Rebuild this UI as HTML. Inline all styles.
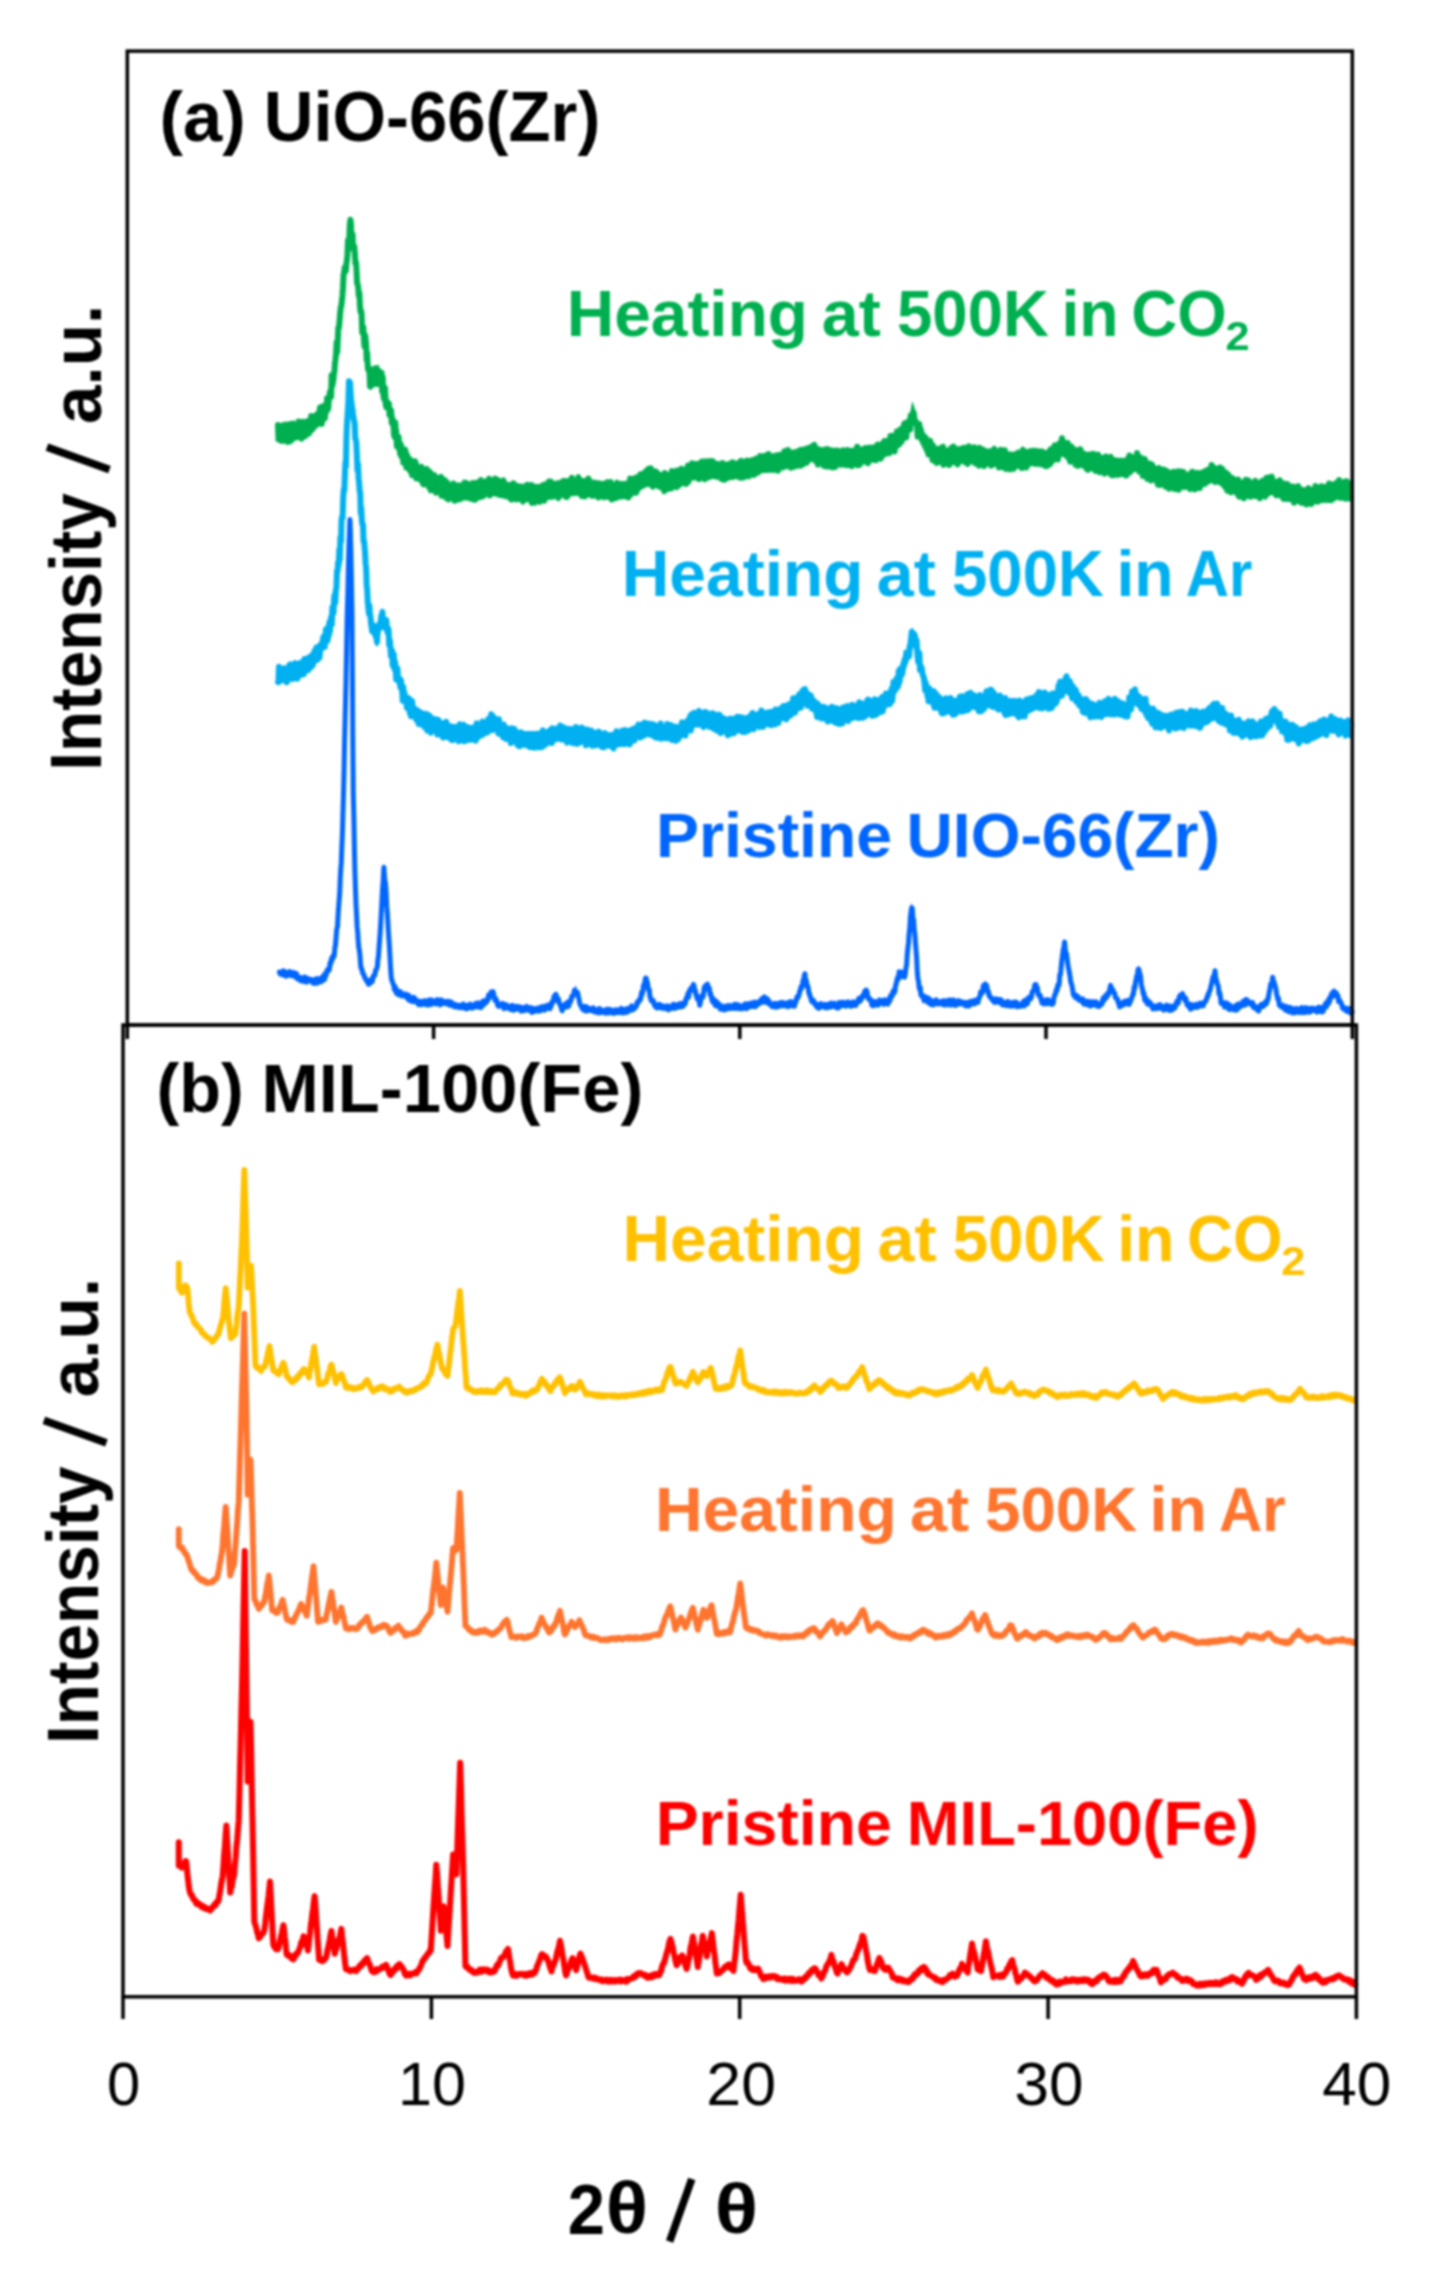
<!DOCTYPE html>
<html><head><meta charset="utf-8"><title>XRD patterns</title>
<style>html,body{margin:0;padding:0;background:#fff;}body{width:1433px;height:2289px;overflow:hidden;font-family:"Liberation Sans",sans-serif;}svg{display:block;}#w{filter:blur(0.8px);width:1433px;height:2289px;}</style>
</head><body><div id="w">
<svg width="1433" height="2289" viewBox="0 0 1433 2289">
<g font-family="Liberation Sans, sans-serif" font-size="100">
<text transform="translate(159.57 141.00) scale(0.70536 0.71014)" font-weight="bold" fill="#000">(a)</text>
<text transform="translate(263.67 141.00) scale(0.68870 0.71014)" font-weight="bold" fill="#000">UiO-66(Zr)</text>
<text transform="translate(156.48 1111.50) scale(0.68305 0.69420)" font-weight="bold" fill="#000">(b)</text>
<text transform="translate(261.38 1111.50) scale(0.68787 0.69420)" font-weight="bold" fill="#000">MIL-100(Fe)</text>
<text transform="translate(566.69 335.80) scale(0.65836 0.64928)" font-weight="bold" fill="#00B050">Heating</text>
<text transform="translate(821.81 335.80) scale(0.66471 0.64928)" font-weight="bold" fill="#00B050">at</text>
<text transform="translate(896.89 335.80) scale(0.63617 0.64928)" font-weight="bold" fill="#00B050">500K</text>
<text transform="translate(1061.39 335.80) scale(0.64474 0.64928)" font-weight="bold" fill="#00B050">in</text>
<text transform="translate(1131.15 335.80) scale(0.63732 0.64928)" font-weight="bold" fill="#00B050">CO</text>
<text transform="translate(1225.40 350.00) scale(0.43469 0.40000)" font-weight="bold" fill="#00B050">2</text>
<text transform="translate(622.49 1261.15) scale(0.65836 0.64928)" font-weight="bold" fill="#FFC000">Heating</text>
<text transform="translate(877.61 1261.15) scale(0.66471 0.64928)" font-weight="bold" fill="#FFC000">at</text>
<text transform="translate(952.69 1261.15) scale(0.63617 0.64928)" font-weight="bold" fill="#FFC000">500K</text>
<text transform="translate(1117.19 1261.15) scale(0.64474 0.64928)" font-weight="bold" fill="#FFC000">in</text>
<text transform="translate(1186.95 1261.15) scale(0.63732 0.64928)" font-weight="bold" fill="#FFC000">CO</text>
<text transform="translate(1281.20 1275.35) scale(0.43469 0.40000)" font-weight="bold" fill="#FFC000">2</text>
<text transform="translate(621.68 595.50) scale(0.65977 0.64493)" font-weight="bold" fill="#00B0F0">Heating</text>
<text transform="translate(876.81 595.50) scale(0.66471 0.64493)" font-weight="bold" fill="#00B0F0">at</text>
<text transform="translate(951.89 595.50) scale(0.63617 0.64493)" font-weight="bold" fill="#00B0F0">500K</text>
<text transform="translate(1116.39 595.50) scale(0.64474 0.64493)" font-weight="bold" fill="#00B0F0">in</text>
<text transform="translate(1185.70 595.50) scale(0.59907 0.64493)" font-weight="bold" fill="#00B0F0">Ar</text>
<text transform="translate(654.88 1531.40) scale(0.65977 0.63478)" font-weight="bold" fill="#FF742E">Heating</text>
<text transform="translate(910.01 1531.40) scale(0.66471 0.63478)" font-weight="bold" fill="#FF742E">at</text>
<text transform="translate(985.09 1531.40) scale(0.63617 0.63478)" font-weight="bold" fill="#FF742E">500K</text>
<text transform="translate(1149.59 1531.40) scale(0.64474 0.63478)" font-weight="bold" fill="#FF742E">in</text>
<text transform="translate(1218.90 1531.40) scale(0.59907 0.63478)" font-weight="bold" fill="#FF742E">Ar</text>
<text transform="translate(655.99 857.20) scale(0.64382 0.63478)" font-weight="bold" fill="#0066FF">Pristine</text>
<text transform="translate(906.56 857.20) scale(0.64079 0.63478)" font-weight="bold" fill="#0066FF">UIO-66(Zr)</text>
<text transform="translate(655.70 1844.80) scale(0.64354 0.63188)" font-weight="bold" fill="#FF0000">Pristine</text>
<text transform="translate(906.87 1844.80) scale(0.63309 0.63188)" font-weight="bold" fill="#FF0000">MIL-100(Fe)</text>
<text transform="translate(106.91 2104.89) scale(0.59792 0.60563)" font-weight="normal" fill="#000">0</text>
<text transform="translate(398.00 2104.89) scale(0.61212 0.60563)" font-weight="normal" fill="#000">10</text>
<text transform="translate(706.36 2104.89) scale(0.62745 0.60563)" font-weight="normal" fill="#000">20</text>
<text transform="translate(1014.62 2104.89) scale(0.62039 0.60563)" font-weight="normal" fill="#000">30</text>
<text transform="translate(1322.26 2104.89) scale(0.62190 0.60563)" font-weight="normal" fill="#000">40</text>
<text transform="translate(567.79 2233.50) scale(0.66939 0.70714)" font-weight="bold" fill="#000">2</text>
<text transform="translate(605.67 2233.47) scale(0.78261 0.72568)" font-weight="bold" fill="#000">θ</text>
<line x1="691.8" y1="2179" x2="669.6" y2="2241.5" stroke="#000" stroke-width="7.6"/>
<text transform="translate(714.69 2232.59) scale(0.80217 0.71081)" font-weight="bold" fill="#000">θ</text>
<text transform="translate(100.90 770.72) rotate(-90) scale(0.67469 0.71884)" font-weight="bold" fill="#000">Intensity</text>
<line x1="47.0" y1="447.2" x2="109.5" y2="469.6" stroke="#000" stroke-width="7.6"/>
<text transform="translate(100.80 423.98) rotate(-90) scale(0.69198 0.69636)" font-weight="bold" fill="#000">a.u.</text>
<text transform="translate(97.80 1743.92) rotate(-90) scale(0.67469 0.71884)" font-weight="bold" fill="#000">Intensity</text>
<line x1="43.9" y1="1420.4" x2="106.4" y2="1442.8" stroke="#000" stroke-width="7.6"/>
<text transform="translate(97.70 1397.18) rotate(-90) scale(0.69198 0.69636)" font-weight="bold" fill="#000">a.u.</text>
</g>
<g>
<polygon points="278.0,423.0 279.0,424.5 280.0,426.0 281.0,425.8 282.0,425.6 283.0,425.4 284.0,425.2 285.0,425.0 286.0,424.8 287.0,424.6 288.0,424.4 289.0,424.2 290.0,424.0 291.0,423.8 292.0,423.6 293.0,423.4 294.0,423.2 295.0,423.0 296.0,422.6 297.0,422.2 298.0,421.8 299.0,421.4 300.0,421.0 301.0,420.6 302.0,420.2 303.0,419.8 304.0,419.4 305.0,419.0 306.0,418.6 307.0,418.2 308.0,417.8 309.0,417.4 310.0,417.0 311.0,416.0 312.0,415.1 313.0,414.1 314.0,413.2 315.0,412.2 316.0,411.3 317.0,410.3 318.0,409.4 319.0,408.4 320.0,407.5 321.0,406.5 322.0,405.6 323.0,404.6 324.0,402.1 325.0,399.6 326.0,397.1 327.0,394.5 328.0,392.0 329.0,389.5 330.0,387.0 330.9,380.5 331.9,374.1 332.8,367.6 333.8,361.1 334.7,354.6 335.7,348.2 336.6,341.7 337.5,332.7 338.4,323.8 339.3,314.8 340.3,305.9 341.2,296.9 342.1,288.0 343.0,279.0 344.0,270.4 345.0,261.8 346.0,253.2 347.0,244.6 348.0,236.0 348.8,230.7 349.6,225.3 350.4,220.0 351.2,224.5 352.0,229.0 352.9,235.2 353.7,241.4 354.5,247.6 355.4,253.8 356.2,262.2 357.1,270.5 357.9,278.9 358.8,287.3 359.6,295.6 360.5,304.0 361.4,310.1 362.3,316.2 363.2,322.3 364.0,328.5 364.9,334.6 365.8,340.7 366.7,346.8 367.6,353.1 368.6,359.4 369.6,365.7 370.5,372.0 371.4,371.2 372.2,370.5 373.1,369.8 374.0,369.0 375.0,367.8 376.0,366.5 377.0,365.2 378.0,364.0 379.0,366.3 380.0,368.7 381.0,371.0 381.9,374.2 382.8,377.4 383.8,380.6 384.7,383.8 385.6,387.0 386.6,391.0 387.6,395.0 388.6,399.0 389.6,403.0 390.6,407.0 391.5,410.1 392.5,413.2 393.4,416.4 394.3,419.5 395.2,422.6 396.1,425.8 397.1,428.9 398.0,432.0 399.0,434.2 399.9,436.4 400.9,438.7 401.9,440.9 402.8,443.1 403.8,445.4 404.7,447.6 405.7,449.8 406.7,451.0 407.7,452.2 408.7,453.5 409.7,454.7 410.7,455.9 411.7,457.1 412.7,458.3 413.7,459.6 414.7,460.8 415.7,462.0 416.6,462.6 417.6,463.2 418.5,463.9 419.5,464.5 420.4,465.1 421.4,465.8 422.3,466.4 423.2,467.0 424.2,467.6 425.1,468.2 426.1,468.9 427.0,469.5 428.0,470.1 428.9,470.8 429.9,471.4 430.8,472.0 431.8,472.5 432.7,473.0 433.7,473.5 434.6,474.0 435.6,474.5 436.6,475.0 437.5,475.5 438.5,476.0 439.5,476.5 440.4,477.0 441.4,477.5 442.3,478.0 443.3,478.5 444.3,479.0 445.2,479.5 446.2,480.0 447.2,480.5 448.1,481.0 449.1,481.5 450.0,482.0 451.0,482.5 452.0,482.5 453.0,482.5 454.0,482.5 455.0,482.5 456.0,482.5 457.0,482.5 458.0,482.5 459.0,482.5 460.0,482.5 461.0,482.5 462.0,482.5 463.0,482.5 464.0,482.5 465.0,482.5 466.0,482.5 467.0,482.5 468.0,482.5 469.0,482.5 470.0,482.5 471.0,482.5 472.0,482.2 473.0,482.0 474.0,481.7 475.0,481.5 476.0,481.2 477.0,481.0 478.0,480.7 479.0,480.5 480.0,480.2 481.0,479.9 482.0,479.7 483.0,479.4 484.0,479.2 485.0,478.9 486.0,478.7 487.0,478.4 488.0,478.2 489.0,477.9 490.0,477.7 491.0,477.4 492.0,477.7 493.0,477.9 494.0,478.2 495.0,478.4 496.0,478.7 497.0,478.9 498.0,479.2 499.0,479.4 500.0,479.7 501.0,479.9 502.0,480.2 503.0,480.5 504.0,480.7 505.0,481.0 506.0,481.2 507.0,481.5 508.0,481.7 509.0,482.0 510.0,482.2 511.0,482.5 512.0,482.6 513.0,482.7 514.0,482.8 515.0,482.9 516.0,483.0 516.9,483.2 517.9,483.3 518.9,483.4 519.9,483.5 520.9,483.6 521.9,483.7 522.9,483.8 523.9,483.9 524.9,484.0 525.9,484.1 526.9,484.2 527.9,484.3 528.8,484.5 529.8,484.6 530.8,484.7 531.8,484.8 532.8,484.9 533.8,485.0 534.8,484.8 535.7,484.6 536.7,484.4 537.7,484.2 538.6,484.0 539.6,483.8 540.6,483.7 541.6,483.5 542.5,483.3 543.5,483.1 544.5,482.9 545.4,482.7 546.4,482.5 547.4,482.3 548.3,482.1 549.3,481.9 550.3,481.7 551.2,481.5 552.2,481.3 553.2,481.2 554.2,481.0 555.1,480.8 556.1,480.6 557.1,480.4 558.0,480.2 559.0,480.0 560.0,479.9 561.0,479.7 562.0,479.6 563.0,479.5 564.0,479.4 565.0,479.2 566.0,479.1 567.0,479.0 568.0,478.8 569.0,478.7 570.0,478.6 571.0,478.4 572.0,478.3 573.0,478.2 574.0,478.0 575.0,477.9 576.0,477.8 577.0,477.7 578.0,477.5 579.0,477.4 580.0,477.5 581.0,477.7 581.9,477.8 582.9,478.0 583.9,478.1 584.9,478.3 585.8,478.4 586.8,478.6 587.8,478.7 588.8,478.8 589.8,479.0 590.7,479.1 591.7,479.3 592.7,479.4 593.7,479.6 594.6,479.7 595.6,479.9 596.6,480.0 597.6,480.2 598.5,480.3 599.5,480.5 600.4,480.7 601.4,480.8 602.3,481.0 603.3,481.1 604.3,481.3 605.2,481.5 606.2,481.6 607.1,481.8 608.1,482.0 609.0,482.1 610.0,482.3 611.0,482.2 612.0,482.1 613.0,482.1 614.0,482.0 615.0,481.9 616.0,481.8 617.0,481.7 618.0,481.6 619.0,481.6 620.0,481.5 621.0,481.4 622.0,481.3 623.0,481.2 624.0,481.2 625.0,481.1 626.0,481.0 627.0,480.4 628.0,479.8 629.0,479.2 630.0,478.5 631.0,477.9 632.0,477.3 633.0,476.7 634.0,476.1 635.0,475.5 636.0,474.8 637.0,474.2 638.0,473.6 639.0,473.0 640.0,472.5 641.0,472.0 641.9,471.6 642.9,471.1 643.9,470.6 644.9,470.1 645.9,469.6 646.9,469.1 647.8,468.7 648.8,468.2 649.8,467.7 650.7,468.1 651.7,468.5 652.6,468.8 653.6,469.2 654.5,469.6 655.5,470.0 656.4,470.4 657.3,470.7 658.3,471.1 659.2,471.5 660.2,471.9 661.1,472.2 662.1,472.6 663.0,473.0 664.0,472.8 665.0,472.6 666.0,472.4 667.0,472.2 668.0,472.1 669.0,471.9 670.0,471.7 671.0,471.5 672.0,471.3 673.0,471.1 674.0,470.9 675.0,470.8 676.0,470.6 677.0,470.4 678.0,470.2 679.0,470.0 680.0,469.4 681.0,468.9 682.0,468.3 683.0,467.8 684.0,467.2 685.0,466.6 686.0,466.1 687.0,465.5 687.9,464.9 688.9,464.4 689.9,463.8 690.9,463.2 691.9,462.7 692.9,462.1 693.9,461.6 694.9,461.0 695.9,461.0 696.8,461.0 697.8,461.0 698.7,461.0 699.7,461.0 700.7,461.0 701.6,461.0 702.6,461.0 703.5,461.0 704.5,461.0 705.5,461.0 706.4,461.0 707.4,461.0 708.3,461.0 709.3,461.0 710.2,461.0 711.2,461.0 712.2,461.0 713.1,461.0 714.1,461.0 715.0,461.0 716.0,461.0 717.0,461.1 718.0,461.1 719.0,461.2 720.0,461.2 721.0,461.3 722.0,461.4 723.0,461.4 724.0,461.5 725.0,461.6 726.0,461.6 727.0,461.7 728.0,461.8 729.0,461.8 730.0,461.9 731.0,461.9 732.0,462.0 733.0,461.8 734.0,461.5 735.0,461.3 736.0,461.0 737.0,460.8 738.0,460.6 739.0,460.3 740.0,460.1 741.0,459.9 742.0,459.6 743.0,459.4 744.0,459.1 745.0,458.9 746.0,458.7 747.0,458.4 748.0,458.2 749.0,458.0 750.0,457.7 751.0,457.5 752.0,457.2 753.0,457.0 754.0,456.8 755.0,456.6 756.0,456.4 757.0,456.2 758.0,456.0 759.0,455.9 760.0,455.7 761.0,455.5 762.0,455.3 763.0,455.1 764.0,454.9 765.0,454.7 766.0,454.5 767.0,454.3 768.0,454.1 769.0,454.0 770.0,453.8 771.0,453.6 772.0,453.4 773.0,453.2 774.0,453.0 775.0,452.8 776.0,452.6 776.9,452.5 777.9,452.3 778.9,452.1 779.9,451.9 780.9,451.7 781.9,451.5 782.8,451.4 783.8,451.2 784.8,451.0 785.8,450.8 786.8,450.6 787.7,450.5 788.7,450.3 789.7,450.1 790.7,449.9 791.7,449.7 792.7,449.5 793.6,449.4 794.6,449.2 795.6,449.0 796.6,448.7 797.6,448.4 798.6,448.1 799.6,447.8 800.6,447.4 801.6,447.1 802.6,446.8 803.5,446.5 804.5,446.2 805.5,445.9 806.5,445.6 807.5,445.2 808.5,444.9 809.5,444.6 810.5,444.3 811.5,444.0 812.5,444.3 813.5,444.6 814.5,444.9 815.5,445.2 816.5,445.6 817.5,445.9 818.5,446.2 819.5,446.5 820.4,446.8 821.4,447.1 822.4,447.4 823.4,447.8 824.4,448.1 825.4,448.4 826.4,448.7 827.4,449.0 828.4,449.0 829.4,449.0 830.3,449.0 831.3,449.0 832.3,449.0 833.2,449.0 834.2,449.0 835.2,449.0 836.2,449.0 837.1,449.0 838.1,449.0 839.1,449.0 840.1,449.0 841.0,449.0 842.0,449.0 843.0,449.0 844.0,448.9 845.0,448.7 846.0,448.6 847.0,448.5 848.0,448.3 849.0,448.2 850.0,448.1 851.0,447.9 852.0,447.8 853.0,447.7 854.0,447.6 855.0,447.4 856.0,447.3 857.0,447.2 858.0,447.0 859.0,446.9 860.0,446.8 861.0,446.6 862.0,446.5 863.0,446.3 864.0,446.2 865.0,446.0 866.0,445.8 866.9,445.7 867.9,445.5 868.9,445.3 869.9,445.1 870.9,445.0 871.9,444.8 872.9,444.6 873.8,444.5 874.8,444.3 875.8,444.1 876.8,444.0 877.8,443.8 878.7,443.2 879.7,442.7 880.6,442.1 881.6,441.6 882.5,441.0 883.5,440.5 884.4,439.9 885.3,439.3 886.3,438.8 887.2,438.2 888.2,437.7 889.1,437.1 890.1,436.6 891.0,436.0 892.0,435.3 892.9,434.5 893.9,433.8 894.9,433.1 895.9,432.4 896.8,431.6 897.8,430.9 898.8,430.2 899.8,429.5 900.7,428.7 901.7,428.0 902.7,426.3 903.7,424.6 904.7,423.0 905.7,421.3 906.7,419.6 907.7,418.0 908.7,416.3 909.7,414.6 910.6,410.1 911.4,405.5 912.3,401.0 913.2,403.7 914.1,406.3 915.0,409.0 915.9,412.7 916.7,416.3 917.6,420.0 918.6,422.0 919.6,424.0 920.6,426.0 921.6,427.9 922.6,429.9 923.6,431.9 924.6,433.9 925.6,435.9 926.5,436.9 927.5,437.8 928.4,438.8 929.4,439.8 930.3,440.7 931.3,441.7 932.2,442.6 933.2,443.6 934.1,444.6 935.1,445.5 936.0,446.5 937.0,446.6 937.9,446.7 938.9,446.8 939.8,446.9 940.8,447.0 941.7,447.1 942.7,447.1 943.7,447.2 944.6,447.3 945.6,447.4 946.5,447.5 947.5,447.6 948.4,447.7 949.4,447.8 950.4,447.6 951.4,447.4 952.4,447.3 953.4,447.1 954.4,446.9 955.4,446.8 956.4,446.6 957.3,446.4 958.3,446.2 959.3,446.1 960.3,445.9 961.3,445.7 962.3,445.5 963.3,445.4 964.3,445.2 965.3,445.0 966.3,445.2 967.3,445.4 968.2,445.6 969.2,445.8 970.2,446.0 971.2,446.2 972.2,446.4 973.1,446.5 974.1,446.7 975.1,446.9 976.1,447.1 977.1,447.3 978.0,447.5 979.0,447.7 980.0,447.9 981.0,448.0 982.0,448.0 983.0,448.1 984.0,448.2 985.0,448.2 986.0,448.3 987.0,448.4 988.0,448.4 989.0,448.5 990.0,448.6 991.0,448.7 992.0,448.7 993.0,448.8 994.0,448.9 995.0,448.9 996.0,449.0 997.0,449.2 998.0,449.4 999.0,449.5 1000.0,449.7 1000.9,449.9 1001.9,450.1 1002.9,450.3 1003.9,450.4 1004.9,450.6 1005.9,450.8 1006.9,451.0 1007.8,451.2 1008.8,451.4 1009.8,451.5 1010.8,451.7 1011.8,451.9 1012.8,451.7 1013.7,451.5 1014.7,451.4 1015.7,451.2 1016.6,451.0 1017.6,450.8 1018.5,450.7 1019.5,450.5 1020.5,450.3 1021.4,450.1 1022.4,449.9 1023.4,449.8 1024.3,449.6 1025.3,449.4 1026.3,449.2 1027.2,449.1 1028.2,448.9 1029.1,448.7 1030.1,448.5 1031.1,448.4 1032.0,448.2 1033.0,448.0 1034.0,448.2 1035.0,448.3 1036.0,448.5 1037.0,448.6 1038.0,448.8 1039.0,449.0 1040.0,449.1 1041.0,449.3 1042.0,449.5 1043.0,449.6 1044.0,449.8 1045.0,450.0 1046.0,450.1 1047.0,450.3 1048.0,450.4 1049.0,450.6 1050.0,449.6 1051.0,448.5 1052.0,447.5 1053.0,446.4 1054.0,445.4 1055.0,444.3 1056.0,443.3 1057.0,442.2 1058.0,441.2 1059.0,440.1 1060.0,439.1 1061.0,438.0 1062.0,437.0 1063.0,438.0 1064.0,439.0 1065.0,440.0 1066.0,441.0 1067.0,441.7 1067.9,442.4 1068.8,443.1 1069.8,443.8 1070.8,444.5 1071.7,445.2 1072.7,445.9 1073.6,446.6 1074.5,447.3 1075.5,448.0 1076.5,448.3 1077.4,448.6 1078.4,448.9 1079.4,449.2 1080.3,449.6 1081.3,449.9 1082.3,450.2 1083.2,450.5 1084.2,450.8 1085.2,451.1 1086.2,451.4 1087.1,451.8 1088.1,452.1 1089.1,452.4 1090.0,452.7 1091.0,453.0 1092.0,453.2 1093.0,453.4 1094.0,453.5 1095.0,453.7 1096.0,453.9 1097.0,454.1 1098.0,454.3 1099.0,454.4 1100.0,454.6 1101.0,454.8 1102.0,455.0 1103.0,455.2 1104.0,455.4 1105.0,455.5 1106.0,455.7 1107.0,455.9 1108.0,456.1 1109.0,456.2 1110.0,456.4 1111.0,456.5 1112.0,456.7 1113.0,456.9 1114.0,457.0 1115.0,457.2 1116.0,457.4 1117.0,457.5 1118.0,457.7 1119.0,457.9 1120.0,458.0 1121.0,458.2 1122.0,458.3 1123.0,458.5 1124.0,458.1 1124.9,457.7 1125.9,457.3 1126.9,456.9 1127.8,456.5 1128.8,456.1 1129.8,455.8 1130.7,455.4 1131.7,455.0 1132.6,454.6 1133.6,454.2 1134.6,453.8 1135.5,453.4 1136.5,453.0 1137.4,453.7 1138.4,454.4 1139.3,455.0 1140.3,455.7 1141.2,456.4 1142.2,457.1 1143.1,457.8 1144.0,458.4 1145.0,459.1 1145.9,459.8 1146.9,460.5 1147.8,461.1 1148.8,461.8 1149.7,462.5 1150.7,463.0 1151.7,463.5 1152.7,464.0 1153.7,464.5 1154.7,465.0 1155.7,465.5 1156.7,466.0 1157.7,466.4 1158.6,466.9 1159.6,467.4 1160.6,467.9 1161.6,468.4 1162.6,468.9 1163.6,469.4 1164.6,469.9 1165.6,470.4 1166.6,470.5 1167.6,470.6 1168.6,470.7 1169.6,470.8 1170.6,470.8 1171.6,470.9 1172.6,471.0 1173.5,471.1 1174.5,471.2 1175.5,471.3 1176.5,471.4 1177.5,471.4 1178.5,471.5 1179.5,471.6 1180.5,471.7 1181.5,471.8 1182.5,471.8 1183.5,471.8 1184.5,471.8 1185.5,471.8 1186.5,471.8 1187.5,471.8 1188.5,471.8 1189.5,471.8 1190.4,471.8 1191.4,471.8 1192.4,471.8 1193.4,471.8 1194.4,471.8 1195.4,471.8 1196.4,471.8 1197.4,471.8 1198.4,471.3 1199.4,470.8 1200.4,470.3 1201.4,469.8 1202.4,469.3 1203.4,468.8 1204.4,468.3 1205.4,467.8 1206.4,467.3 1207.4,466.8 1208.4,466.3 1209.4,465.8 1210.4,465.3 1211.4,464.8 1212.4,464.3 1213.4,463.8 1214.3,464.4 1215.3,464.9 1216.2,465.5 1217.2,466.1 1218.1,466.7 1219.1,467.2 1220.0,467.8 1220.9,468.4 1221.9,468.9 1222.8,469.5 1223.8,470.1 1224.7,470.7 1225.7,471.2 1226.6,471.8 1227.5,472.4 1228.5,472.9 1229.5,473.5 1230.4,474.1 1231.3,474.6 1232.3,475.2 1233.2,475.8 1234.2,476.3 1235.2,476.9 1236.1,477.4 1237.0,478.0 1238.0,478.6 1239.0,479.1 1239.9,479.7 1240.9,479.8 1241.9,479.9 1242.9,479.9 1243.9,480.0 1244.9,480.1 1245.9,480.2 1246.9,480.3 1247.8,480.4 1248.8,480.4 1249.8,480.5 1250.8,480.6 1251.8,480.7 1252.8,480.8 1253.8,480.8 1254.8,480.9 1255.8,481.0 1256.8,480.8 1257.8,480.5 1258.8,480.2 1259.8,480.0 1260.8,479.8 1261.8,479.5 1262.8,479.2 1263.8,479.0 1264.7,478.8 1265.7,478.5 1266.7,478.2 1267.7,478.0 1268.7,477.8 1269.7,477.5 1270.7,477.2 1271.7,477.0 1272.7,477.4 1273.7,477.8 1274.7,478.3 1275.7,478.7 1276.7,479.1 1277.7,479.5 1278.7,479.9 1279.7,480.4 1280.6,480.8 1281.6,481.2 1282.6,481.6 1283.6,482.0 1284.6,482.4 1285.6,482.9 1286.6,483.3 1287.6,483.7 1288.6,483.9 1289.5,484.1 1290.5,484.3 1291.5,484.5 1292.4,484.8 1293.4,485.0 1294.4,485.2 1295.3,485.4 1296.3,485.6 1297.3,485.8 1298.3,486.0 1299.2,486.2 1300.2,486.4 1301.2,486.6 1302.1,486.9 1303.1,487.1 1304.1,487.3 1305.0,487.5 1306.0,487.7 1307.0,487.5 1308.0,487.4 1309.0,487.2 1310.0,487.0 1311.0,486.9 1312.0,486.7 1313.0,486.5 1314.0,486.4 1315.0,486.2 1316.0,486.0 1317.0,485.8 1318.0,485.7 1319.0,485.5 1320.0,485.3 1321.0,485.2 1322.0,485.0 1323.0,484.7 1324.0,484.3 1325.0,484.0 1326.0,483.7 1327.0,483.3 1328.0,483.0 1329.0,482.7 1330.0,482.4 1331.0,482.0 1332.0,481.7 1333.0,481.4 1334.0,481.0 1335.0,480.7 1336.0,480.4 1337.0,480.0 1338.0,479.7 1339.0,479.9 1340.0,480.1 1341.0,480.3 1342.0,480.5 1343.0,480.7 1344.0,480.9 1345.0,481.2 1346.0,481.4 1347.0,481.6 1348.0,481.8 1349.0,482.0 1350.0,482.2 1351.0,482.4 1351.0,500.4 1350.0,500.2 1349.0,500.0 1348.0,499.8 1347.0,499.6 1346.0,499.4 1345.0,499.2 1344.0,498.9 1343.0,498.7 1342.0,498.5 1341.0,498.3 1340.0,498.1 1339.0,497.9 1338.0,497.7 1337.0,498.0 1336.0,498.4 1335.0,498.7 1334.0,499.0 1333.0,499.4 1332.0,499.7 1331.0,500.0 1330.0,500.4 1329.0,500.7 1328.0,501.0 1327.0,501.3 1326.0,501.7 1325.0,502.0 1324.0,502.3 1323.0,502.7 1322.0,503.0 1321.0,503.2 1320.0,503.3 1319.0,503.5 1318.0,503.7 1317.0,503.8 1316.0,504.0 1315.0,504.2 1314.0,504.4 1313.0,504.5 1312.0,504.7 1311.0,504.9 1310.0,505.0 1309.0,505.2 1308.0,505.4 1307.0,505.5 1306.0,505.7 1305.0,505.5 1304.1,505.3 1303.1,505.1 1302.1,504.9 1301.2,504.6 1300.2,504.4 1299.2,504.2 1298.3,504.0 1297.3,503.8 1296.3,503.6 1295.3,503.4 1294.4,503.2 1293.4,503.0 1292.4,502.8 1291.5,502.5 1290.5,502.3 1289.5,502.1 1288.6,501.9 1287.6,501.7 1286.6,501.3 1285.6,500.9 1284.6,500.4 1283.6,500.0 1282.6,499.6 1281.6,499.2 1280.6,498.8 1279.7,498.4 1278.7,497.9 1277.7,497.5 1276.7,497.1 1275.7,496.7 1274.7,496.3 1273.7,495.8 1272.7,495.4 1271.7,495.0 1270.7,495.2 1269.7,495.5 1268.7,495.8 1267.7,496.0 1266.7,496.2 1265.7,496.5 1264.7,496.8 1263.8,497.0 1262.8,497.2 1261.8,497.5 1260.8,497.8 1259.8,498.0 1258.8,498.2 1257.8,498.5 1256.8,498.8 1255.8,499.0 1254.8,498.9 1253.8,498.8 1252.8,498.8 1251.8,498.7 1250.8,498.6 1249.8,498.5 1248.8,498.4 1247.8,498.4 1246.9,498.3 1245.9,498.2 1244.9,498.1 1243.9,498.0 1242.9,497.9 1241.9,497.9 1240.9,497.8 1239.9,497.7 1239.0,497.1 1238.0,496.6 1237.0,496.0 1236.1,495.4 1235.2,494.9 1234.2,494.3 1233.2,493.8 1232.3,493.2 1231.3,492.6 1230.4,492.1 1229.5,491.5 1228.5,490.9 1227.5,490.4 1226.6,489.8 1225.7,489.2 1224.7,488.7 1223.8,488.1 1222.8,487.5 1221.9,486.9 1220.9,486.4 1220.0,485.8 1219.1,485.2 1218.1,484.7 1217.2,484.1 1216.2,483.5 1215.3,482.9 1214.3,482.4 1213.4,481.8 1212.4,482.3 1211.4,482.8 1210.4,483.3 1209.4,483.8 1208.4,484.3 1207.4,484.8 1206.4,485.3 1205.4,485.8 1204.4,486.3 1203.4,486.8 1202.4,487.3 1201.4,487.8 1200.4,488.3 1199.4,488.8 1198.4,489.3 1197.4,489.8 1196.4,489.8 1195.4,489.8 1194.4,489.8 1193.4,489.8 1192.4,489.8 1191.4,489.8 1190.4,489.8 1189.5,489.8 1188.5,489.8 1187.5,489.8 1186.5,489.8 1185.5,489.8 1184.5,489.8 1183.5,489.8 1182.5,489.8 1181.5,489.8 1180.5,489.7 1179.5,489.6 1178.5,489.5 1177.5,489.4 1176.5,489.4 1175.5,489.3 1174.5,489.2 1173.5,489.1 1172.6,489.0 1171.6,488.9 1170.6,488.8 1169.6,488.8 1168.6,488.7 1167.6,488.6 1166.6,488.5 1165.6,488.4 1164.6,487.9 1163.6,487.4 1162.6,486.9 1161.6,486.4 1160.6,485.9 1159.6,485.4 1158.6,484.9 1157.7,484.4 1156.7,484.0 1155.7,483.5 1154.7,483.0 1153.7,482.5 1152.7,482.0 1151.7,481.5 1150.7,481.0 1149.7,480.5 1148.8,479.8 1147.8,479.1 1146.9,478.5 1145.9,477.8 1145.0,477.1 1144.0,476.4 1143.1,475.8 1142.2,475.1 1141.2,474.4 1140.3,473.7 1139.3,473.0 1138.4,472.4 1137.4,471.7 1136.5,471.0 1135.5,471.4 1134.6,471.8 1133.6,472.2 1132.6,472.6 1131.7,473.0 1130.7,473.4 1129.8,473.8 1128.8,474.1 1127.8,474.5 1126.9,474.9 1125.9,475.3 1124.9,475.7 1124.0,476.1 1123.0,476.5 1122.0,476.3 1121.0,476.2 1120.0,476.0 1119.0,475.9 1118.0,475.7 1117.0,475.5 1116.0,475.4 1115.0,475.2 1114.0,475.0 1113.0,474.9 1112.0,474.7 1111.0,474.5 1110.0,474.4 1109.0,474.2 1108.0,474.1 1107.0,473.9 1106.0,473.7 1105.0,473.5 1104.0,473.4 1103.0,473.2 1102.0,473.0 1101.0,472.8 1100.0,472.6 1099.0,472.4 1098.0,472.3 1097.0,472.1 1096.0,471.9 1095.0,471.7 1094.0,471.5 1093.0,471.4 1092.0,471.2 1091.0,471.0 1090.0,470.7 1089.1,470.4 1088.1,470.1 1087.1,469.8 1086.2,469.4 1085.2,469.1 1084.2,468.8 1083.2,468.5 1082.3,468.2 1081.3,467.9 1080.3,467.6 1079.4,467.2 1078.4,466.9 1077.4,466.6 1076.5,466.3 1075.5,466.0 1074.5,465.3 1073.6,464.6 1072.7,463.9 1071.7,463.2 1070.8,462.5 1069.8,461.8 1068.8,461.1 1067.9,460.4 1067.0,459.7 1066.0,459.0 1065.0,458.0 1064.0,457.0 1063.0,456.0 1062.0,455.0 1061.0,456.0 1060.0,457.1 1059.0,458.1 1058.0,459.2 1057.0,460.2 1056.0,461.3 1055.0,462.3 1054.0,463.4 1053.0,464.4 1052.0,465.5 1051.0,466.5 1050.0,467.6 1049.0,468.6 1048.0,468.4 1047.0,468.3 1046.0,468.1 1045.0,468.0 1044.0,467.8 1043.0,467.6 1042.0,467.5 1041.0,467.3 1040.0,467.1 1039.0,467.0 1038.0,466.8 1037.0,466.6 1036.0,466.5 1035.0,466.3 1034.0,466.2 1033.0,466.0 1032.0,466.2 1031.1,466.4 1030.1,466.5 1029.1,466.7 1028.2,466.9 1027.2,467.1 1026.3,467.2 1025.3,467.4 1024.3,467.6 1023.4,467.8 1022.4,467.9 1021.4,468.1 1020.5,468.3 1019.5,468.5 1018.5,468.7 1017.6,468.8 1016.6,469.0 1015.7,469.2 1014.7,469.4 1013.7,469.5 1012.8,469.7 1011.8,469.9 1010.8,469.7 1009.8,469.5 1008.8,469.4 1007.8,469.2 1006.9,469.0 1005.9,468.8 1004.9,468.6 1003.9,468.4 1002.9,468.3 1001.9,468.1 1000.9,467.9 1000.0,467.7 999.0,467.5 998.0,467.4 997.0,467.2 996.0,467.0 995.0,466.9 994.0,466.9 993.0,466.8 992.0,466.7 991.0,466.7 990.0,466.6 989.0,466.5 988.0,466.4 987.0,466.4 986.0,466.3 985.0,466.2 984.0,466.2 983.0,466.1 982.0,466.0 981.0,466.0 980.0,465.9 979.0,465.7 978.0,465.5 977.1,465.3 976.1,465.1 975.1,464.9 974.1,464.7 973.1,464.5 972.2,464.4 971.2,464.2 970.2,464.0 969.2,463.8 968.2,463.6 967.3,463.4 966.3,463.2 965.3,463.0 964.3,463.2 963.3,463.4 962.3,463.5 961.3,463.7 960.3,463.9 959.3,464.1 958.3,464.2 957.3,464.4 956.4,464.6 955.4,464.8 954.4,464.9 953.4,465.1 952.4,465.3 951.4,465.4 950.4,465.6 949.4,465.8 948.4,465.7 947.5,465.6 946.5,465.5 945.6,465.4 944.6,465.3 943.7,465.2 942.7,465.1 941.7,465.1 940.8,465.0 939.8,464.9 938.9,464.8 937.9,464.7 937.0,464.6 936.0,464.5 935.1,463.5 934.1,462.6 933.2,461.6 932.2,460.6 931.3,459.7 930.3,458.7 929.4,457.8 928.4,456.8 927.5,455.8 926.5,454.9 925.6,453.9 924.6,451.9 923.6,449.9 922.6,447.9 921.6,445.9 920.6,444.0 919.6,442.0 918.6,440.0 917.6,438.0 916.7,434.3 915.9,430.7 915.0,427.0 914.1,424.3 913.2,421.7 912.3,419.0 911.4,423.5 910.6,428.1 909.7,432.6 908.7,434.3 907.7,436.0 906.7,437.6 905.7,439.3 904.7,441.0 903.7,442.6 902.7,444.3 901.7,446.0 900.7,446.7 899.8,447.5 898.8,448.2 897.8,448.9 896.8,449.6 895.9,450.4 894.9,451.1 893.9,451.8 892.9,452.5 892.0,453.3 891.0,454.0 890.1,454.6 889.1,455.1 888.2,455.7 887.2,456.2 886.3,456.8 885.3,457.3 884.4,457.9 883.5,458.5 882.5,459.0 881.6,459.6 880.6,460.1 879.7,460.7 878.7,461.2 877.8,461.8 876.8,462.0 875.8,462.1 874.8,462.3 873.8,462.5 872.9,462.6 871.9,462.8 870.9,463.0 869.9,463.1 868.9,463.3 867.9,463.5 866.9,463.7 866.0,463.8 865.0,464.0 864.0,464.2 863.0,464.3 862.0,464.5 861.0,464.6 860.0,464.8 859.0,464.9 858.0,465.0 857.0,465.2 856.0,465.3 855.0,465.4 854.0,465.6 853.0,465.7 852.0,465.8 851.0,465.9 850.0,466.1 849.0,466.2 848.0,466.3 847.0,466.5 846.0,466.6 845.0,466.7 844.0,466.9 843.0,467.0 842.0,467.0 841.0,467.0 840.1,467.0 839.1,467.0 838.1,467.0 837.1,467.0 836.2,467.0 835.2,467.0 834.2,467.0 833.2,467.0 832.3,467.0 831.3,467.0 830.3,467.0 829.4,467.0 828.4,467.0 827.4,467.0 826.4,466.7 825.4,466.4 824.4,466.1 823.4,465.8 822.4,465.4 821.4,465.1 820.4,464.8 819.5,464.5 818.5,464.2 817.5,463.9 816.5,463.6 815.5,463.2 814.5,462.9 813.5,462.6 812.5,462.3 811.5,462.0 810.5,462.3 809.5,462.6 808.5,462.9 807.5,463.2 806.5,463.6 805.5,463.9 804.5,464.2 803.5,464.5 802.6,464.8 801.6,465.1 800.6,465.4 799.6,465.8 798.6,466.1 797.6,466.4 796.6,466.7 795.6,467.0 794.6,467.2 793.6,467.4 792.7,467.5 791.7,467.7 790.7,467.9 789.7,468.1 788.7,468.3 787.7,468.5 786.8,468.6 785.8,468.8 784.8,469.0 783.8,469.2 782.8,469.4 781.9,469.5 780.9,469.7 779.9,469.9 778.9,470.1 777.9,470.3 776.9,470.5 776.0,470.6 775.0,470.8 774.0,471.0 773.0,471.2 772.0,471.4 771.0,471.6 770.0,471.8 769.0,472.0 768.0,472.1 767.0,472.3 766.0,472.5 765.0,472.7 764.0,472.9 763.0,473.1 762.0,473.3 761.0,473.5 760.0,473.7 759.0,473.9 758.0,474.0 757.0,474.2 756.0,474.4 755.0,474.6 754.0,474.8 753.0,475.0 752.0,475.2 751.0,475.5 750.0,475.7 749.0,476.0 748.0,476.2 747.0,476.4 746.0,476.7 745.0,476.9 744.0,477.1 743.0,477.4 742.0,477.6 741.0,477.9 740.0,478.1 739.0,478.3 738.0,478.6 737.0,478.8 736.0,479.0 735.0,479.3 734.0,479.5 733.0,479.8 732.0,480.0 731.0,479.9 730.0,479.9 729.0,479.8 728.0,479.8 727.0,479.7 726.0,479.6 725.0,479.6 724.0,479.5 723.0,479.4 722.0,479.4 721.0,479.3 720.0,479.2 719.0,479.2 718.0,479.1 717.0,479.1 716.0,479.0 715.0,479.0 714.1,479.0 713.1,479.0 712.2,479.0 711.2,479.0 710.2,479.0 709.3,479.0 708.3,479.0 707.4,479.0 706.4,479.0 705.5,479.0 704.5,479.0 703.5,479.0 702.6,479.0 701.6,479.0 700.7,479.0 699.7,479.0 698.7,479.0 697.8,479.0 696.8,479.0 695.9,479.0 694.9,479.0 693.9,479.6 692.9,480.1 691.9,480.7 690.9,481.2 689.9,481.8 688.9,482.4 687.9,482.9 687.0,483.5 686.0,484.1 685.0,484.6 684.0,485.2 683.0,485.8 682.0,486.3 681.0,486.9 680.0,487.4 679.0,488.0 678.0,488.2 677.0,488.4 676.0,488.6 675.0,488.8 674.0,488.9 673.0,489.1 672.0,489.3 671.0,489.5 670.0,489.7 669.0,489.9 668.0,490.1 667.0,490.2 666.0,490.4 665.0,490.6 664.0,490.8 663.0,491.0 662.1,490.6 661.1,490.2 660.2,489.9 659.2,489.5 658.3,489.1 657.3,488.7 656.4,488.4 655.5,488.0 654.5,487.6 653.6,487.2 652.6,486.8 651.7,486.5 650.7,486.1 649.8,485.7 648.8,486.2 647.8,486.7 646.9,487.1 645.9,487.6 644.9,488.1 643.9,488.6 642.9,489.1 641.9,489.6 641.0,490.0 640.0,490.5 639.0,491.0 638.0,491.6 637.0,492.2 636.0,492.8 635.0,493.5 634.0,494.1 633.0,494.7 632.0,495.3 631.0,495.9 630.0,496.5 629.0,497.2 628.0,497.8 627.0,498.4 626.0,499.0 625.0,499.1 624.0,499.2 623.0,499.2 622.0,499.3 621.0,499.4 620.0,499.5 619.0,499.6 618.0,499.6 617.0,499.7 616.0,499.8 615.0,499.9 614.0,500.0 613.0,500.1 612.0,500.1 611.0,500.2 610.0,500.3 609.0,500.1 608.1,500.0 607.1,499.8 606.2,499.6 605.2,499.5 604.3,499.3 603.3,499.1 602.3,499.0 601.4,498.8 600.4,498.7 599.5,498.5 598.5,498.3 597.6,498.2 596.6,498.0 595.6,497.9 594.6,497.7 593.7,497.6 592.7,497.4 591.7,497.3 590.7,497.1 589.8,497.0 588.8,496.8 587.8,496.7 586.8,496.6 585.8,496.4 584.9,496.3 583.9,496.1 582.9,496.0 581.9,495.8 581.0,495.7 580.0,495.5 579.0,495.4 578.0,495.5 577.0,495.7 576.0,495.8 575.0,495.9 574.0,496.0 573.0,496.2 572.0,496.3 571.0,496.4 570.0,496.6 569.0,496.7 568.0,496.8 567.0,497.0 566.0,497.1 565.0,497.2 564.0,497.4 563.0,497.5 562.0,497.6 561.0,497.7 560.0,497.9 559.0,498.0 558.0,498.2 557.1,498.4 556.1,498.6 555.1,498.8 554.2,499.0 553.2,499.2 552.2,499.3 551.2,499.5 550.3,499.7 549.3,499.9 548.3,500.1 547.4,500.3 546.4,500.5 545.4,500.7 544.5,500.9 543.5,501.1 542.5,501.3 541.6,501.5 540.6,501.7 539.6,501.8 538.6,502.0 537.7,502.2 536.7,502.4 535.7,502.6 534.8,502.8 533.8,503.0 532.8,502.9 531.8,502.8 530.8,502.7 529.8,502.6 528.8,502.5 527.9,502.3 526.9,502.2 525.9,502.1 524.9,502.0 523.9,501.9 522.9,501.8 521.9,501.7 520.9,501.6 519.9,501.5 518.9,501.4 517.9,501.3 516.9,501.2 516.0,501.0 515.0,500.9 514.0,500.8 513.0,500.7 512.0,500.6 511.0,500.5 510.0,500.2 509.0,500.0 508.0,499.7 507.0,499.5 506.0,499.2 505.0,499.0 504.0,498.7 503.0,498.5 502.0,498.2 501.0,497.9 500.0,497.7 499.0,497.4 498.0,497.2 497.0,496.9 496.0,496.7 495.0,496.4 494.0,496.2 493.0,495.9 492.0,495.7 491.0,495.4 490.0,495.7 489.0,495.9 488.0,496.2 487.0,496.4 486.0,496.7 485.0,496.9 484.0,497.2 483.0,497.4 482.0,497.7 481.0,497.9 480.0,498.2 479.0,498.5 478.0,498.7 477.0,499.0 476.0,499.2 475.0,499.5 474.0,499.7 473.0,500.0 472.0,500.2 471.0,500.5 470.0,500.5 469.0,500.5 468.0,500.5 467.0,500.5 466.0,500.5 465.0,500.5 464.0,500.5 463.0,500.5 462.0,500.5 461.0,500.5 460.0,500.5 459.0,500.5 458.0,500.5 457.0,500.5 456.0,500.5 455.0,500.5 454.0,500.5 453.0,500.5 452.0,500.5 451.0,500.5 450.0,500.0 449.1,499.5 448.1,499.0 447.2,498.5 446.2,498.0 445.2,497.5 444.3,497.0 443.3,496.5 442.3,496.0 441.4,495.5 440.4,495.0 439.5,494.5 438.5,494.0 437.5,493.5 436.6,493.0 435.6,492.5 434.6,492.0 433.7,491.5 432.7,491.0 431.8,490.5 430.8,490.0 429.9,489.4 428.9,488.8 428.0,488.1 427.0,487.5 426.1,486.9 425.1,486.2 424.2,485.6 423.2,485.0 422.3,484.4 421.4,483.8 420.4,483.1 419.5,482.5 418.5,481.9 417.6,481.2 416.6,480.6 415.7,480.0 414.7,478.8 413.7,477.6 412.7,476.3 411.7,475.1 410.7,473.9 409.7,472.7 408.7,471.5 407.7,470.2 406.7,469.0 405.7,467.8 404.7,465.6 403.8,463.4 402.8,461.1 401.9,458.9 400.9,456.7 399.9,454.4 399.0,452.2 398.0,450.0 397.1,446.9 396.1,443.8 395.2,440.6 394.3,437.5 393.4,434.4 392.5,431.2 391.5,428.1 390.6,425.0 389.6,421.0 388.6,417.0 387.6,413.0 386.6,409.0 385.6,405.0 384.7,401.8 383.8,398.6 382.8,395.4 381.9,392.2 381.0,389.0 380.0,386.7 379.0,384.3 378.0,382.0 377.0,383.2 376.0,384.5 375.0,385.8 374.0,387.0 373.1,387.8 372.2,388.5 371.4,389.2 370.5,390.0 369.6,383.7 368.6,377.4 367.6,371.1 366.7,364.8 365.8,358.7 364.9,352.6 364.0,346.5 363.2,340.3 362.3,334.2 361.4,328.1 360.5,322.0 359.6,313.6 358.8,305.3 357.9,296.9 357.1,288.5 356.2,280.2 355.4,271.8 354.5,265.6 353.7,259.4 352.9,253.2 352.0,247.0 351.2,242.5 350.4,238.0 349.6,243.3 348.8,248.7 348.0,254.0 347.0,262.6 346.0,271.2 345.0,279.8 344.0,288.4 343.0,297.0 342.1,306.0 341.2,314.9 340.3,323.9 339.3,332.8 338.4,341.8 337.5,350.7 336.6,359.7 335.7,366.2 334.7,372.6 333.8,379.1 332.8,385.6 331.9,392.1 330.9,398.5 330.0,405.0 329.0,407.5 328.0,410.0 327.0,412.5 326.0,415.1 325.0,417.6 324.0,420.1 323.0,422.6 322.0,423.6 321.0,424.5 320.0,425.5 319.0,426.4 318.0,427.4 317.0,428.3 316.0,429.3 315.0,430.2 314.0,431.2 313.0,432.1 312.0,433.1 311.0,434.0 310.0,435.0 309.0,435.4 308.0,435.8 307.0,436.2 306.0,436.6 305.0,437.0 304.0,437.4 303.0,437.8 302.0,438.2 301.0,438.6 300.0,439.0 299.0,439.4 298.0,439.8 297.0,440.2 296.0,440.6 295.0,441.0 294.0,441.2 293.0,441.4 292.0,441.6 291.0,441.8 290.0,442.0 289.0,442.2 288.0,442.4 287.0,442.6 286.0,442.8 285.0,443.0 284.0,443.2 283.0,443.4 282.0,443.6 281.0,443.8 280.0,444.0 279.0,442.5 278.0,441.0" fill="#00B050" stroke="none"/>
<polyline points="278.0,425.1 278.5,439.4 279.0,438.5 279.5,429.6 280.0,434.9 280.6,433.9 281.2,437.6 281.8,440.1 282.4,426.8 283.0,425.4 283.6,440.7 284.2,432.9 284.8,439.0 285.4,424.5 286.0,432.8 286.6,437.9 287.2,428.4 287.8,441.9 288.4,440.9 289.0,424.3 289.6,424.1 290.2,433.7 290.8,441.2 291.4,430.5 292.0,427.2 292.6,431.0 293.2,423.4 293.8,427.0 294.4,430.9 295.0,431.9 295.6,426.7 296.2,426.4 296.8,425.9 297.4,430.3 298.0,426.8 298.6,421.5 299.2,436.7 299.8,431.2 300.4,432.5 301.0,423.6 301.6,438.7 302.2,436.0 302.8,421.7 303.4,425.5 304.0,432.6 304.6,432.2 305.2,436.2 305.8,426.2 306.4,433.7 307.0,430.4 307.6,423.2 308.2,428.4 308.8,433.7 309.4,432.8 310.0,426.1 310.6,427.1 311.2,416.0 311.8,419.4 312.4,429.4 313.0,421.6 313.5,416.4 314.1,423.0 314.7,425.3 315.3,424.2 315.9,418.0 316.5,418.6 317.1,419.4 317.7,424.0 318.3,418.5 318.9,415.5 319.5,416.8 320.0,407.5 320.6,407.2 321.2,419.2 321.8,423.9 322.4,415.9 323.0,411.6 323.6,405.9 324.2,410.7 324.8,418.4 325.3,412.9 325.9,407.0 326.5,411.6 327.1,398.2 327.7,402.1 328.2,409.0 328.8,400.4 329.4,396.7 330.0,391.6 330.6,393.1 331.1,397.1 331.6,375.3 332.2,386.3 332.8,383.2 333.3,380.7 333.9,374.1 334.4,371.7 335.0,362.4 335.5,359.4 336.1,353.1 336.6,342.3 337.2,352.0 337.8,340.6 338.3,327.9 338.9,328.0 339.5,321.9 340.1,313.8 340.7,307.9 341.3,305.8 341.8,301.7 342.4,295.8 343.0,287.2 343.6,274.3 344.1,273.3 344.7,267.5 345.2,270.5 345.8,271.0 346.3,265.0 346.9,260.2 347.4,255.8 348.0,240.4 348.6,247.5 349.2,240.3 349.8,225.1 350.4,219.8 350.9,222.8 351.5,239.9 352.0,233.2 352.6,234.7 353.1,248.6 353.7,247.4 354.3,246.4 354.8,252.2 355.4,263.3 356.0,262.1 356.5,269.6 357.1,283.6 357.7,284.3 358.2,287.3 358.8,295.8 359.4,292.8 359.9,305.3 360.5,311.5 361.1,311.0 361.6,313.3 362.2,332.3 362.8,328.8 363.3,326.9 363.9,338.4 364.4,346.3 365.0,335.0 365.6,338.9 366.1,345.2 366.7,360.0 367.2,352.9 367.8,366.9 368.3,370.0 368.9,371.0 369.4,368.5 370.0,386.4 370.5,386.7 371.1,380.8 371.7,374.7 372.2,382.3 372.8,377.0 373.4,379.9 374.0,374.6 374.6,379.8 375.1,368.2 375.7,372.0 376.3,384.0 376.9,381.6 377.4,370.0 378.0,379.8 378.6,370.8 379.2,384.1 379.8,381.8 380.4,377.0 381.0,375.3 381.6,372.7 382.1,391.2 382.7,377.2 383.3,394.1 383.9,398.8 384.5,393.3 385.0,387.8 385.6,403.0 386.2,407.2 386.7,404.3 387.3,402.8 387.8,402.6 388.4,404.2 388.9,403.7 389.5,414.9 390.0,412.5 390.6,410.2 391.2,410.4 391.7,423.0 392.3,417.9 392.9,423.7 393.4,422.3 394.0,434.6 394.6,437.1 395.2,422.2 395.7,427.6 396.3,432.0 396.9,446.4 397.4,444.4 398.0,437.9 398.6,436.9 399.2,447.1 399.8,451.5 400.4,454.7 401.0,444.9 401.6,456.5 402.1,454.1 402.7,451.7 403.3,462.5 403.9,449.7 404.5,460.3 405.1,449.5 405.7,452.5 406.3,467.3 406.9,454.8 407.5,465.9 408.1,463.6 408.6,468.9 409.2,460.6 409.8,460.8 410.4,460.6 411.0,472.2 411.6,468.0 412.2,475.3 412.8,474.8 413.3,461.2 413.9,469.8 414.5,462.0 415.1,461.5 415.7,462.9 416.3,478.3 416.9,477.2 417.4,478.4 418.0,469.5 418.6,475.1 419.2,478.7 419.8,471.4 420.3,475.4 420.9,469.2 421.5,466.9 422.1,470.8 422.7,483.0 423.2,477.2 423.8,484.5 424.4,476.0 425.0,472.9 425.6,483.0 426.2,484.2 426.7,469.0 427.3,481.9 427.9,471.3 428.5,472.1 429.1,487.2 429.6,471.5 430.2,475.7 430.8,490.3 431.4,479.8 432.0,474.3 432.6,475.6 433.2,477.3 433.8,487.2 434.4,475.3 435.0,491.0 435.6,481.2 436.1,492.7 436.7,491.9 437.3,480.5 437.9,480.0 438.5,484.6 439.1,477.7 439.7,488.5 440.3,477.2 440.9,476.9 441.5,495.7 442.1,483.0 442.7,489.0 443.3,486.5 443.9,484.2 444.5,479.8 445.1,496.3 445.7,497.6 446.2,498.0 446.8,482.0 447.4,484.2 448.0,492.2 448.6,499.4 449.2,491.4 449.8,494.5 450.4,494.3 451.0,486.9 451.6,492.3 452.2,487.8 452.8,486.7 453.4,483.5 453.9,487.3 454.5,500.7 455.1,490.5 455.7,494.4 456.3,494.2 456.9,499.9 457.5,489.4 458.1,487.8 458.6,488.2 459.2,488.0 459.8,498.1 460.4,499.0 461.0,487.8 461.6,488.4 462.2,492.3 462.8,493.0 463.4,493.3 463.9,486.7 464.5,482.4 465.1,486.6 465.7,483.4 466.3,492.5 466.9,483.3 467.5,483.4 468.1,494.1 468.6,487.5 469.2,497.1 469.8,491.4 470.4,498.4 471.0,484.9 471.6,491.4 472.2,496.8 472.8,483.0 473.4,499.4 473.9,484.5 474.5,495.8 475.1,499.7 475.7,496.4 476.3,486.7 476.9,482.5 477.5,490.1 478.1,497.7 478.6,485.6 479.2,496.9 479.8,482.4 480.4,496.9 481.0,480.1 481.6,485.3 482.2,496.3 482.8,494.3 483.4,496.1 483.9,494.7 484.5,492.7 485.1,491.5 485.7,481.6 486.3,486.3 486.9,481.0 487.5,491.4 488.1,490.3 488.6,482.3 489.2,478.6 489.8,495.5 490.4,492.4 491.0,487.3 491.6,487.3 492.2,493.4 492.8,486.0 493.4,485.0 493.9,484.1 494.5,482.7 495.1,478.4 495.7,490.4 496.3,486.2 496.9,489.2 497.5,479.7 498.1,485.4 498.6,481.5 499.2,481.4 499.8,484.1 500.4,495.0 501.0,487.0 501.6,487.2 502.2,491.4 502.8,484.3 503.4,480.2 503.9,490.2 504.5,489.9 505.1,492.8 505.7,489.0 506.3,493.8 506.9,494.8 507.5,485.6 508.1,490.7 508.6,490.5 509.2,485.8 509.8,489.5 510.4,492.5 511.0,499.2 511.6,499.5 512.2,487.4 512.8,494.5 513.4,483.2 514.0,483.7 514.6,492.1 515.2,499.1 515.8,485.6 516.4,497.1 517.0,499.4 517.6,488.6 518.2,495.9 518.8,499.0 519.4,490.0 520.0,496.3 520.6,497.0 521.2,494.4 521.8,499.5 522.4,500.3 523.0,501.6 523.6,494.2 524.2,486.8 524.8,488.3 525.4,487.7 526.0,494.5 526.6,498.1 527.2,484.8 527.8,496.8 528.4,497.5 529.0,490.6 529.6,493.8 530.2,487.2 530.8,498.0 531.4,485.0 532.0,502.9 532.6,499.7 533.2,496.4 533.8,489.6 534.4,501.7 535.0,502.5 535.6,486.8 536.1,498.8 536.7,499.9 537.3,496.3 537.9,497.0 538.5,492.0 539.1,501.0 539.7,501.8 540.2,490.5 540.8,498.4 541.4,491.2 542.0,486.0 542.6,488.9 543.2,485.0 543.8,499.8 544.3,500.6 544.9,484.6 545.5,493.6 546.1,489.8 546.7,484.2 547.3,487.4 547.9,486.4 548.5,495.8 549.0,481.6 549.6,485.0 550.2,489.6 550.8,481.5 551.4,492.9 552.0,492.4 552.6,496.7 553.1,484.6 553.7,486.0 554.3,490.7 554.9,485.5 555.5,491.3 556.1,484.8 556.7,493.0 557.2,494.9 557.8,495.1 558.4,498.1 559.0,489.9 559.6,488.7 560.2,495.6 560.8,493.9 561.4,490.0 561.9,486.4 562.5,484.4 563.1,481.0 563.7,494.2 564.3,481.1 564.9,492.9 565.5,489.0 566.1,496.9 566.6,493.0 567.2,496.9 567.8,480.9 568.4,487.8 569.0,489.1 569.6,484.0 570.2,487.6 570.8,484.8 571.4,487.9 571.9,477.8 572.5,486.1 573.1,486.2 573.7,483.4 574.3,485.1 574.9,492.3 575.5,490.3 576.1,486.6 576.6,489.5 577.2,484.3 577.8,480.9 578.4,477.1 579.0,482.2 579.6,488.4 580.2,493.8 580.8,492.9 581.3,487.0 581.9,496.1 582.5,486.2 583.1,493.4 583.7,485.4 584.3,491.8 584.9,496.5 585.5,483.7 586.0,481.2 586.6,489.8 587.2,488.2 587.8,485.0 588.4,478.4 589.0,485.8 589.6,486.6 590.1,486.2 590.7,495.0 591.3,489.8 591.9,492.7 592.5,496.0 593.1,493.2 593.7,488.4 594.3,493.3 594.8,491.4 595.4,491.7 596.0,491.4 596.6,487.2 597.2,491.6 597.8,491.7 598.3,497.6 598.9,494.8 599.5,496.1 600.1,494.7 600.7,495.7 601.3,491.8 601.8,487.0 602.4,485.5 603.0,494.1 603.6,497.3 604.2,491.1 604.8,483.8 605.3,496.8 605.9,490.3 606.5,490.1 607.1,482.2 607.7,491.1 608.3,495.7 608.8,489.6 609.4,488.4 610.0,494.3 610.6,482.1 611.2,491.3 611.8,499.6 612.4,494.7 613.0,489.2 613.6,494.6 614.1,493.0 614.7,485.4 615.3,485.3 615.9,498.2 616.5,486.4 617.1,482.6 617.7,497.0 618.3,491.1 618.9,488.1 619.5,490.7 620.1,495.0 620.7,484.1 621.3,493.3 621.9,494.4 622.4,496.3 623.0,485.9 623.6,492.3 624.2,485.1 624.8,491.3 625.4,483.8 626.0,495.5 626.6,496.6 627.2,486.0 627.8,483.6 628.4,497.4 629.0,492.1 629.5,494.4 630.1,478.5 630.7,494.7 631.3,489.1 631.9,482.9 632.5,484.7 633.1,490.6 633.7,490.7 634.3,479.0 634.9,486.9 635.5,477.8 636.0,492.8 636.6,482.4 637.2,490.9 637.8,487.1 638.4,484.4 639.0,477.5 639.6,482.2 640.2,474.5 640.8,474.2 641.4,484.9 642.0,477.9 642.6,485.0 643.2,475.0 643.8,483.8 644.4,483.5 645.0,475.4 645.6,471.3 646.2,476.5 646.8,478.0 647.4,470.3 648.0,471.6 648.6,468.8 649.2,478.8 649.8,484.1 650.4,471.5 650.9,468.3 651.5,481.3 652.1,483.6 652.7,486.7 653.2,480.2 653.8,475.3 654.4,485.0 655.0,471.5 655.5,482.7 656.1,471.5 656.7,477.6 657.3,479.6 657.8,477.6 658.4,473.9 659.0,475.3 659.6,486.7 660.1,480.1 660.7,482.6 661.3,475.8 661.9,485.6 662.4,478.5 663.0,483.8 663.6,489.7 664.2,491.2 664.8,473.0 665.4,487.2 666.0,488.2 666.6,477.9 667.1,479.0 667.7,482.6 668.3,489.0 668.9,479.0 669.5,488.0 670.1,485.6 670.7,473.9 671.3,488.3 671.9,471.1 672.5,473.5 673.1,483.2 673.7,471.6 674.3,477.6 674.9,472.7 675.4,479.0 676.0,486.0 676.6,487.2 677.2,470.5 677.8,470.9 678.4,485.6 679.0,470.3 679.6,474.4 680.2,471.1 680.8,470.2 681.4,468.7 681.9,479.9 682.5,481.6 683.1,480.2 683.7,482.9 684.3,479.1 684.9,473.6 685.5,477.8 686.1,483.9 686.7,477.4 687.2,469.5 687.8,465.6 688.4,481.9 689.0,475.1 689.6,470.1 690.2,474.7 690.8,473.5 691.4,472.4 692.0,463.3 692.5,468.5 693.1,469.3 693.7,465.0 694.3,477.6 694.9,468.6 695.5,473.1 696.1,474.1 696.7,474.6 697.2,474.2 697.8,474.8 698.4,465.3 699.0,479.1 699.6,463.4 700.2,478.0 700.8,476.7 701.3,476.7 701.9,461.5 702.5,462.2 703.1,475.9 703.7,469.4 704.3,467.5 704.9,479.2 705.5,461.3 706.0,470.6 706.6,468.9 707.2,462.9 707.8,468.0 708.4,473.9 709.0,477.3 709.6,461.0 710.1,470.5 710.7,462.2 711.3,475.7 711.9,462.1 712.5,461.1 713.1,467.8 713.7,474.4 714.2,466.5 714.8,463.0 715.4,475.6 716.0,475.8 716.6,476.8 717.2,466.3 717.8,468.7 718.4,465.3 719.0,471.3 719.6,467.0 720.1,467.2 720.7,475.7 721.3,479.0 721.9,472.0 722.5,462.9 723.1,473.3 723.7,469.5 724.3,479.8 724.9,474.7 725.5,477.0 726.1,474.5 726.7,471.3 727.3,478.2 727.9,477.0 728.4,466.8 729.0,464.3 729.6,468.4 730.2,471.3 730.8,463.3 731.4,468.0 732.0,472.4 732.6,462.2 733.2,476.7 733.8,473.4 734.4,466.9 735.0,466.5 735.6,467.3 736.2,466.7 736.8,474.6 737.4,469.7 738.0,470.1 738.6,462.8 739.2,477.2 739.8,465.8 740.4,465.7 741.0,460.7 741.6,477.8 742.2,468.2 742.8,476.3 743.4,476.4 744.0,477.1 744.6,474.0 745.2,475.9 745.8,475.7 746.4,473.3 747.0,460.5 747.6,467.7 748.2,468.6 748.8,476.4 749.4,472.3 750.0,470.6 750.6,471.3 751.2,463.8 751.8,474.7 752.4,468.9 753.0,464.1 753.6,465.2 754.2,474.9 754.8,466.3 755.4,459.2 756.0,458.7 756.6,468.9 757.2,466.4 757.8,472.8 758.4,459.0 759.0,463.2 759.6,469.1 760.2,456.1 760.8,456.9 761.4,465.3 762.0,459.8 762.6,456.7 763.2,459.5 763.8,466.5 764.4,464.3 765.0,455.7 765.6,455.5 766.2,470.1 766.8,466.1 767.4,457.1 768.0,470.0 768.6,453.9 769.2,460.4 769.8,469.4 770.4,466.7 771.0,458.5 771.6,469.9 772.2,464.2 772.8,469.2 773.4,469.6 774.0,460.6 774.6,465.2 775.2,462.6 775.8,470.1 776.3,467.2 776.9,465.8 777.5,467.3 778.1,470.7 778.7,456.5 779.3,455.4 779.8,465.6 780.4,465.9 781.0,461.0 781.6,460.3 782.2,458.7 782.8,467.6 783.3,465.9 783.9,461.8 784.5,451.3 785.1,466.6 785.7,459.0 786.3,453.8 786.8,455.8 787.4,463.1 788.0,450.0 788.6,452.1 789.2,455.4 789.8,466.4 790.3,463.7 790.9,467.8 791.5,459.6 792.1,460.0 792.7,459.5 793.3,458.9 793.8,459.1 794.4,464.3 795.0,466.7 795.6,456.3 796.2,460.3 796.8,454.0 797.4,453.7 798.0,457.4 798.5,458.7 799.1,457.8 799.7,465.8 800.3,450.1 800.9,458.9 801.5,465.5 802.1,460.4 802.7,457.0 803.3,453.1 803.8,453.5 804.4,463.5 805.0,462.5 805.6,458.1 806.2,462.2 806.8,462.6 807.4,460.9 808.0,451.9 808.6,453.2 809.1,459.4 809.7,451.1 810.3,458.1 810.9,452.8 811.5,449.9 812.1,452.4 812.7,446.1 813.3,450.8 813.9,452.1 814.4,444.8 815.0,447.9 815.6,449.7 816.2,461.3 816.8,456.4 817.4,450.8 818.0,464.5 818.6,450.6 819.2,455.7 819.7,460.1 820.3,459.4 820.9,454.7 821.5,461.4 822.1,456.1 822.7,460.6 823.3,456.5 823.9,465.8 824.5,461.2 825.0,449.5 825.6,450.4 826.2,466.5 826.8,452.7 827.4,449.0 828.0,453.3 828.6,457.6 829.1,466.6 829.7,456.1 830.3,462.2 830.9,464.4 831.4,450.2 832.0,460.1 832.6,467.4 833.2,458.9 833.8,458.7 834.3,455.1 834.9,466.5 835.5,466.9 836.1,450.5 836.6,459.0 837.2,456.5 837.8,461.3 838.4,450.8 839.0,453.5 839.5,453.8 840.1,457.6 840.7,463.6 841.3,464.8 841.8,463.4 842.4,461.4 843.0,450.2 843.6,455.8 844.2,461.0 844.8,453.9 845.4,457.8 846.0,465.3 846.6,450.2 847.2,464.2 847.8,449.9 848.3,455.1 848.9,464.9 849.5,451.5 850.1,457.5 850.7,455.4 851.3,464.3 851.9,466.2 852.5,452.7 853.1,456.5 853.7,464.1 854.3,457.4 854.9,451.0 855.5,461.3 856.1,453.2 856.7,455.9 857.2,446.8 857.8,465.3 858.4,459.0 859.0,464.0 859.6,464.7 860.2,451.3 860.8,456.4 861.4,454.4 862.0,460.4 862.6,461.9 863.2,450.1 863.8,450.9 864.3,459.0 864.9,453.3 865.5,447.9 866.1,449.0 866.7,455.9 867.3,456.5 867.9,463.2 868.4,455.0 869.0,456.4 869.6,447.5 870.2,452.5 870.8,449.8 871.4,457.6 871.9,449.4 872.5,448.3 873.1,451.1 873.7,452.9 874.3,450.3 874.9,455.3 875.5,447.1 876.0,460.3 876.6,456.7 877.2,453.6 877.8,444.4 878.4,449.2 878.9,455.7 879.5,454.5 880.1,457.4 880.7,458.5 881.2,447.3 881.8,450.3 882.4,446.9 883.0,442.7 883.5,442.6 884.1,444.4 884.7,440.9 885.3,449.1 885.8,451.9 886.4,448.9 887.0,450.9 887.6,441.8 888.1,441.0 888.7,447.6 889.3,453.3 889.9,444.2 890.4,435.9 891.0,435.9 891.6,440.9 892.2,446.3 892.8,435.8 893.4,438.0 894.0,446.2 894.6,451.5 895.2,438.9 895.8,443.4 896.4,441.4 896.9,431.5 897.5,436.9 898.1,432.8 898.7,434.5 899.3,443.9 899.9,441.8 900.5,429.2 901.1,429.4 901.7,441.3 902.3,428.5 902.8,431.6 903.4,429.7 904.0,424.6 904.6,423.3 905.1,424.4 905.7,428.4 906.3,437.6 906.8,431.0 907.4,422.5 908.0,429.9 908.6,421.2 909.1,424.8 909.7,420.2 910.2,429.4 910.7,415.4 911.3,421.2 911.8,415.4 912.3,416.5 912.8,413.6 913.4,420.2 913.9,413.0 914.5,419.8 915.0,420.3 915.5,420.7 916.0,423.6 916.6,425.3 917.1,424.8 917.6,436.6 918.2,432.7 918.7,432.2 919.3,423.9 919.9,433.7 920.5,428.5 921.0,430.4 921.6,435.7 922.2,439.0 922.7,434.5 923.3,436.0 923.9,442.1 924.5,442.1 925.0,441.9 925.6,437.4 926.2,443.1 926.8,449.0 927.3,447.5 927.9,448.1 928.5,454.4 929.1,452.7 929.6,452.5 930.2,440.7 930.8,446.6 931.4,454.3 932.0,444.8 932.5,459.8 933.1,445.8 933.7,460.3 934.3,448.3 934.8,460.8 935.4,461.5 936.0,452.4 936.6,462.9 937.2,449.1 937.7,462.3 938.3,453.5 938.9,454.6 939.5,448.6 940.1,457.8 940.7,451.6 941.2,459.2 941.8,461.8 942.4,458.1 943.0,446.8 943.6,464.8 944.2,464.3 944.7,459.1 945.3,454.1 945.9,457.6 946.5,463.8 947.1,455.8 947.7,461.9 948.2,458.6 948.8,455.3 949.4,465.0 950.0,455.0 950.6,458.6 951.2,448.0 951.8,455.8 952.3,447.5 952.9,460.1 953.5,446.6 954.1,447.3 954.7,448.5 955.3,448.9 955.9,455.8 956.5,452.8 957.1,451.1 957.6,464.5 958.2,463.0 958.8,458.1 959.4,460.8 960.0,461.0 960.6,450.0 961.2,460.6 961.8,449.7 962.4,455.7 962.9,451.7 963.5,447.8 964.1,459.5 964.7,462.0 965.3,450.5 965.9,461.3 966.5,451.3 967.1,457.3 967.7,463.9 968.2,459.7 968.8,446.3 969.4,453.6 970.0,452.6 970.6,451.1 971.2,461.2 971.8,454.2 972.4,459.2 972.9,458.1 973.5,456.0 974.1,447.3 974.7,459.1 975.3,463.4 975.9,449.9 976.5,458.9 977.1,456.1 977.6,453.4 978.2,460.6 978.8,465.7 979.4,447.7 980.0,464.4 980.6,454.7 981.2,463.3 981.8,450.8 982.4,461.2 983.0,449.5 983.6,454.0 984.1,466.1 984.7,460.2 985.3,462.7 985.9,456.6 986.5,456.8 987.1,457.2 987.7,462.6 988.3,461.7 988.9,451.7 989.5,456.4 990.1,458.4 990.7,459.0 991.3,465.8 991.9,464.2 992.4,451.1 993.0,455.4 993.6,450.4 994.2,448.9 994.8,449.8 995.4,451.9 996.0,463.1 996.6,461.3 997.2,463.9 997.8,454.3 998.3,451.9 998.9,467.5 999.5,464.8 1000.1,467.2 1000.7,449.7 1001.3,457.0 1001.9,461.6 1002.4,463.7 1003.0,467.1 1003.6,460.1 1004.2,457.4 1004.8,450.2 1005.4,465.5 1005.9,469.0 1006.5,467.7 1007.1,463.1 1007.7,457.2 1008.3,455.3 1008.9,465.6 1009.5,468.7 1010.0,469.3 1010.6,454.5 1011.2,462.4 1011.8,461.1 1012.4,459.4 1013.0,466.3 1013.6,468.9 1014.2,464.7 1014.7,464.2 1015.3,463.9 1015.9,463.1 1016.5,460.7 1017.1,455.1 1017.7,465.1 1018.3,452.5 1018.9,462.3 1019.5,457.3 1020.0,460.5 1020.6,462.0 1021.2,458.8 1021.8,468.1 1022.4,454.0 1023.0,449.6 1023.6,467.4 1024.2,455.1 1024.8,454.3 1025.3,456.8 1025.9,460.1 1026.5,467.4 1027.1,462.0 1027.7,454.5 1028.3,458.5 1028.9,456.8 1029.5,457.7 1030.1,456.0 1030.6,451.1 1031.2,455.3 1031.8,455.1 1032.4,451.4 1033.0,463.0 1033.6,454.4 1034.2,450.6 1034.8,458.6 1035.4,463.9 1036.0,462.8 1036.6,459.9 1037.1,462.1 1037.7,454.7 1038.3,451.1 1038.9,453.3 1039.5,455.2 1040.1,454.0 1040.7,457.6 1041.3,451.7 1041.9,451.4 1042.5,453.8 1043.1,452.9 1043.7,464.5 1044.3,459.5 1044.9,453.2 1045.4,457.7 1046.0,466.2 1046.6,460.7 1047.2,460.3 1047.8,457.3 1048.4,453.7 1049.0,462.0 1049.6,450.9 1050.2,463.8 1050.8,449.3 1051.4,461.8 1052.0,454.3 1052.5,459.4 1053.1,457.0 1053.7,447.6 1054.3,454.8 1054.9,445.3 1055.5,447.9 1056.1,449.9 1056.7,447.5 1057.3,454.0 1057.9,459.6 1058.5,447.0 1059.0,455.5 1059.6,443.2 1060.2,451.8 1060.8,444.3 1061.4,447.3 1062.0,438.2 1062.6,452.8 1063.1,441.6 1063.7,447.0 1064.3,444.3 1064.9,454.8 1065.4,451.2 1066.0,452.2 1066.6,455.3 1067.2,446.2 1067.8,442.9 1068.4,458.0 1069.0,448.7 1069.6,458.6 1070.2,461.7 1070.8,456.0 1071.3,446.4 1071.9,461.1 1072.5,457.3 1073.1,450.4 1073.7,450.1 1074.3,456.3 1074.9,449.4 1075.5,464.7 1076.1,461.1 1076.7,463.5 1077.3,455.4 1077.9,465.8 1078.5,451.0 1079.1,462.3 1079.7,453.7 1080.3,449.1 1080.9,451.5 1081.5,453.3 1082.1,464.1 1082.7,457.0 1083.2,459.2 1083.8,461.9 1084.4,455.5 1085.0,462.7 1085.6,463.5 1086.2,468.5 1086.8,460.7 1087.4,467.6 1088.0,469.9 1088.6,466.3 1089.2,459.9 1089.8,457.3 1090.4,454.2 1091.0,468.3 1091.6,455.1 1092.2,463.3 1092.8,461.4 1093.4,453.8 1094.0,457.1 1094.6,468.8 1095.1,463.5 1095.7,470.9 1096.3,470.7 1096.9,455.4 1097.5,466.6 1098.1,454.6 1098.7,461.9 1099.3,462.4 1099.9,472.3 1100.5,465.5 1101.1,457.9 1101.7,464.1 1102.3,464.5 1102.9,458.4 1103.4,461.6 1104.0,471.5 1104.6,473.6 1105.2,469.8 1105.8,456.4 1106.4,472.5 1107.0,464.1 1107.6,471.3 1108.2,459.0 1108.8,458.5 1109.4,473.0 1110.0,461.3 1110.6,456.8 1111.1,465.6 1111.7,475.0 1112.3,472.1 1112.9,463.9 1113.5,475.3 1114.1,471.7 1114.7,472.7 1115.3,469.0 1115.9,464.3 1116.5,474.1 1117.1,466.0 1117.7,474.9 1118.3,467.7 1118.9,474.6 1119.4,466.5 1120.0,465.6 1120.6,468.8 1121.2,463.7 1121.8,460.6 1122.4,469.1 1123.0,474.2 1123.6,463.0 1124.2,474.0 1124.8,472.2 1125.3,471.8 1125.9,464.7 1126.5,475.5 1127.1,471.4 1127.7,467.0 1128.3,458.0 1128.9,466.5 1129.5,455.6 1130.0,472.3 1130.6,461.3 1131.2,461.7 1131.8,464.9 1132.4,466.3 1133.0,465.0 1133.6,462.9 1134.2,465.5 1134.7,469.3 1135.3,461.5 1135.9,462.2 1136.5,467.9 1137.1,453.0 1137.6,456.4 1138.2,459.9 1138.8,458.2 1139.4,471.6 1139.9,457.8 1140.5,457.4 1141.1,461.8 1141.7,465.9 1142.2,472.2 1142.8,476.0 1143.4,473.6 1144.0,469.4 1144.5,459.0 1145.1,459.9 1145.7,471.1 1146.3,475.1 1146.8,465.0 1147.4,478.8 1148.0,471.2 1148.6,472.1 1149.1,473.3 1149.7,463.4 1150.3,465.5 1150.9,480.4 1151.5,468.0 1152.1,464.8 1152.6,468.8 1153.2,477.6 1153.8,469.0 1154.4,468.3 1155.0,469.9 1155.6,474.1 1156.2,479.2 1156.8,471.2 1157.4,482.4 1157.9,484.6 1158.5,482.0 1159.1,468.1 1159.7,473.0 1160.3,484.9 1160.9,483.9 1161.5,470.4 1162.1,476.5 1162.7,475.4 1163.2,482.9 1163.8,469.6 1164.4,475.3 1165.0,483.9 1165.6,486.8 1166.2,470.7 1166.8,481.2 1167.4,482.7 1168.0,486.7 1168.5,478.2 1169.1,488.7 1169.7,474.0 1170.3,472.5 1170.9,472.8 1171.5,481.6 1172.1,472.8 1172.7,475.6 1173.3,474.3 1173.8,471.7 1174.4,489.0 1175.0,477.1 1175.6,489.1 1176.2,484.6 1176.8,475.1 1177.4,488.7 1178.0,471.2 1178.6,489.7 1179.1,471.7 1179.7,476.0 1180.3,481.7 1180.9,471.4 1181.5,485.8 1182.1,472.9 1182.7,486.8 1183.3,472.0 1183.9,481.3 1184.4,475.3 1185.0,476.8 1185.6,480.6 1186.2,478.4 1186.8,478.7 1187.4,483.7 1188.0,475.0 1188.6,474.7 1189.2,484.3 1189.7,476.9 1190.3,489.0 1190.9,479.4 1191.5,480.3 1192.1,471.7 1192.7,471.7 1193.3,473.3 1193.9,483.2 1194.5,483.9 1195.0,489.4 1195.6,479.5 1196.2,484.7 1196.8,477.8 1197.4,472.7 1198.0,479.0 1198.6,484.0 1199.2,485.7 1199.8,488.2 1200.4,485.6 1201.0,480.2 1201.5,479.7 1202.1,478.5 1202.7,477.7 1203.3,481.3 1203.9,479.0 1204.5,484.0 1205.1,476.0 1205.7,476.1 1206.3,482.7 1206.9,479.4 1207.5,476.2 1208.1,476.7 1208.7,481.0 1209.3,476.9 1209.8,470.0 1210.4,470.7 1211.0,476.0 1211.6,465.1 1212.2,472.6 1212.8,480.5 1213.4,467.7 1214.0,472.1 1214.6,477.3 1215.2,482.0 1215.8,478.0 1216.4,477.0 1217.0,472.8 1217.6,474.2 1218.2,478.4 1218.8,473.3 1219.4,481.8 1220.0,467.5 1220.6,481.9 1221.2,482.1 1221.8,474.2 1222.4,469.0 1223.0,475.5 1223.6,480.7 1224.2,484.8 1224.8,486.7 1225.4,474.5 1226.0,472.5 1226.6,473.6 1227.2,490.4 1227.8,484.3 1228.3,474.8 1228.9,485.8 1229.5,491.2 1230.1,484.9 1230.6,478.1 1231.2,492.3 1231.8,487.7 1232.4,478.2 1233.0,489.6 1233.5,485.0 1234.1,486.7 1234.7,483.1 1235.3,482.0 1235.9,484.8 1236.4,487.1 1237.0,486.3 1237.6,494.3 1238.2,479.6 1238.7,482.3 1239.3,496.7 1239.9,490.7 1240.5,491.0 1241.1,491.3 1241.7,484.0 1242.3,486.9 1242.8,483.4 1243.4,482.4 1244.0,498.3 1244.6,493.7 1245.2,496.3 1245.8,479.7 1246.4,493.1 1247.0,485.6 1247.6,489.3 1248.1,492.7 1248.7,480.5 1249.3,487.0 1249.9,490.5 1250.5,496.7 1251.1,489.9 1251.7,486.2 1252.3,491.7 1252.9,491.3 1253.4,485.9 1254.0,490.8 1254.6,485.7 1255.2,480.7 1255.8,486.4 1256.4,482.0 1257.0,489.5 1257.6,489.6 1258.2,496.4 1258.7,494.0 1259.3,493.8 1259.9,498.3 1260.5,484.3 1261.1,486.2 1261.7,483.4 1262.3,480.8 1262.9,488.5 1263.5,488.3 1264.0,480.9 1264.6,495.8 1265.2,496.7 1265.8,479.3 1266.4,477.9 1267.0,478.9 1267.6,491.4 1268.2,493.6 1268.8,478.5 1269.3,477.3 1269.9,487.2 1270.5,483.1 1271.1,477.0 1271.7,476.7 1272.3,480.8 1272.9,480.8 1273.5,482.9 1274.1,488.0 1274.6,482.5 1275.2,482.4 1275.8,482.2 1276.4,495.3 1277.0,483.3 1277.6,489.5 1278.2,487.8 1278.8,485.8 1279.4,487.5 1279.9,480.3 1280.5,483.7 1281.1,492.6 1281.7,495.2 1282.3,485.1 1282.9,484.6 1283.5,498.7 1284.1,483.6 1284.7,497.1 1285.2,498.9 1285.8,485.2 1286.4,498.5 1287.0,485.8 1287.6,484.0 1288.2,488.8 1288.8,490.0 1289.4,494.8 1290.0,492.1 1290.6,498.9 1291.2,496.6 1291.8,486.4 1292.3,488.1 1292.9,498.5 1293.5,486.7 1294.1,502.7 1294.7,500.2 1295.3,489.1 1295.9,490.4 1296.5,489.9 1297.1,493.3 1297.7,490.1 1298.3,486.1 1298.9,490.4 1299.5,489.5 1300.1,492.6 1300.7,494.7 1301.3,502.8 1301.8,498.8 1302.4,498.1 1303.0,503.0 1303.6,494.0 1304.2,494.9 1304.8,491.6 1305.4,502.8 1306.0,503.9 1306.6,504.4 1307.2,498.5 1307.8,489.1 1308.4,488.2 1309.0,501.9 1309.6,503.4 1310.1,496.6 1310.7,503.9 1311.3,504.0 1311.9,500.5 1312.5,493.1 1313.1,494.7 1313.7,492.6 1314.3,493.3 1314.9,494.7 1315.5,485.9 1316.1,487.9 1316.7,488.6 1317.3,496.1 1317.9,501.8 1318.4,498.6 1319.0,487.8 1319.6,493.6 1320.2,496.7 1320.8,487.3 1321.4,486.1 1322.0,496.1 1322.6,488.8 1323.2,496.4 1323.8,487.2 1324.4,500.0 1325.0,489.4 1325.6,491.5 1326.1,493.6 1326.7,499.8 1327.3,500.1 1327.9,498.6 1328.5,495.3 1329.1,483.5 1329.7,485.5 1330.3,491.9 1330.9,500.3 1331.5,495.2 1332.1,484.8 1332.7,487.7 1333.3,499.1 1333.9,490.2 1334.4,496.9 1335.0,496.5 1335.6,494.8 1336.2,491.7 1336.8,492.2 1337.4,485.9 1338.0,481.5 1338.6,497.3 1339.2,480.1 1339.8,484.7 1340.4,491.4 1341.0,498.1 1341.5,483.9 1342.1,484.8 1342.7,496.3 1343.3,486.5 1343.9,488.1 1344.5,487.4 1345.1,481.6 1345.7,498.7 1346.3,494.2 1346.9,481.2 1347.5,483.0 1348.0,483.9 1348.6,488.4 1349.2,498.4 1349.8,484.3 1350.4,486.1 1351.0,487.8" fill="none" stroke="#00B050" stroke-width="6" stroke-linejoin="round" stroke-linecap="round"/>
<polygon points="278.0,665.8 279.0,666.4 280.0,667.1 281.0,666.8 282.0,666.6 283.0,666.3 284.0,666.1 285.0,665.8 286.0,665.6 287.0,665.3 288.0,665.1 289.0,664.8 290.0,664.6 291.0,664.3 292.0,664.1 293.0,663.8 294.0,663.6 295.0,663.3 296.0,662.6 297.0,662.0 298.0,661.3 299.0,660.6 300.0,660.0 301.0,659.3 302.0,658.6 303.0,658.0 304.0,657.3 305.0,656.6 306.0,656.0 307.0,655.3 308.0,654.6 309.0,654.0 310.0,653.3 311.0,652.0 312.0,650.8 313.0,649.5 314.0,648.3 315.0,647.0 316.0,645.8 317.0,644.5 318.0,643.3 319.0,642.0 320.0,640.8 321.0,638.8 322.0,636.8 323.0,634.7 324.0,632.7 325.0,630.7 326.0,628.7 327.0,626.7 328.0,624.6 329.0,622.6 330.0,620.6 330.9,615.1 331.8,609.7 332.6,604.2 333.5,598.7 334.4,593.3 335.3,587.8 336.1,579.5 337.0,571.1 337.9,562.8 338.7,554.5 339.5,546.1 340.4,537.8 341.4,522.7 342.4,507.6 343.4,492.5 344.4,477.4 345.4,462.3 346.2,441.4 347.1,420.4 347.9,399.5 348.4,389.7 349.0,379.8 349.8,381.8 350.5,383.8 351.3,389.0 352.2,394.3 353.0,399.5 354.0,412.1 355.0,424.6 356.0,437.2 357.0,449.7 358.0,462.3 359.0,474.8 360.0,487.3 361.0,499.8 362.0,512.3 363.0,524.8 363.9,537.4 364.9,550.1 365.8,562.8 366.7,575.4 367.6,584.8 368.6,594.1 369.6,603.4 370.5,612.8 371.4,615.6 372.3,618.5 373.2,621.3 374.2,624.1 375.1,627.0 376.0,629.8 377.0,629.8 378.0,629.8 378.9,624.3 379.9,618.8 380.9,613.3 381.8,607.8 382.5,609.1 383.3,610.5 384.0,611.8 385.0,615.2 386.0,618.7 387.0,622.1 388.0,625.6 388.9,630.3 389.9,635.0 390.9,639.7 391.8,644.4 392.8,649.2 393.7,653.9 394.7,658.6 395.6,663.3 396.5,666.0 397.4,668.8 398.4,671.5 399.3,674.3 400.2,677.0 401.1,679.8 402.0,682.5 402.9,685.3 403.9,688.0 404.8,690.8 405.7,693.5 406.7,694.7 407.7,696.0 408.7,697.2 409.7,698.4 410.7,699.6 411.7,700.9 412.7,702.1 413.7,703.3 414.7,704.6 415.7,705.8 416.6,706.4 417.6,707.0 418.5,707.7 419.5,708.3 420.4,708.9 421.4,709.5 422.3,710.2 423.2,710.8 424.2,711.4 425.1,712.0 426.1,712.7 427.0,713.3 428.0,713.9 428.9,714.5 429.9,715.2 430.8,715.8 431.8,716.2 432.7,716.5 433.7,716.9 434.6,717.3 435.6,717.7 436.6,718.0 437.5,718.4 438.5,718.8 439.5,719.1 440.4,719.5 441.4,719.9 442.3,720.3 443.3,720.6 444.3,721.0 445.2,721.4 446.2,721.7 447.2,722.1 448.1,722.5 449.1,722.9 450.0,723.2 451.0,723.6 452.0,723.7 453.0,723.8 454.0,724.0 455.0,724.1 456.0,724.2 457.0,724.3 458.0,724.5 459.0,724.6 460.0,724.7 461.0,724.8 462.0,725.0 463.0,725.1 464.0,725.2 465.0,725.3 466.0,725.5 467.0,725.6 468.0,725.7 469.0,725.8 470.0,726.0 471.0,726.1 472.0,725.7 472.9,725.3 473.9,724.9 474.9,724.6 475.8,724.2 476.8,723.8 477.8,723.4 478.8,723.0 479.7,722.6 480.7,722.3 481.7,721.9 482.6,721.5 483.6,721.1 484.6,720.3 485.6,719.4 486.6,718.6 487.6,717.8 488.6,716.9 489.6,716.1 490.6,715.3 491.6,714.5 492.6,713.6 493.6,712.8 494.5,713.8 495.4,714.8 496.4,715.7 497.3,716.7 498.2,717.7 499.1,718.7 500.0,719.7 500.9,720.7 501.9,721.6 502.8,722.6 503.7,723.6 504.7,724.0 505.6,724.4 506.6,724.8 507.5,725.3 508.5,725.7 509.5,726.1 510.4,726.5 511.4,726.9 512.4,727.3 513.3,727.8 514.3,728.2 515.2,728.6 516.2,729.0 517.2,729.4 518.1,729.8 519.1,730.3 520.0,730.7 521.0,731.1 522.0,731.1 523.0,731.1 524.0,731.1 525.0,731.1 526.0,731.1 527.0,731.1 528.0,731.1 529.0,731.1 530.0,731.1 531.0,731.1 532.0,731.1 533.0,731.1 534.0,731.1 535.0,731.1 536.0,731.1 537.0,731.1 538.0,731.1 539.0,731.1 540.0,731.1 541.0,731.1 542.0,730.7 543.0,730.4 544.0,730.0 545.0,729.7 546.0,729.3 547.0,729.0 548.0,728.6 549.0,728.3 550.0,727.9 551.0,727.6 552.0,727.2 553.0,726.9 554.0,726.5 555.0,726.2 556.0,725.8 557.0,725.5 558.0,725.1 559.0,724.8 560.0,724.9 560.9,725.0 561.9,725.1 562.9,725.2 563.9,725.4 564.8,725.5 565.8,725.6 566.8,725.7 567.8,725.8 568.7,725.9 569.7,726.0 570.7,726.1 571.6,726.2 572.6,726.4 573.6,726.5 574.6,726.6 575.5,726.7 576.5,726.8 577.5,727.0 578.4,727.2 579.4,727.4 580.3,727.6 581.3,727.8 582.2,728.0 583.2,728.2 584.2,728.4 585.1,728.6 586.1,728.8 587.0,729.1 588.0,729.3 588.9,729.5 589.9,729.7 590.9,729.9 591.8,730.1 592.8,730.3 593.7,730.5 594.7,730.7 595.6,730.9 596.6,731.1 597.6,731.2 598.5,731.3 599.5,731.4 600.4,731.4 601.4,731.5 602.3,731.6 603.3,731.7 604.3,731.8 605.2,731.9 606.2,732.0 607.1,732.0 608.1,732.1 609.0,732.2 610.0,732.3 611.0,732.1 612.0,732.0 613.0,731.8 614.0,731.6 615.0,731.5 616.0,731.3 617.0,731.2 618.0,731.0 619.0,730.8 620.0,730.7 621.0,730.5 622.0,730.3 623.0,730.2 624.0,730.0 625.0,729.9 626.0,729.7 627.0,729.2 627.9,728.7 628.9,728.1 629.9,727.6 630.9,727.1 631.8,726.6 632.8,726.1 633.8,725.5 634.8,725.0 635.7,724.5 636.7,724.0 637.7,723.4 638.7,722.9 639.6,722.4 640.6,721.9 641.6,721.4 642.6,720.8 643.5,720.3 644.5,719.8 645.5,720.0 646.4,720.3 647.4,720.5 648.4,720.8 649.4,721.0 650.3,721.3 651.3,721.5 652.3,721.7 653.3,722.0 654.2,722.2 655.2,722.5 656.2,722.7 657.2,722.9 658.1,723.2 659.1,723.4 660.1,723.7 661.1,723.9 662.0,724.2 663.0,724.4 664.0,724.4 665.0,724.4 666.0,724.4 667.0,724.4 668.0,724.4 669.0,724.4 670.0,724.4 671.0,724.4 672.0,724.4 673.0,724.4 674.0,724.4 675.0,724.4 676.0,724.4 677.0,724.4 678.0,724.4 679.0,724.4 680.0,723.6 681.0,722.7 682.0,721.9 683.0,721.1 684.0,720.2 685.0,719.4 686.0,718.6 687.0,717.8 687.9,716.9 688.9,716.1 689.9,715.3 690.9,714.4 691.9,713.6 692.9,712.8 693.9,711.9 694.9,711.1 695.9,711.1 696.9,711.1 697.9,711.1 698.9,711.1 699.9,711.1 700.9,711.1 701.9,711.1 702.8,711.1 703.8,711.1 704.8,711.1 705.8,711.1 706.8,711.1 707.8,711.1 708.8,711.1 709.8,711.1 710.8,711.1 711.8,711.6 712.8,712.1 713.8,712.6 714.8,713.1 715.8,713.6 716.8,714.1 717.8,714.6 718.8,715.1 719.7,715.6 720.7,716.1 721.7,716.6 722.7,717.1 723.7,717.6 724.7,718.1 725.7,718.6 726.7,719.1 727.7,718.9 728.7,718.8 729.7,718.6 730.7,718.4 731.7,718.3 732.7,718.1 733.7,717.9 734.7,717.8 735.6,717.6 736.6,717.4 737.6,717.2 738.6,717.1 739.6,716.9 740.6,716.7 741.6,716.6 742.6,716.4 743.6,716.1 744.6,715.7 745.6,715.4 746.6,715.1 747.6,714.7 748.6,714.4 749.6,714.1 750.5,713.8 751.5,713.4 752.5,713.1 753.5,712.8 754.5,712.4 755.5,712.1 756.5,711.8 757.5,711.4 758.5,711.1 759.5,710.9 760.5,710.8 761.5,710.6 762.5,710.4 763.5,710.3 764.5,710.1 765.5,710.0 766.5,709.8 767.4,709.6 768.4,709.5 769.4,709.3 770.4,709.1 771.4,709.0 772.4,708.8 773.4,708.7 774.4,708.5 775.4,708.0 776.4,707.5 777.4,707.0 778.4,706.5 779.4,706.0 780.4,705.5 781.4,705.0 782.3,704.5 783.3,704.0 784.3,703.5 785.3,703.0 786.3,702.5 787.3,702.0 788.3,701.5 789.3,701.0 790.3,700.5 791.3,699.7 792.3,698.9 793.3,698.1 794.3,697.3 795.3,696.5 796.3,695.7 797.3,694.9 798.2,694.1 799.2,693.4 800.2,692.6 801.2,691.8 802.2,691.0 803.2,690.2 804.2,689.4 805.2,688.6 806.2,687.8 807.2,688.9 808.1,690.0 809.1,691.1 810.0,692.2 811.0,693.3 811.9,694.4 812.9,695.5 813.8,696.6 814.8,697.7 815.7,698.8 816.6,699.9 817.6,701.0 818.5,702.1 819.5,703.2 820.5,703.5 821.5,703.9 822.5,704.2 823.5,704.5 824.5,704.9 825.5,705.2 826.5,705.5 827.5,705.8 828.4,706.2 829.4,706.5 830.4,706.8 831.4,707.2 832.4,707.5 833.4,707.8 834.4,708.2 835.4,708.5 836.4,708.3 837.3,708.1 838.2,707.9 839.2,707.7 840.1,707.5 841.1,707.3 842.0,707.1 843.0,707.0 844.0,706.8 844.9,706.6 845.9,706.4 846.8,706.2 847.8,706.0 848.7,705.8 849.7,705.5 850.7,705.1 851.7,704.8 852.7,704.5 853.7,704.1 854.7,703.8 855.7,703.5 856.7,703.1 857.6,702.8 858.6,702.5 859.6,702.2 860.6,701.8 861.6,701.5 862.6,701.2 863.6,700.8 864.6,700.5 865.6,700.3 866.6,700.2 867.6,700.0 868.6,699.8 869.6,699.7 870.6,699.5 871.6,699.3 872.5,699.1 873.5,699.0 874.5,698.8 875.5,698.6 876.5,698.5 877.5,698.3 878.5,698.1 879.5,698.0 880.5,697.8 881.5,696.8 882.4,695.9 883.4,694.9 884.3,694.0 885.3,693.0 886.2,692.1 887.2,691.1 888.1,690.2 889.1,689.2 890.0,688.3 891.0,687.3 892.0,685.1 892.9,683.0 893.9,680.8 894.9,678.6 895.9,676.4 896.8,674.3 897.8,672.1 898.8,669.9 899.8,667.7 900.7,665.6 901.7,663.4 902.7,660.8 903.7,658.1 904.7,655.4 905.7,652.8 906.7,650.1 907.7,647.5 908.7,644.8 909.7,642.2 910.6,637.1 911.4,631.9 912.3,626.8 913.0,628.8 913.8,630.8 914.5,632.8 915.3,635.8 916.0,638.8 916.8,641.8 917.6,644.8 918.5,649.2 919.4,653.7 920.2,658.1 921.1,662.5 922.0,667.0 922.9,671.4 923.9,673.7 924.9,676.0 925.9,678.3 926.9,680.6 927.9,682.9 928.9,685.2 929.9,687.5 930.9,689.8 931.8,690.4 932.8,690.9 933.7,691.5 934.6,692.1 935.6,692.7 936.5,693.2 937.5,693.8 938.4,694.4 939.3,694.9 940.3,695.5 941.2,696.1 942.1,696.7 943.1,697.2 944.0,697.8 945.0,697.8 945.9,697.8 946.9,697.8 947.8,697.8 948.8,697.8 949.7,697.8 950.7,697.8 951.7,697.8 952.6,697.8 953.6,697.8 954.5,697.8 955.5,697.8 956.4,697.8 957.4,697.8 958.3,697.4 959.3,697.1 960.2,696.7 961.2,696.3 962.1,695.9 963.1,695.6 964.0,695.2 964.9,694.8 965.9,694.5 966.8,694.1 967.8,693.7 968.7,693.3 969.7,693.0 970.6,692.6 971.5,692.9 972.5,693.1 973.4,693.4 974.4,693.6 975.3,693.9 976.2,694.2 977.2,694.4 978.1,694.7 979.1,694.9 980.0,695.2 981.0,694.7 981.9,694.2 982.9,693.7 983.9,693.2 984.8,692.7 985.8,692.3 986.7,691.8 987.7,691.3 988.7,690.8 989.6,690.3 990.6,689.8 991.6,690.4 992.6,691.0 993.6,691.6 994.6,692.1 995.6,692.7 996.6,693.3 997.6,693.9 998.5,694.5 999.5,695.1 1000.5,695.7 1001.5,696.3 1002.5,696.8 1003.5,697.4 1004.5,698.0 1005.5,698.6 1006.5,699.2 1007.5,699.3 1008.5,699.4 1009.5,699.4 1010.5,699.5 1011.5,699.6 1012.5,699.7 1013.5,699.8 1014.5,699.8 1015.4,699.9 1016.4,700.0 1017.4,700.1 1018.4,700.2 1019.4,700.3 1020.4,700.3 1021.4,700.4 1022.4,700.5 1023.4,700.0 1024.4,699.5 1025.4,699.0 1026.4,698.5 1027.4,698.0 1028.4,697.5 1029.4,697.0 1030.3,696.5 1031.3,696.1 1032.3,695.6 1033.3,695.1 1034.3,694.6 1035.3,694.1 1036.3,693.6 1037.3,693.1 1038.3,692.6 1039.3,692.6 1040.3,692.6 1041.3,692.6 1042.3,692.6 1043.3,692.6 1044.3,692.6 1045.3,692.6 1046.3,692.6 1047.3,692.6 1048.3,692.6 1049.3,692.6 1050.3,692.6 1051.3,692.6 1052.3,692.6 1053.3,692.6 1054.3,692.6 1055.3,690.9 1056.2,689.2 1057.2,687.5 1058.2,685.8 1059.1,684.1 1060.1,682.3 1061.0,680.6 1062.0,678.9 1063.0,677.2 1063.9,675.5 1064.9,673.8 1065.9,674.8 1066.9,675.8 1067.9,676.9 1068.8,677.9 1069.8,678.9 1070.8,680.0 1071.8,681.0 1072.8,682.0 1073.8,683.4 1074.7,684.9 1075.7,686.3 1076.7,687.7 1077.6,689.2 1078.6,690.6 1079.5,692.1 1080.5,693.5 1081.5,694.9 1082.4,696.4 1083.4,697.8 1084.4,698.2 1085.3,698.6 1086.2,699.0 1087.2,699.3 1088.2,699.7 1089.1,700.1 1090.1,700.5 1091.0,700.9 1092.0,701.3 1092.9,701.7 1093.9,702.0 1094.8,702.4 1095.8,702.8 1096.7,703.2 1097.7,702.9 1098.7,702.5 1099.7,702.2 1100.7,701.8 1101.7,701.5 1102.7,701.2 1103.7,700.8 1104.7,700.5 1105.6,700.2 1106.6,699.8 1107.6,699.5 1108.6,699.1 1109.6,698.8 1110.6,698.5 1111.6,698.1 1112.6,697.8 1113.5,698.2 1114.5,698.6 1115.5,699.0 1116.4,699.3 1117.3,699.7 1118.3,700.1 1119.2,700.5 1120.2,700.9 1121.2,701.3 1122.1,701.7 1123.0,702.0 1124.0,702.4 1125.0,702.8 1125.9,703.2 1126.9,701.3 1127.9,699.3 1128.9,697.4 1129.8,695.5 1130.8,693.6 1131.8,691.6 1132.8,689.7 1133.8,687.8 1134.8,688.7 1135.7,689.6 1136.7,690.5 1137.7,691.4 1138.6,692.3 1139.6,693.3 1140.5,694.2 1141.5,695.1 1142.5,696.0 1143.4,696.9 1144.4,697.8 1145.4,699.0 1146.3,700.2 1147.3,701.4 1148.3,702.6 1149.2,703.8 1150.2,705.1 1151.1,706.3 1152.1,707.5 1153.1,708.7 1154.0,709.9 1155.0,711.1 1156.0,711.3 1157.0,711.4 1158.0,711.6 1159.0,711.8 1160.0,711.9 1161.0,712.1 1162.0,712.3 1163.0,712.4 1163.9,712.6 1164.9,712.8 1165.9,713.0 1166.9,713.1 1167.9,713.3 1168.9,713.5 1169.9,713.6 1170.9,713.8 1171.9,713.6 1172.9,713.5 1173.9,713.3 1174.9,713.1 1175.9,713.0 1176.9,712.8 1177.9,712.6 1178.8,712.4 1179.8,712.3 1180.8,712.1 1181.8,711.9 1182.8,711.8 1183.8,711.6 1184.8,711.4 1185.8,711.3 1186.8,711.1 1187.8,711.1 1188.8,711.1 1189.8,711.1 1190.8,711.1 1191.8,711.1 1192.8,711.1 1193.8,711.1 1194.8,711.1 1195.8,711.1 1196.8,711.1 1197.8,711.1 1198.8,711.1 1199.8,711.1 1200.8,711.1 1201.8,711.1 1202.8,711.1 1203.8,710.1 1204.7,709.2 1205.7,708.2 1206.7,707.2 1207.6,706.3 1208.6,705.3 1209.5,704.4 1210.5,703.4 1211.5,702.4 1212.4,701.5 1213.4,700.5 1214.4,701.2 1215.3,702.0 1216.3,702.7 1217.3,703.4 1218.2,704.1 1219.2,704.9 1220.1,705.6 1221.1,706.3 1222.1,707.0 1223.0,707.8 1224.0,708.5 1225.0,709.5 1225.9,710.4 1226.9,711.4 1227.9,712.4 1228.8,713.3 1229.8,714.3 1230.7,715.2 1231.7,716.2 1232.7,717.2 1233.6,718.1 1234.6,719.1 1235.6,719.3 1236.6,719.4 1237.6,719.6 1238.6,719.8 1239.6,719.9 1240.6,720.1 1241.6,720.3 1242.5,720.4 1243.5,720.6 1244.5,720.8 1245.5,721.0 1246.5,721.1 1247.5,721.3 1248.5,721.5 1249.5,721.6 1250.5,721.8 1251.4,721.8 1252.4,721.8 1253.3,721.8 1254.3,721.8 1255.2,721.8 1256.2,721.8 1257.1,721.8 1258.0,721.8 1259.0,721.8 1259.9,721.8 1260.9,721.8 1261.8,721.8 1262.8,721.8 1263.7,721.8 1264.7,720.3 1265.6,718.9 1266.6,717.4 1267.6,716.0 1268.6,714.5 1269.5,713.1 1270.5,711.6 1271.5,710.2 1272.5,708.7 1273.4,707.3 1274.4,705.8 1275.4,707.3 1276.3,708.7 1277.3,710.2 1278.3,711.6 1279.2,713.1 1280.2,714.5 1281.1,716.0 1282.1,717.4 1283.1,718.9 1284.0,720.3 1285.0,721.8 1285.9,722.2 1286.9,722.5 1287.8,722.9 1288.8,723.3 1289.7,723.7 1290.7,724.0 1291.6,724.4 1292.5,724.8 1293.5,725.1 1294.4,725.5 1295.4,725.9 1296.3,726.3 1297.3,726.6 1298.2,727.0 1299.2,726.8 1300.2,726.7 1301.2,726.5 1302.2,726.4 1303.1,726.2 1304.1,726.0 1305.1,725.9 1306.1,725.7 1307.1,725.5 1308.1,725.4 1309.1,725.2 1310.0,725.0 1311.0,724.9 1312.0,724.7 1313.0,724.6 1314.0,724.4 1315.0,723.9 1316.0,723.4 1317.0,722.9 1318.0,722.4 1319.0,721.9 1320.0,721.4 1321.0,720.9 1322.0,720.4 1323.0,719.9 1324.0,719.4 1325.0,718.9 1326.0,718.4 1327.0,717.9 1328.0,717.4 1329.0,716.9 1330.0,716.4 1331.0,716.6 1331.9,716.8 1332.8,717.0 1333.8,717.2 1334.8,717.4 1335.7,717.6 1336.7,717.8 1337.6,717.9 1338.5,718.1 1339.5,718.3 1340.5,718.5 1341.4,718.7 1342.3,718.9 1343.3,719.1 1344.3,719.4 1345.3,719.8 1346.3,720.1 1347.3,720.4 1348.3,720.8 1349.3,721.1 1350.3,721.5 1351.3,721.8 1351.3,738.2 1350.3,737.9 1349.3,737.5 1348.3,737.2 1347.3,736.9 1346.3,736.5 1345.3,736.2 1344.3,735.8 1343.3,735.5 1342.3,735.3 1341.4,735.1 1340.5,734.9 1339.5,734.7 1338.5,734.5 1337.6,734.3 1336.7,734.2 1335.7,734.0 1334.8,733.8 1333.8,733.6 1332.8,733.4 1331.9,733.2 1331.0,733.0 1330.0,732.8 1329.0,733.3 1328.0,733.8 1327.0,734.3 1326.0,734.8 1325.0,735.3 1324.0,735.8 1323.0,736.3 1322.0,736.8 1321.0,737.3 1320.0,737.8 1319.0,738.3 1318.0,738.8 1317.0,739.3 1316.0,739.8 1315.0,740.3 1314.0,740.8 1313.0,741.0 1312.0,741.1 1311.0,741.3 1310.0,741.5 1309.1,741.6 1308.1,741.8 1307.1,741.9 1306.1,742.1 1305.1,742.3 1304.1,742.4 1303.1,742.6 1302.2,742.8 1301.2,742.9 1300.2,743.1 1299.2,743.2 1298.2,743.4 1297.3,743.0 1296.3,742.7 1295.4,742.3 1294.4,741.9 1293.5,741.5 1292.5,741.2 1291.6,740.8 1290.7,740.4 1289.7,740.1 1288.8,739.7 1287.8,739.3 1286.9,738.9 1285.9,738.6 1285.0,738.2 1284.0,736.7 1283.1,735.3 1282.1,733.8 1281.1,732.4 1280.2,730.9 1279.2,729.5 1278.3,728.0 1277.3,726.6 1276.3,725.1 1275.4,723.7 1274.4,722.2 1273.4,723.7 1272.5,725.1 1271.5,726.6 1270.5,728.0 1269.5,729.5 1268.6,730.9 1267.6,732.4 1266.6,733.8 1265.6,735.3 1264.7,736.7 1263.7,738.2 1262.8,738.2 1261.8,738.2 1260.9,738.2 1259.9,738.2 1259.0,738.2 1258.0,738.2 1257.1,738.2 1256.2,738.2 1255.2,738.2 1254.3,738.2 1253.3,738.2 1252.4,738.2 1251.4,738.2 1250.5,738.2 1249.5,738.0 1248.5,737.9 1247.5,737.7 1246.5,737.5 1245.5,737.4 1244.5,737.2 1243.5,737.0 1242.5,736.9 1241.6,736.7 1240.6,736.5 1239.6,736.3 1238.6,736.2 1237.6,736.0 1236.6,735.8 1235.6,735.7 1234.6,735.5 1233.6,734.5 1232.7,733.6 1231.7,732.6 1230.7,731.6 1229.8,730.7 1228.8,729.7 1227.9,728.8 1226.9,727.8 1225.9,726.8 1225.0,725.9 1224.0,724.9 1223.0,724.2 1222.1,723.4 1221.1,722.7 1220.1,722.0 1219.2,721.3 1218.2,720.5 1217.3,719.8 1216.3,719.1 1215.3,718.4 1214.4,717.6 1213.4,716.9 1212.4,717.9 1211.5,718.8 1210.5,719.8 1209.5,720.8 1208.6,721.7 1207.6,722.7 1206.7,723.6 1205.7,724.6 1204.7,725.6 1203.8,726.5 1202.8,727.5 1201.8,727.5 1200.8,727.5 1199.8,727.5 1198.8,727.5 1197.8,727.5 1196.8,727.5 1195.8,727.5 1194.8,727.5 1193.8,727.5 1192.8,727.5 1191.8,727.5 1190.8,727.5 1189.8,727.5 1188.8,727.5 1187.8,727.5 1186.8,727.5 1185.8,727.7 1184.8,727.8 1183.8,728.0 1182.8,728.2 1181.8,728.3 1180.8,728.5 1179.8,728.7 1178.8,728.9 1177.9,729.0 1176.9,729.2 1175.9,729.4 1174.9,729.5 1173.9,729.7 1172.9,729.9 1171.9,730.0 1170.9,730.2 1169.9,730.0 1168.9,729.9 1167.9,729.7 1166.9,729.5 1165.9,729.4 1164.9,729.2 1163.9,729.0 1163.0,728.9 1162.0,728.7 1161.0,728.5 1160.0,728.3 1159.0,728.2 1158.0,728.0 1157.0,727.8 1156.0,727.7 1155.0,727.5 1154.0,726.3 1153.1,725.1 1152.1,723.9 1151.1,722.7 1150.2,721.5 1149.2,720.2 1148.3,719.0 1147.3,717.8 1146.3,716.6 1145.4,715.4 1144.4,714.2 1143.4,713.3 1142.5,712.4 1141.5,711.5 1140.5,710.6 1139.6,709.7 1138.6,708.7 1137.7,707.8 1136.7,706.9 1135.7,706.0 1134.8,705.1 1133.8,704.2 1132.8,706.1 1131.8,708.1 1130.8,710.0 1129.8,711.9 1128.9,713.8 1127.9,715.8 1126.9,717.7 1125.9,719.6 1125.0,719.2 1124.0,718.8 1123.0,718.4 1122.1,718.1 1121.2,717.7 1120.2,717.3 1119.2,716.9 1118.3,716.5 1117.3,716.1 1116.4,715.7 1115.5,715.4 1114.5,715.0 1113.5,714.6 1112.6,714.2 1111.6,714.5 1110.6,714.9 1109.6,715.2 1108.6,715.6 1107.6,715.9 1106.6,716.2 1105.6,716.6 1104.7,716.9 1103.7,717.2 1102.7,717.6 1101.7,717.9 1100.7,718.2 1099.7,718.6 1098.7,718.9 1097.7,719.3 1096.7,719.6 1095.8,719.2 1094.8,718.8 1093.9,718.4 1092.9,718.1 1092.0,717.7 1091.0,717.3 1090.1,716.9 1089.1,716.5 1088.2,716.1 1087.2,715.7 1086.2,715.4 1085.3,715.0 1084.4,714.6 1083.4,714.2 1082.4,712.8 1081.5,711.3 1080.5,709.9 1079.5,708.5 1078.6,707.0 1077.6,705.6 1076.7,704.1 1075.7,702.7 1074.7,701.3 1073.8,699.8 1072.8,698.4 1071.8,697.4 1070.8,696.4 1069.8,695.3 1068.8,694.3 1067.9,693.3 1066.9,692.2 1065.9,691.2 1064.9,690.2 1063.9,691.9 1063.0,693.6 1062.0,695.3 1061.0,697.0 1060.1,698.7 1059.1,700.5 1058.2,702.2 1057.2,703.9 1056.2,705.6 1055.3,707.3 1054.3,709.0 1053.3,709.0 1052.3,709.0 1051.3,709.0 1050.3,709.0 1049.3,709.0 1048.3,709.0 1047.3,709.0 1046.3,709.0 1045.3,709.0 1044.3,709.0 1043.3,709.0 1042.3,709.0 1041.3,709.0 1040.3,709.0 1039.3,709.0 1038.3,709.0 1037.3,709.5 1036.3,710.0 1035.3,710.5 1034.3,711.0 1033.3,711.5 1032.3,712.0 1031.3,712.5 1030.3,713.0 1029.4,713.4 1028.4,713.9 1027.4,714.4 1026.4,714.9 1025.4,715.4 1024.4,715.9 1023.4,716.4 1022.4,716.9 1021.4,716.8 1020.4,716.7 1019.4,716.7 1018.4,716.6 1017.4,716.5 1016.4,716.4 1015.4,716.3 1014.5,716.2 1013.5,716.2 1012.5,716.1 1011.5,716.0 1010.5,715.9 1009.5,715.8 1008.5,715.8 1007.5,715.7 1006.5,715.6 1005.5,715.0 1004.5,714.4 1003.5,713.8 1002.5,713.2 1001.5,712.7 1000.5,712.1 999.5,711.5 998.5,710.9 997.6,710.3 996.6,709.7 995.6,709.1 994.6,708.6 993.6,708.0 992.6,707.4 991.6,706.8 990.6,706.2 989.6,706.7 988.7,707.2 987.7,707.7 986.7,708.2 985.8,708.7 984.8,709.1 983.9,709.6 982.9,710.1 981.9,710.6 981.0,711.1 980.0,711.6 979.1,711.3 978.1,711.1 977.2,710.8 976.2,710.6 975.3,710.3 974.4,710.0 973.4,709.8 972.5,709.5 971.5,709.3 970.6,709.0 969.7,709.4 968.7,709.7 967.8,710.1 966.8,710.5 965.9,710.9 964.9,711.2 964.0,711.6 963.1,712.0 962.1,712.3 961.2,712.7 960.2,713.1 959.3,713.5 958.3,713.8 957.4,714.2 956.4,714.2 955.5,714.2 954.5,714.2 953.6,714.2 952.6,714.2 951.7,714.2 950.7,714.2 949.7,714.2 948.8,714.2 947.8,714.2 946.9,714.2 945.9,714.2 945.0,714.2 944.0,714.2 943.1,713.6 942.1,713.1 941.2,712.5 940.3,711.9 939.3,711.3 938.4,710.8 937.5,710.2 936.5,709.6 935.6,709.1 934.6,708.5 933.7,707.9 932.8,707.3 931.8,706.8 930.9,706.2 929.9,703.9 928.9,701.6 927.9,699.3 926.9,697.0 925.9,694.7 924.9,692.4 923.9,690.1 922.9,687.8 922.0,683.4 921.1,678.9 920.2,674.5 919.4,670.1 918.5,665.6 917.6,661.2 916.8,658.2 916.0,655.2 915.3,652.2 914.5,649.2 913.8,647.2 913.0,645.2 912.3,643.2 911.4,648.3 910.6,653.5 909.7,658.6 908.7,661.2 907.7,663.9 906.7,666.6 905.7,669.2 904.7,671.9 903.7,674.5 902.7,677.2 901.7,679.8 900.7,682.0 899.8,684.1 898.8,686.3 897.8,688.5 896.8,690.7 895.9,692.8 894.9,695.0 893.9,697.2 892.9,699.4 892.0,701.5 891.0,703.7 890.0,704.7 889.1,705.6 888.1,706.6 887.2,707.5 886.2,708.5 885.3,709.4 884.3,710.4 883.4,711.3 882.4,712.3 881.5,713.2 880.5,714.2 879.5,714.4 878.5,714.5 877.5,714.7 876.5,714.9 875.5,715.0 874.5,715.2 873.5,715.4 872.5,715.6 871.6,715.7 870.6,715.9 869.6,716.1 868.6,716.2 867.6,716.4 866.6,716.6 865.6,716.7 864.6,716.9 863.6,717.2 862.6,717.6 861.6,717.9 860.6,718.2 859.6,718.6 858.6,718.9 857.6,719.2 856.7,719.6 855.7,719.9 854.7,720.2 853.7,720.5 852.7,720.9 851.7,721.2 850.7,721.5 849.7,721.9 848.7,722.2 847.8,722.4 846.8,722.6 845.9,722.8 844.9,723.0 844.0,723.2 843.0,723.4 842.0,723.6 841.1,723.7 840.1,723.9 839.2,724.1 838.2,724.3 837.3,724.5 836.4,724.7 835.4,724.9 834.4,724.6 833.4,724.2 832.4,723.9 831.4,723.6 830.4,723.2 829.4,722.9 828.4,722.6 827.5,722.2 826.5,721.9 825.5,721.6 824.5,721.3 823.5,720.9 822.5,720.6 821.5,720.3 820.5,719.9 819.5,719.6 818.5,718.5 817.6,717.4 816.6,716.3 815.7,715.2 814.8,714.1 813.8,713.0 812.9,711.9 811.9,710.8 811.0,709.7 810.0,708.6 809.1,707.5 808.1,706.4 807.2,705.3 806.2,704.2 805.2,705.0 804.2,705.8 803.2,706.6 802.2,707.4 801.2,708.2 800.2,709.0 799.2,709.8 798.2,710.6 797.3,711.3 796.3,712.1 795.3,712.9 794.3,713.7 793.3,714.5 792.3,715.3 791.3,716.1 790.3,716.9 789.3,717.4 788.3,717.9 787.3,718.4 786.3,718.9 785.3,719.4 784.3,719.9 783.3,720.4 782.3,720.9 781.4,721.4 780.4,721.9 779.4,722.4 778.4,722.9 777.4,723.4 776.4,723.9 775.4,724.4 774.4,724.9 773.4,725.1 772.4,725.2 771.4,725.4 770.4,725.6 769.4,725.7 768.4,725.9 767.4,726.0 766.5,726.2 765.5,726.4 764.5,726.5 763.5,726.7 762.5,726.9 761.5,727.0 760.5,727.2 759.5,727.3 758.5,727.5 757.5,727.8 756.5,728.2 755.5,728.5 754.5,728.8 753.5,729.2 752.5,729.5 751.5,729.8 750.5,730.2 749.6,730.5 748.6,730.8 747.6,731.1 746.6,731.5 745.6,731.8 744.6,732.1 743.6,732.5 742.6,732.8 741.6,733.0 740.6,733.1 739.6,733.3 738.6,733.5 737.6,733.6 736.6,733.8 735.6,734.0 734.7,734.2 733.7,734.3 732.7,734.5 731.7,734.7 730.7,734.8 729.7,735.0 728.7,735.2 727.7,735.3 726.7,735.5 725.7,735.0 724.7,734.5 723.7,734.0 722.7,733.5 721.7,733.0 720.7,732.5 719.7,732.0 718.8,731.5 717.8,731.0 716.8,730.5 715.8,730.0 714.8,729.5 713.8,729.0 712.8,728.5 711.8,728.0 710.8,727.5 709.8,727.5 708.8,727.5 707.8,727.5 706.8,727.5 705.8,727.5 704.8,727.5 703.8,727.5 702.8,727.5 701.9,727.5 700.9,727.5 699.9,727.5 698.9,727.5 697.9,727.5 696.9,727.5 695.9,727.5 694.9,727.5 693.9,728.3 692.9,729.2 691.9,730.0 690.9,730.8 689.9,731.7 688.9,732.5 687.9,733.3 687.0,734.2 686.0,735.0 685.0,735.8 684.0,736.6 683.0,737.5 682.0,738.3 681.0,739.1 680.0,740.0 679.0,740.8 678.0,740.8 677.0,740.8 676.0,740.8 675.0,740.8 674.0,740.8 673.0,740.8 672.0,740.8 671.0,740.8 670.0,740.8 669.0,740.8 668.0,740.8 667.0,740.8 666.0,740.8 665.0,740.8 664.0,740.8 663.0,740.8 662.0,740.6 661.1,740.3 660.1,740.1 659.1,739.8 658.1,739.6 657.2,739.3 656.2,739.1 655.2,738.9 654.2,738.6 653.3,738.4 652.3,738.1 651.3,737.9 650.3,737.7 649.4,737.4 648.4,737.2 647.4,736.9 646.4,736.7 645.5,736.4 644.5,736.2 643.5,736.7 642.6,737.2 641.6,737.8 640.6,738.3 639.6,738.8 638.7,739.3 637.7,739.8 636.7,740.4 635.7,740.9 634.8,741.4 633.8,741.9 632.8,742.5 631.8,743.0 630.9,743.5 629.9,744.0 628.9,744.5 627.9,745.1 627.0,745.6 626.0,746.1 625.0,746.3 624.0,746.4 623.0,746.6 622.0,746.8 621.0,746.9 620.0,747.1 619.0,747.2 618.0,747.4 617.0,747.6 616.0,747.7 615.0,747.9 614.0,748.1 613.0,748.2 612.0,748.4 611.0,748.5 610.0,748.7 609.0,748.6 608.1,748.5 607.1,748.4 606.2,748.4 605.2,748.3 604.3,748.2 603.3,748.1 602.3,748.0 601.4,747.9 600.4,747.8 599.5,747.8 598.5,747.7 597.6,747.6 596.6,747.5 595.6,747.3 594.7,747.1 593.7,746.9 592.8,746.7 591.8,746.5 590.9,746.3 589.9,746.1 588.9,745.9 588.0,745.7 587.0,745.5 586.1,745.2 585.1,745.0 584.2,744.8 583.2,744.6 582.2,744.4 581.3,744.2 580.3,744.0 579.4,743.8 578.4,743.6 577.5,743.4 576.5,743.2 575.5,743.1 574.6,743.0 573.6,742.9 572.6,742.8 571.6,742.6 570.7,742.5 569.7,742.4 568.7,742.3 567.8,742.2 566.8,742.1 565.8,742.0 564.8,741.9 563.9,741.8 562.9,741.6 561.9,741.5 560.9,741.4 560.0,741.3 559.0,741.2 558.0,741.6 557.0,741.9 556.0,742.2 555.0,742.6 554.0,743.0 553.0,743.3 552.0,743.6 551.0,744.0 550.0,744.4 549.0,744.7 548.0,745.1 547.0,745.4 546.0,745.8 545.0,746.1 544.0,746.5 543.0,746.8 542.0,747.1 541.0,747.5 540.0,747.5 539.0,747.5 538.0,747.5 537.0,747.5 536.0,747.5 535.0,747.5 534.0,747.5 533.0,747.5 532.0,747.5 531.0,747.5 530.0,747.5 529.0,747.5 528.0,747.5 527.0,747.5 526.0,747.5 525.0,747.5 524.0,747.5 523.0,747.5 522.0,747.5 521.0,747.5 520.0,747.1 519.1,746.7 518.1,746.2 517.2,745.8 516.2,745.4 515.2,745.0 514.3,744.6 513.3,744.2 512.4,743.8 511.4,743.3 510.4,742.9 509.5,742.5 508.5,742.1 507.5,741.7 506.6,741.2 505.6,740.8 504.7,740.4 503.7,740.0 502.8,739.0 501.9,738.0 500.9,737.1 500.0,736.1 499.1,735.1 498.2,734.1 497.3,733.1 496.4,732.1 495.4,731.2 494.5,730.2 493.6,729.2 492.6,730.0 491.6,730.9 490.6,731.7 489.6,732.5 488.6,733.4 487.6,734.2 486.6,735.0 485.6,735.8 484.6,736.7 483.6,737.5 482.6,737.9 481.7,738.3 480.7,738.7 479.7,739.0 478.8,739.4 477.8,739.8 476.8,740.2 475.8,740.6 474.9,741.0 473.9,741.3 472.9,741.7 472.0,742.1 471.0,742.5 470.0,742.4 469.0,742.2 468.0,742.1 467.0,742.0 466.0,741.9 465.0,741.8 464.0,741.6 463.0,741.5 462.0,741.4 461.0,741.2 460.0,741.1 459.0,741.0 458.0,740.9 457.0,740.8 456.0,740.6 455.0,740.5 454.0,740.4 453.0,740.2 452.0,740.1 451.0,740.0 450.0,739.6 449.1,739.3 448.1,738.9 447.2,738.5 446.2,738.1 445.2,737.8 444.3,737.4 443.3,737.0 442.3,736.7 441.4,736.3 440.4,735.9 439.5,735.5 438.5,735.2 437.5,734.8 436.6,734.4 435.6,734.1 434.6,733.7 433.7,733.3 432.7,732.9 431.8,732.6 430.8,732.2 429.9,731.6 428.9,731.0 428.0,730.3 427.0,729.7 426.1,729.1 425.1,728.5 424.2,727.8 423.2,727.2 422.3,726.6 421.4,726.0 420.4,725.3 419.5,724.7 418.5,724.1 417.6,723.5 416.6,722.8 415.7,722.2 414.7,721.0 413.7,719.7 412.7,718.5 411.7,717.3 410.7,716.1 409.7,714.8 408.7,713.6 407.7,712.4 406.7,711.1 405.7,709.9 404.8,707.2 403.9,704.4 402.9,701.7 402.0,698.9 401.1,696.2 400.2,693.4 399.3,690.7 398.4,687.9 397.4,685.2 396.5,682.4 395.6,679.7 394.7,675.0 393.7,670.3 392.8,665.6 391.8,660.9 390.9,656.1 389.9,651.4 388.9,646.7 388.0,642.0 387.0,638.5 386.0,635.1 385.0,631.7 384.0,628.2 383.3,626.9 382.5,625.5 381.8,624.2 380.9,629.7 379.9,635.2 378.9,640.7 378.0,646.2 377.0,646.2 376.0,646.2 375.1,643.4 374.2,640.5 373.2,637.7 372.3,634.9 371.4,632.0 370.5,629.2 369.6,619.9 368.6,610.5 367.6,601.2 366.7,591.8 365.8,579.2 364.9,566.5 363.9,553.9 363.0,541.2 362.0,528.7 361.0,516.2 360.0,503.7 359.0,491.2 358.0,478.7 357.0,466.1 356.0,453.6 355.0,441.0 354.0,428.5 353.0,415.9 352.2,410.7 351.3,405.4 350.5,400.2 349.8,398.2 349.0,396.2 348.4,406.1 347.9,415.9 347.1,436.8 346.2,457.8 345.4,478.7 344.4,493.8 343.4,508.9 342.4,524.0 341.4,539.1 340.4,554.2 339.5,562.5 338.7,570.9 337.9,579.2 337.0,587.5 336.1,595.9 335.3,604.2 334.4,609.7 333.5,615.1 332.6,620.6 331.8,626.1 330.9,631.5 330.0,637.0 329.0,639.0 328.0,641.0 327.0,643.1 326.0,645.1 325.0,647.1 324.0,649.1 323.0,651.1 322.0,653.2 321.0,655.2 320.0,657.2 319.0,658.5 318.0,659.7 317.0,661.0 316.0,662.2 315.0,663.5 314.0,664.7 313.0,666.0 312.0,667.2 311.0,668.5 310.0,669.7 309.0,670.4 308.0,671.0 307.0,671.7 306.0,672.4 305.0,673.0 304.0,673.7 303.0,674.4 302.0,675.0 301.0,675.7 300.0,676.4 299.0,677.0 298.0,677.7 297.0,678.4 296.0,679.0 295.0,679.7 294.0,680.0 293.0,680.2 292.0,680.5 291.0,680.7 290.0,681.0 289.0,681.2 288.0,681.5 287.0,681.7 286.0,682.0 285.0,682.2 284.0,682.5 283.0,682.7 282.0,683.0 281.0,683.2 280.0,683.5 279.0,682.9 278.0,682.2" fill="#00B0F0" stroke="none"/>
<polyline points="278.0,682.0 278.5,682.2 279.0,666.8 279.5,667.7 280.0,681.2 280.6,679.3 281.2,678.0 281.8,671.5 282.4,676.6 283.0,676.4 283.6,675.8 284.2,668.2 284.8,672.9 285.4,672.1 286.0,677.7 286.6,682.3 287.2,681.4 287.8,674.1 288.4,672.2 289.0,668.9 289.6,664.7 290.2,664.4 290.8,671.9 291.4,669.2 292.0,670.1 292.6,679.0 293.2,672.4 293.8,672.9 294.4,667.0 295.0,663.1 295.6,668.0 296.2,664.3 296.8,670.5 297.4,678.7 298.0,672.6 298.6,663.5 299.2,675.6 299.8,673.5 300.4,672.0 301.0,674.7 301.6,671.7 302.2,671.8 302.8,663.7 303.4,674.4 304.0,673.6 304.6,659.1 305.2,669.2 305.8,668.1 306.4,663.2 307.0,664.0 307.6,662.9 308.2,670.2 308.8,662.3 309.4,667.7 310.0,658.9 310.6,667.5 311.2,667.1 311.8,658.6 312.4,659.8 312.9,665.2 313.5,661.0 314.1,656.1 314.7,650.7 315.3,651.8 315.9,657.7 316.5,647.5 317.1,659.9 317.6,647.9 318.2,658.4 318.8,647.1 319.4,657.8 320.0,652.6 320.6,647.9 321.2,646.9 321.8,648.1 322.4,645.8 322.9,639.7 323.5,636.7 324.1,640.9 324.7,647.1 325.3,640.5 325.9,629.6 326.5,641.6 327.1,638.7 327.6,640.7 328.2,626.9 328.8,635.5 329.4,622.2 330.0,631.5 330.6,621.2 331.2,616.7 331.8,624.5 332.4,607.3 332.9,611.0 333.5,613.2 334.1,598.8 334.7,594.5 335.3,602.7 335.9,589.1 336.4,588.7 337.0,571.1 337.6,571.4 338.1,562.4 338.7,565.7 339.3,549.8 339.8,559.6 340.4,537.6 341.0,541.6 341.5,520.8 342.1,516.5 342.6,518.0 343.2,498.0 343.7,490.1 344.3,490.6 344.8,476.9 345.4,462.5 345.9,466.6 346.4,439.2 346.9,424.7 347.4,417.5 347.9,409.7 348.4,402.1 349.0,381.2 349.5,386.5 350.0,382.4 350.5,391.1 351.0,399.8 351.5,402.5 352.0,408.5 352.5,409.1 353.0,414.1 353.6,418.3 354.1,421.2 354.7,423.8 355.2,438.4 355.8,439.4 356.3,442.6 356.9,455.6 357.4,470.1 358.0,463.9 358.6,478.9 359.1,482.5 359.7,491.6 360.2,492.0 360.8,513.3 361.3,507.9 361.9,521.0 362.4,524.6 363.0,524.5 363.5,541.2 364.1,541.1 364.6,546.9 365.1,553.7 365.6,563.2 366.2,569.3 366.7,586.0 367.2,589.1 367.8,602.8 368.3,607.3 368.9,613.7 369.4,605.6 370.0,614.7 370.5,616.6 371.1,624.3 371.6,626.6 372.1,631.4 372.7,631.5 373.2,625.2 373.8,629.8 374.4,633.4 374.9,625.9 375.4,628.1 376.0,636.4 376.5,631.2 377.0,641.9 377.5,633.4 378.0,631.0 378.5,629.3 379.1,627.0 379.6,623.6 380.2,625.8 380.7,621.7 381.3,615.8 381.8,618.5 382.4,611.9 382.9,625.2 383.4,627.2 384.0,624.0 384.6,620.8 385.1,624.1 385.7,627.3 386.3,620.0 386.9,628.4 387.4,632.3 388.0,628.2 388.6,629.6 389.2,644.9 389.8,640.1 390.3,645.7 390.9,655.7 391.5,653.1 392.1,650.4 392.7,665.5 393.3,657.7 393.8,654.3 394.4,669.0 395.0,661.6 395.6,668.1 396.2,679.3 396.8,678.1 397.4,668.3 398.0,677.8 398.6,678.8 399.2,681.9 399.8,678.8 400.4,687.3 400.9,680.0 401.5,685.5 402.1,688.8 402.7,700.5 403.3,687.1 403.9,700.9 404.5,692.7 405.1,701.2 405.7,699.8 406.3,701.8 406.9,707.6 407.5,702.0 408.1,697.9 408.6,698.7 409.2,698.7 409.8,712.9 410.4,710.0 411.0,716.3 411.6,712.3 412.2,701.3 412.8,713.2 413.3,716.0 413.9,715.8 414.5,712.5 415.1,710.8 415.7,713.2 416.3,719.6 416.9,710.7 417.4,715.6 418.0,715.1 418.6,723.9 419.2,721.7 419.8,724.3 420.3,723.0 420.9,713.9 421.5,713.1 422.1,718.0 422.7,714.4 423.2,717.7 423.8,722.5 424.4,727.1 425.0,721.7 425.6,726.1 426.2,713.8 426.7,718.8 427.3,730.5 427.9,715.9 428.5,721.0 429.1,715.2 429.6,715.9 430.2,730.6 430.8,732.6 431.4,726.8 432.0,717.9 432.6,721.1 433.2,720.2 433.8,728.2 434.4,728.6 435.0,724.5 435.6,726.3 436.1,719.2 436.7,727.0 437.3,734.4 437.9,731.3 438.5,719.9 439.1,727.5 439.7,731.2 440.3,723.4 440.9,734.9 441.5,727.4 442.1,731.9 442.7,726.9 443.3,737.5 443.9,734.0 444.5,730.6 445.1,723.3 445.7,728.7 446.2,721.7 446.8,731.9 447.4,737.1 448.0,725.0 448.6,731.1 449.2,730.8 449.8,729.7 450.4,735.3 451.0,739.5 451.6,735.5 452.2,731.5 452.8,740.2 453.4,729.1 453.9,736.5 454.5,735.0 455.1,736.9 455.7,738.6 456.3,727.6 456.9,734.7 457.5,730.9 458.1,735.6 458.6,741.2 459.2,735.2 459.8,724.3 460.4,732.4 461.0,736.8 461.6,739.9 462.2,735.8 462.8,738.8 463.4,724.8 463.9,741.2 464.5,737.5 465.1,735.4 465.7,740.8 466.3,740.5 466.9,726.8 467.5,739.4 468.1,738.6 468.6,728.7 469.2,738.4 469.8,735.7 470.4,728.8 471.0,739.7 471.6,727.7 472.1,735.8 472.7,732.5 473.3,729.1 473.9,734.3 474.4,732.4 475.0,727.5 475.6,740.7 476.2,724.7 476.7,723.3 477.3,731.5 477.9,737.5 478.4,734.1 479.0,735.6 479.6,730.6 480.2,733.7 480.7,727.5 481.3,726.1 481.9,730.0 482.5,721.4 483.0,722.1 483.6,733.8 484.2,723.1 484.8,732.7 485.4,732.8 486.0,725.7 486.5,729.9 487.1,731.4 487.7,732.3 488.3,719.0 488.9,719.0 489.5,722.3 490.1,723.3 490.7,719.8 491.2,714.3 491.8,723.5 492.4,730.2 493.0,719.1 493.6,721.7 494.2,719.6 494.8,721.3 495.4,729.4 496.0,720.2 496.6,726.8 497.2,724.5 497.8,726.1 498.4,733.4 498.9,719.3 499.5,733.1 500.1,724.5 500.7,731.2 501.3,734.5 501.9,732.6 502.5,728.6 503.1,737.2 503.7,724.6 504.3,734.4 504.9,730.4 505.5,733.1 506.1,739.0 506.7,738.3 507.3,735.6 507.9,730.2 508.5,729.2 509.1,733.4 509.7,729.7 510.3,730.7 510.9,743.0 511.5,728.3 512.1,741.0 512.6,733.6 513.2,733.6 513.8,733.0 514.4,729.0 515.0,736.0 515.6,731.1 516.2,736.2 516.8,733.8 517.4,744.7 518.0,745.4 518.6,737.2 519.2,741.0 519.8,746.3 520.4,736.0 521.0,732.3 521.6,734.7 522.2,733.8 522.8,742.4 523.4,737.1 523.9,736.8 524.5,744.5 525.1,734.6 525.7,744.7 526.3,741.6 526.9,737.5 527.5,745.0 528.1,736.5 528.6,746.0 529.2,746.8 529.8,739.3 530.4,742.6 531.0,747.2 531.6,743.6 532.2,743.7 532.8,745.8 533.4,747.0 533.9,743.8 534.5,747.7 535.1,735.6 535.7,741.5 536.3,742.3 536.9,737.0 537.5,737.5 538.1,733.6 538.6,747.4 539.2,736.7 539.8,738.9 540.4,746.2 541.0,733.8 541.6,747.2 542.2,732.3 542.8,730.4 543.4,735.8 544.0,735.8 544.6,745.4 545.2,744.6 545.8,742.2 546.4,736.3 547.0,738.0 547.6,732.4 548.2,742.7 548.8,734.6 549.4,732.6 550.0,738.6 550.6,729.8 551.2,732.5 551.8,743.0 552.4,728.2 553.0,728.8 553.6,729.7 554.2,730.3 554.8,733.1 555.4,729.9 556.0,731.3 556.6,729.4 557.2,729.1 557.8,735.4 558.4,730.3 559.0,730.8 559.6,737.8 560.2,725.4 560.8,726.9 561.3,739.4 561.9,732.1 562.5,738.3 563.1,727.0 563.7,733.9 564.2,739.7 564.8,730.8 565.4,738.5 566.0,735.7 566.6,732.0 567.2,742.7 567.8,732.1 568.3,733.6 568.9,736.2 569.5,731.0 570.1,740.2 570.7,736.0 571.2,735.9 571.8,735.1 572.4,743.1 573.0,743.2 573.6,740.7 574.2,733.9 574.8,733.2 575.3,735.3 575.9,726.9 576.5,728.1 577.1,743.8 577.7,728.7 578.3,743.1 578.9,738.7 579.5,742.9 580.0,728.3 580.6,732.5 581.2,741.3 581.8,727.5 582.4,729.3 583.0,733.8 583.6,730.8 584.2,730.4 584.8,739.8 585.4,729.7 586.0,745.3 586.5,739.8 587.1,729.4 587.7,744.4 588.3,733.0 588.9,737.3 589.5,738.8 590.1,731.5 590.7,738.1 591.3,730.4 591.9,733.0 592.5,745.8 593.1,744.2 593.6,739.1 594.2,742.0 594.8,745.5 595.4,732.7 596.0,739.0 596.6,732.8 597.2,732.6 597.8,732.5 598.3,734.4 598.9,731.6 599.5,734.5 600.1,737.5 600.7,741.8 601.3,746.0 601.8,746.9 602.4,743.7 603.0,740.0 603.6,747.3 604.2,734.0 604.8,733.1 605.3,745.7 605.9,742.4 606.5,735.1 607.1,738.1 607.7,736.7 608.3,739.1 608.8,739.1 609.4,738.7 610.0,745.7 610.6,745.9 611.2,741.4 611.8,739.7 612.4,736.3 613.0,744.7 613.6,748.5 614.1,735.1 614.7,743.3 615.3,743.1 615.9,742.3 616.5,731.2 617.1,740.3 617.7,734.0 618.3,733.8 618.9,740.5 619.5,741.5 620.1,741.1 620.7,743.0 621.3,742.2 621.9,738.1 622.4,730.5 623.0,743.2 623.6,744.0 624.2,744.1 624.8,739.8 625.4,729.9 626.0,732.5 626.6,730.7 627.2,739.7 627.8,737.7 628.4,731.1 629.0,744.3 629.6,744.4 630.2,742.7 630.8,734.7 631.4,731.4 632.0,729.6 632.6,740.1 633.2,737.6 633.8,729.8 634.4,740.5 635.0,734.3 635.5,731.3 636.1,731.0 636.7,736.0 637.3,731.0 637.9,734.3 638.5,724.5 639.1,734.4 639.7,726.5 640.3,737.5 640.9,724.9 641.5,726.7 642.1,729.9 642.7,727.1 643.3,729.1 643.9,735.8 644.5,722.7 645.1,732.9 645.7,731.7 646.3,733.5 646.9,727.7 647.5,727.9 648.1,726.2 648.7,728.6 649.3,724.9 649.9,723.9 650.5,729.1 651.1,724.2 651.7,729.2 652.3,731.2 652.9,726.7 653.5,724.4 654.0,732.2 654.6,736.9 655.2,725.8 655.8,732.9 656.4,733.8 657.0,737.9 657.6,734.5 658.2,728.0 658.8,726.4 659.4,737.6 660.0,728.3 660.6,723.4 661.2,738.7 661.8,727.0 662.4,729.2 663.0,729.4 663.6,728.3 664.2,736.5 664.8,729.8 665.4,731.6 666.0,731.2 666.6,738.5 667.1,724.1 667.7,734.0 668.3,726.1 668.9,726.4 669.5,734.5 670.1,730.4 670.7,724.9 671.3,734.2 671.9,739.9 672.5,735.2 673.1,732.5 673.7,737.9 674.3,739.9 674.9,726.5 675.4,729.1 676.0,740.8 676.6,740.1 677.2,727.4 677.8,736.2 678.4,739.2 679.0,734.2 679.6,735.7 680.2,732.0 680.8,726.5 681.4,725.6 681.9,722.4 682.5,732.6 683.1,722.8 683.7,730.8 684.3,726.3 684.9,726.5 685.5,735.5 686.1,724.8 686.7,725.8 687.2,723.6 687.8,720.2 688.4,719.9 689.0,724.8 689.6,729.3 690.2,716.0 690.8,730.6 691.4,725.3 692.0,713.9 692.5,724.9 693.1,719.0 693.7,720.5 694.3,712.8 694.9,719.5 695.5,719.7 696.1,724.3 696.7,720.7 697.3,722.9 697.8,723.4 698.4,714.4 699.0,710.9 699.6,718.9 700.2,712.8 700.8,713.0 701.4,716.2 702.0,720.0 702.6,721.3 703.1,721.9 703.7,727.1 704.3,712.3 704.9,720.3 705.5,712.0 706.1,722.3 706.7,718.2 707.3,713.0 707.9,716.0 708.4,722.1 709.0,718.8 709.6,727.1 710.2,716.8 710.8,716.5 711.4,727.0 712.0,721.8 712.6,713.3 713.2,725.5 713.7,718.4 714.3,729.0 714.9,723.8 715.5,727.0 716.1,728.9 716.7,722.4 717.3,730.8 717.9,714.5 718.5,720.3 719.0,729.4 719.6,715.1 720.2,727.1 720.8,733.1 721.4,728.4 722.0,731.3 722.6,717.8 723.2,726.2 723.8,727.7 724.3,725.0 724.9,725.0 725.5,731.8 726.1,721.1 726.7,719.3 727.3,728.8 727.9,735.3 728.5,732.8 729.1,729.9 729.6,723.2 730.2,733.8 730.8,718.5 731.4,722.0 732.0,731.5 732.6,733.2 733.2,724.5 733.8,733.3 734.4,719.2 734.9,727.6 735.5,718.2 736.1,721.0 736.7,720.1 737.3,716.8 737.9,723.7 738.5,725.3 739.1,721.3 739.7,727.8 740.2,717.1 740.8,725.2 741.4,725.3 742.0,723.0 742.6,731.9 743.2,717.8 743.8,722.9 744.4,723.3 745.0,721.6 745.5,732.0 746.1,724.7 746.7,723.5 747.3,722.0 747.9,721.7 748.5,730.6 749.1,727.7 749.7,724.8 750.3,716.1 750.8,723.5 751.4,715.1 752.0,718.8 752.6,712.9 753.2,724.7 753.8,729.3 754.4,723.1 755.0,721.7 755.6,715.9 756.1,719.1 756.7,719.3 757.3,718.3 757.9,715.4 758.5,714.4 759.1,723.6 759.7,727.1 760.3,724.7 760.9,721.1 761.4,710.5 762.0,715.2 762.6,724.6 763.2,726.8 763.8,719.3 764.4,719.6 765.0,721.5 765.6,713.7 766.2,721.8 766.7,715.6 767.3,724.0 767.9,717.1 768.5,720.5 769.1,718.6 769.7,718.1 770.3,716.7 770.9,725.2 771.5,721.7 772.0,715.7 772.6,717.1 773.2,723.9 773.8,721.1 774.4,719.4 775.0,724.5 775.6,709.4 776.2,717.5 776.8,717.7 777.3,714.4 777.9,723.1 778.5,722.9 779.1,712.4 779.7,716.1 780.3,718.4 780.9,716.9 781.5,710.7 782.1,718.1 782.6,709.9 783.2,706.0 783.8,714.9 784.4,714.3 785.0,709.8 785.6,711.1 786.2,719.4 786.8,715.9 787.4,708.5 787.9,717.1 788.5,710.8 789.1,707.6 789.7,711.6 790.3,713.7 790.9,715.2 791.5,710.8 792.1,710.2 792.7,705.1 793.2,698.3 793.8,705.1 794.4,698.6 795.0,712.7 795.6,702.0 796.2,705.8 796.8,707.6 797.4,697.4 798.0,708.5 798.5,699.0 799.1,694.3 799.7,702.9 800.3,699.0 800.9,707.6 801.5,698.8 802.1,692.2 802.7,690.3 803.3,690.1 803.8,697.8 804.4,701.2 805.0,689.0 805.6,693.5 806.2,695.6 806.8,703.7 807.4,705.6 807.9,704.6 808.5,701.1 809.1,700.7 809.7,695.1 810.2,702.7 810.8,695.5 811.4,698.6 812.0,708.5 812.6,704.6 813.1,708.0 813.7,704.1 814.3,701.5 814.9,706.1 815.5,708.0 816.0,702.8 816.6,714.1 817.2,717.2 817.8,703.8 818.3,705.5 818.9,716.2 819.5,715.3 820.1,706.8 820.7,713.3 821.3,707.4 821.9,718.6 822.4,713.9 823.0,712.8 823.6,706.8 824.2,711.3 824.8,712.7 825.4,710.9 826.0,707.9 826.6,708.4 827.2,717.5 827.7,721.6 828.3,720.4 828.9,716.6 829.5,719.9 830.1,708.5 830.7,710.0 831.3,718.9 831.9,706.7 832.5,708.4 833.0,720.8 833.6,710.8 834.2,710.8 834.8,714.7 835.4,722.6 836.0,708.0 836.6,723.1 837.1,712.9 837.7,717.5 838.3,715.6 838.9,709.3 839.4,723.9 840.0,710.1 840.6,721.0 841.2,722.2 841.8,714.6 842.3,723.4 842.9,707.5 843.5,708.9 844.1,714.7 844.7,707.3 845.2,720.1 845.8,715.1 846.4,719.7 847.0,710.6 847.5,705.9 848.1,721.0 848.7,708.9 849.3,712.3 849.9,707.0 850.5,714.9 851.1,712.6 851.6,707.7 852.2,704.7 852.8,709.8 853.4,717.4 854.0,706.1 854.6,707.3 855.2,713.9 855.8,714.0 856.4,716.8 856.9,713.8 857.5,717.2 858.1,704.8 858.7,718.1 859.3,702.2 859.9,703.6 860.5,703.1 861.1,714.7 861.7,709.8 862.2,716.9 862.8,717.6 863.4,717.1 864.0,710.9 864.6,706.1 865.2,716.6 865.8,712.6 866.4,703.0 867.0,709.2 867.5,699.8 868.1,699.6 868.7,710.4 869.3,711.8 869.9,714.2 870.5,712.2 871.1,701.2 871.7,711.7 872.3,715.9 872.8,710.4 873.4,706.9 874.0,703.5 874.6,699.3 875.2,709.1 875.8,714.9 876.4,699.9 877.0,712.2 877.6,713.5 878.1,703.8 878.7,712.4 879.3,700.1 879.9,702.6 880.5,707.2 881.1,712.1 881.7,705.5 882.2,697.0 882.8,711.2 883.4,704.3 884.0,707.4 884.6,697.2 885.2,698.4 885.8,693.5 886.3,694.7 886.9,698.5 887.5,697.4 888.1,701.2 888.7,703.7 889.2,694.3 889.8,704.2 890.4,698.8 891.0,692.8 891.6,688.6 892.2,700.9 892.8,694.3 893.4,682.1 894.0,692.1 894.6,685.4 895.2,684.8 895.8,689.6 896.4,678.7 896.9,678.1 897.5,681.6 898.1,686.7 898.7,671.0 899.3,682.8 899.9,679.5 900.5,668.6 901.1,675.8 901.7,673.7 902.3,673.8 902.8,669.2 903.4,663.8 904.0,665.6 904.6,659.4 905.1,661.7 905.7,659.3 906.3,652.6 906.8,653.3 907.4,653.7 908.0,653.1 908.6,654.5 909.1,656.3 909.7,646.2 910.2,648.3 910.7,641.4 911.3,636.3 911.8,631.7 912.3,643.1 912.8,644.1 913.4,643.8 914.0,633.7 914.5,634.9 915.0,636.0 915.5,641.5 916.0,645.7 916.6,640.3 917.1,649.6 917.6,656.3 918.2,661.8 918.8,653.5 919.4,653.1 920.0,670.0 920.5,665.7 921.1,667.5 921.7,667.6 922.3,672.6 922.9,675.5 923.5,676.6 924.0,677.5 924.6,683.9 925.2,690.4 925.8,682.8 926.3,686.0 926.9,688.5 927.5,696.1 928.0,696.1 928.6,701.3 929.2,688.3 929.8,700.7 930.3,693.1 930.9,699.3 931.5,698.8 932.1,700.0 932.7,696.0 933.3,691.9 933.9,691.2 934.5,707.7 935.1,707.3 935.7,700.2 936.3,694.1 936.9,707.6 937.5,702.0 938.0,701.8 938.6,705.2 939.2,697.1 939.8,698.5 940.4,709.4 941.0,708.3 941.6,713.1 942.2,703.7 942.8,713.6 943.4,712.5 944.0,706.1 944.6,712.9 945.2,700.1 945.7,698.4 946.3,711.5 946.9,699.7 947.5,706.3 948.1,710.2 948.7,709.2 949.2,701.1 949.8,711.1 950.4,697.9 951.0,707.1 951.6,713.0 952.2,706.8 952.7,702.5 953.3,714.8 953.9,710.0 954.5,711.1 955.1,713.0 955.7,713.7 956.2,707.3 956.8,711.7 957.4,706.0 958.0,701.5 958.5,701.6 959.1,701.1 959.7,696.7 960.3,707.0 960.8,702.9 961.4,711.6 962.0,696.3 962.6,708.9 963.1,698.4 963.7,700.4 964.3,699.6 964.9,711.1 965.4,705.4 966.0,702.0 966.6,696.8 967.2,694.2 967.7,699.6 968.3,710.0 968.9,700.5 969.5,704.3 970.0,707.7 970.6,692.8 971.2,697.8 971.8,699.7 972.4,696.5 973.0,699.4 973.5,704.8 974.1,695.3 974.7,705.4 975.3,698.5 975.9,705.0 976.5,696.7 977.1,707.7 977.6,701.3 978.2,708.8 978.8,711.3 979.4,704.7 980.0,695.0 980.6,700.7 981.2,711.2 981.8,705.2 982.4,706.8 982.9,701.5 983.5,709.4 984.1,708.5 984.7,703.0 985.3,702.3 985.9,693.4 986.5,691.4 987.1,694.6 987.7,703.4 988.2,705.3 988.8,703.6 989.4,705.4 990.0,690.0 990.6,689.7 991.2,694.0 991.8,690.2 992.4,700.6 993.0,707.0 993.5,706.8 994.1,693.2 994.7,703.3 995.3,703.8 995.9,703.9 996.5,699.9 997.1,697.2 997.7,709.0 998.3,709.6 998.8,706.7 999.4,704.0 1000.0,695.4 1000.6,700.0 1001.2,699.7 1001.8,700.1 1002.4,700.0 1003.0,708.3 1003.6,708.8 1004.1,700.3 1004.7,713.4 1005.3,697.9 1005.9,715.1 1006.5,708.9 1007.1,710.0 1007.7,703.7 1008.3,710.9 1008.9,714.2 1009.4,702.5 1010.0,701.2 1010.6,712.8 1011.2,703.4 1011.8,700.9 1012.4,707.7 1013.0,702.4 1013.6,702.9 1014.2,704.2 1014.7,700.8 1015.3,713.7 1015.9,709.3 1016.5,710.9 1017.1,704.6 1017.7,713.2 1018.3,716.5 1018.9,717.2 1019.5,700.4 1020.0,705.2 1020.6,701.3 1021.2,708.2 1021.8,711.4 1022.4,710.6 1023.0,705.8 1023.6,716.3 1024.2,710.0 1024.8,716.3 1025.3,705.9 1025.9,709.5 1026.5,699.6 1027.1,707.0 1027.7,708.6 1028.3,701.1 1028.9,707.7 1029.5,698.7 1030.1,704.2 1030.6,706.5 1031.2,704.0 1031.8,697.9 1032.4,698.3 1033.0,701.2 1033.6,705.8 1034.2,701.7 1034.8,697.3 1035.4,699.4 1035.9,698.6 1036.5,695.3 1037.1,703.0 1037.7,700.6 1038.3,697.7 1038.9,692.0 1039.5,708.1 1040.1,692.8 1040.7,694.0 1041.3,697.2 1041.9,705.9 1042.4,708.5 1043.0,705.4 1043.6,695.6 1044.2,706.8 1044.8,692.6 1045.4,694.0 1046.0,694.0 1046.6,701.9 1047.2,702.4 1047.8,703.0 1048.4,708.7 1049.0,705.2 1049.6,705.1 1050.2,695.0 1050.7,708.0 1051.3,708.2 1051.9,706.6 1052.5,693.4 1053.1,704.6 1053.7,701.1 1054.3,701.5 1054.9,695.7 1055.5,703.5 1056.1,703.1 1056.7,701.4 1057.2,692.1 1057.8,698.7 1058.4,686.2 1059.0,695.6 1059.6,683.1 1060.2,681.7 1060.8,682.3 1061.4,691.0 1062.0,695.7 1062.5,685.6 1063.1,687.7 1063.7,685.6 1064.3,689.1 1064.9,690.3 1065.5,688.2 1066.0,680.2 1066.6,676.2 1067.2,691.3 1067.7,681.0 1068.3,690.1 1068.8,692.5 1069.4,680.8 1070.0,681.9 1070.5,686.5 1071.1,694.5 1071.7,695.2 1072.2,698.3 1072.8,686.2 1073.4,693.2 1074.0,698.5 1074.6,690.7 1075.2,695.2 1075.7,689.7 1076.3,701.7 1076.9,695.3 1077.5,697.0 1078.1,700.8 1078.7,695.8 1079.3,705.4 1079.9,700.0 1080.5,700.4 1081.0,706.5 1081.6,706.3 1082.2,707.9 1082.8,711.7 1083.4,711.4 1084.0,704.6 1084.6,709.0 1085.1,713.1 1085.7,699.1 1086.3,710.0 1086.9,707.9 1087.4,705.9 1088.0,701.2 1088.6,704.4 1089.2,712.7 1089.8,715.3 1090.3,717.4 1090.9,713.5 1091.5,716.0 1092.1,715.3 1092.7,703.9 1093.2,713.3 1093.8,716.7 1094.4,714.9 1095.0,706.8 1095.5,714.5 1096.1,709.2 1096.7,710.2 1097.3,715.3 1097.9,714.1 1098.5,704.4 1099.1,713.1 1099.6,702.7 1100.2,705.0 1100.8,715.7 1101.4,717.1 1102.0,705.3 1102.6,714.1 1103.2,703.6 1103.8,709.0 1104.4,706.1 1104.9,701.3 1105.5,707.2 1106.1,709.1 1106.7,714.2 1107.3,700.8 1107.9,703.9 1108.5,698.7 1109.1,702.1 1109.7,702.9 1110.2,712.4 1110.8,714.3 1111.4,701.4 1112.0,705.9 1112.6,706.4 1113.2,706.1 1113.8,714.6 1114.3,714.6 1114.9,698.8 1115.5,705.6 1116.1,707.9 1116.6,710.3 1117.2,708.4 1117.8,713.7 1118.4,701.3 1119.0,707.9 1119.5,714.6 1120.1,703.3 1120.7,703.5 1121.3,711.6 1121.9,703.5 1122.4,710.8 1123.0,703.6 1123.6,704.9 1124.2,707.8 1124.7,715.9 1125.3,713.1 1125.9,713.3 1126.5,712.5 1127.0,707.4 1127.6,716.5 1128.2,708.7 1128.7,708.2 1129.3,697.2 1129.8,699.3 1130.4,704.1 1131.0,709.5 1131.5,704.0 1132.1,691.5 1132.7,703.6 1133.2,692.0 1133.8,697.7 1134.4,691.1 1135.0,689.4 1135.6,702.5 1136.2,698.0 1136.7,700.6 1137.3,702.9 1137.9,701.5 1138.5,699.0 1139.1,697.9 1139.7,702.1 1140.3,697.6 1140.9,698.5 1141.5,708.7 1142.0,701.0 1142.6,708.2 1143.2,708.0 1143.8,704.8 1144.4,711.0 1145.0,703.8 1145.6,698.7 1146.2,714.3 1146.8,713.3 1147.3,713.9 1147.9,717.8 1148.5,709.6 1149.1,710.6 1149.7,714.6 1150.3,719.9 1150.9,710.3 1151.5,719.4 1152.1,723.7 1152.6,712.0 1153.2,708.6 1153.8,711.9 1154.4,721.1 1155.0,714.3 1155.6,727.3 1156.2,712.3 1156.8,726.5 1157.4,717.1 1157.9,727.2 1158.5,717.1 1159.1,713.2 1159.7,723.2 1160.3,716.7 1160.9,728.0 1161.5,726.1 1162.1,716.2 1162.7,720.4 1163.2,721.6 1163.8,725.6 1164.4,716.7 1165.0,722.2 1165.6,721.4 1166.2,722.7 1166.8,722.3 1167.4,720.2 1168.0,719.5 1168.5,719.8 1169.1,730.4 1169.7,722.2 1170.3,715.0 1170.9,720.1 1171.5,726.6 1172.1,725.0 1172.7,714.3 1173.3,720.1 1173.8,720.7 1174.4,727.5 1175.0,717.2 1175.6,728.5 1176.2,726.6 1176.8,712.5 1177.4,720.9 1178.0,721.4 1178.6,723.0 1179.1,727.4 1179.7,715.3 1180.3,726.2 1180.9,711.7 1181.5,726.1 1182.1,715.9 1182.7,711.7 1183.3,725.4 1183.9,728.1 1184.4,722.5 1185.0,724.5 1185.6,717.7 1186.2,715.0 1186.8,722.2 1187.4,724.7 1188.0,715.2 1188.6,717.1 1189.2,715.3 1189.8,715.2 1190.4,725.7 1190.9,710.6 1191.5,710.9 1192.1,713.7 1192.7,724.3 1193.3,720.5 1193.9,723.8 1194.5,722.7 1195.1,726.1 1195.7,720.8 1196.3,710.9 1196.9,712.3 1197.5,717.7 1198.1,712.6 1198.7,716.0 1199.2,715.3 1199.8,727.8 1200.4,727.5 1201.0,722.3 1201.6,717.9 1202.2,717.8 1202.8,711.7 1203.4,717.9 1204.0,711.8 1204.6,718.1 1205.2,722.5 1205.7,714.6 1206.3,719.4 1206.9,720.7 1207.5,721.9 1208.1,712.7 1208.7,708.8 1209.3,719.7 1209.9,712.2 1210.5,707.6 1211.0,714.3 1211.6,716.9 1212.2,718.4 1212.8,707.1 1213.4,704.6 1214.0,704.7 1214.6,706.0 1215.2,705.1 1215.8,717.9 1216.3,713.3 1216.9,703.4 1217.5,704.7 1218.1,706.7 1218.7,720.9 1219.3,710.4 1219.9,719.0 1220.5,709.2 1221.1,709.1 1221.6,722.7 1222.2,707.9 1222.8,715.8 1223.4,716.8 1224.0,713.8 1224.6,721.8 1225.2,724.1 1225.8,713.7 1226.4,715.6 1226.9,719.4 1227.5,719.9 1228.1,723.2 1228.7,726.2 1229.3,719.2 1229.9,730.3 1230.5,722.4 1231.1,715.5 1231.7,723.0 1232.2,725.5 1232.8,720.0 1233.4,732.8 1234.0,728.4 1234.6,727.7 1235.2,723.6 1235.8,721.0 1236.4,723.7 1237.0,730.2 1237.5,731.0 1238.1,731.1 1238.7,719.8 1239.3,733.0 1239.9,731.6 1240.5,731.5 1241.1,728.8 1241.7,734.7 1242.3,736.7 1242.8,730.2 1243.4,727.6 1244.0,729.6 1244.6,734.3 1245.2,732.2 1245.8,734.1 1246.4,725.9 1247.0,731.2 1247.6,724.9 1248.1,731.0 1248.7,721.2 1249.3,730.4 1249.9,733.9 1250.5,737.2 1251.1,729.7 1251.6,736.6 1252.2,724.7 1252.8,721.4 1253.4,730.9 1253.9,727.2 1254.5,728.2 1255.1,731.7 1255.7,734.5 1256.2,736.4 1256.8,726.9 1257.4,731.4 1258.0,732.3 1258.5,733.3 1259.1,731.5 1259.7,729.4 1260.3,735.4 1260.8,721.6 1261.4,735.0 1262.0,724.1 1262.6,724.4 1263.1,733.0 1263.7,729.2 1264.3,726.3 1264.9,720.8 1265.5,719.4 1266.1,722.4 1266.7,718.5 1267.3,728.1 1267.9,718.5 1268.5,720.8 1269.1,720.6 1269.6,724.7 1270.2,725.8 1270.8,721.7 1271.4,713.5 1272.0,711.2 1272.6,717.7 1273.2,713.4 1273.8,718.8 1274.4,709.0 1275.0,718.2 1275.6,713.3 1276.2,712.8 1276.8,711.9 1277.3,722.9 1277.9,719.4 1278.5,721.0 1279.1,727.0 1279.7,713.7 1280.3,723.7 1280.9,720.8 1281.5,720.2 1282.1,731.3 1282.6,721.9 1283.2,725.7 1283.8,727.1 1284.4,722.7 1285.0,726.7 1285.6,721.5 1286.1,730.5 1286.7,732.9 1287.3,739.7 1287.9,739.2 1288.4,728.4 1289.0,739.7 1289.6,724.8 1290.2,725.9 1290.7,732.8 1291.3,735.7 1291.9,734.4 1292.5,724.8 1293.0,731.5 1293.6,733.3 1294.2,731.6 1294.8,738.4 1295.3,738.4 1295.9,727.0 1296.5,733.9 1297.1,738.2 1297.6,740.0 1298.2,738.1 1298.8,743.5 1299.4,739.2 1300.0,733.0 1300.5,740.7 1301.1,736.7 1301.7,736.3 1302.3,736.2 1302.9,738.9 1303.5,738.0 1304.1,733.5 1304.6,739.2 1305.2,732.7 1305.8,738.2 1306.4,741.1 1307.0,734.3 1307.6,727.5 1308.1,740.7 1308.7,728.4 1309.3,728.3 1309.9,725.3 1310.5,731.8 1311.1,731.3 1311.7,738.6 1312.2,727.1 1312.8,730.6 1313.4,737.4 1314.0,724.2 1314.6,730.8 1315.2,725.8 1315.8,736.5 1316.4,727.9 1317.0,724.8 1317.6,724.0 1318.1,725.4 1318.7,733.8 1319.3,723.2 1319.9,721.5 1320.5,724.8 1321.1,721.0 1321.7,732.8 1322.3,733.0 1322.9,728.7 1323.5,724.9 1324.1,719.4 1324.7,731.1 1325.3,722.4 1325.9,727.5 1326.4,735.0 1327.0,721.5 1327.6,729.1 1328.2,724.4 1328.8,725.8 1329.4,723.2 1330.0,728.2 1330.6,725.1 1331.2,716.6 1331.7,730.6 1332.3,720.5 1332.9,722.6 1333.5,724.9 1334.0,727.1 1334.6,730.1 1335.2,718.9 1335.8,723.7 1336.4,728.0 1336.9,725.5 1337.5,721.6 1338.1,731.5 1338.7,734.5 1339.3,729.0 1339.8,727.2 1340.4,720.6 1341.0,726.5 1341.6,732.0 1342.1,723.8 1342.7,726.1 1343.3,726.4 1343.9,724.1 1344.4,729.7 1345.0,724.3 1345.6,735.5 1346.2,734.2 1346.7,725.1 1347.3,721.0 1347.9,720.5 1348.4,734.6 1349.0,727.9 1349.6,722.7 1350.2,721.7 1350.7,734.7 1351.3,724.8" fill="none" stroke="#00B0F0" stroke-width="6" stroke-linejoin="round" stroke-linecap="round"/>
<polygon points="279.4,970.2 280.4,970.2 281.3,970.2 282.3,970.2 283.3,970.2 284.2,970.2 285.2,970.2 286.2,970.2 287.1,970.2 288.1,970.2 289.1,970.2 290.0,970.2 291.0,970.2 291.9,970.7 292.9,971.1 293.8,971.6 294.8,972.1 295.7,972.6 296.7,973.0 297.6,973.5 298.6,974.0 299.5,974.5 300.5,974.9 301.4,975.4 302.4,975.6 303.3,975.7 304.3,975.9 305.3,976.0 306.2,976.2 307.2,976.4 308.2,976.5 309.2,976.7 310.1,976.9 311.1,977.0 312.1,977.2 313.0,977.3 314.0,977.5 314.9,977.4 315.8,977.2 316.7,977.1 317.6,977.0 318.6,976.9 319.5,976.8 320.4,976.6 321.3,976.5 322.1,975.8 322.9,975.1 323.7,974.4 324.5,973.7 325.3,972.2 326.2,970.6 327.0,969.1 327.9,967.5 328.7,966.0 329.6,963.3 330.5,960.6 331.4,957.9 332.4,955.1 333.3,952.4 334.2,949.7 335.0,942.9 335.9,936.1 336.7,929.2 337.5,922.4 338.2,911.5 339.0,900.5 339.7,889.6 340.4,875.0 341.1,860.5 341.8,845.9 342.6,818.6 343.5,791.3 344.1,764.0 344.6,736.7 345.3,706.7 346.0,676.7 346.6,644.2 347.2,611.7 348.1,576.7 349.0,541.7 349.9,517.7 350.8,541.7 351.4,576.7 352.0,611.7 352.8,736.7 353.3,791.3 353.9,818.6 354.4,845.9 354.9,867.8 355.5,889.6 356.3,906.0 357.1,922.4 357.8,931.5 358.6,940.6 359.3,949.7 360.0,955.1 360.8,960.6 361.5,966.0 362.4,968.4 363.2,970.9 364.1,973.3 365.0,975.7 365.8,976.6 366.6,977.5 367.5,978.4 368.3,979.3 369.1,980.2 370.1,979.1 371.1,978.0 372.0,976.8 373.0,975.7 373.9,973.3 374.9,970.9 375.9,968.4 376.8,966.0 377.5,959.6 378.3,953.1 379.0,946.7 379.7,934.9 380.5,923.2 381.2,911.4 382.1,896.2 383.0,880.9 383.9,865.7 384.7,873.7 385.5,881.7 386.5,896.7 387.5,911.7 388.5,929.2 389.5,946.7 390.4,961.7 391.4,976.7 392.2,978.7 393.1,980.8 393.9,982.8 394.8,984.9 395.6,986.9 396.5,987.5 397.5,988.0 398.4,988.6 399.4,989.2 400.3,989.8 401.3,990.3 402.2,990.9 403.2,991.5 404.1,992.1 405.1,992.6 406.0,993.2 407.0,993.7 408.0,994.1 409.0,994.6 410.0,995.0 411.0,995.5 412.0,995.9 413.0,996.4 414.0,996.8 415.0,997.2 416.0,997.7 417.0,998.1 418.0,998.6 419.0,999.0 420.0,999.5 421.0,999.5 422.0,999.5 422.9,999.4 423.9,999.4 424.9,999.4 425.9,999.4 426.9,999.4 427.9,999.3 428.9,999.3 429.8,999.3 430.8,999.3 431.8,999.2 432.8,999.2 433.8,999.2 434.8,999.2 435.7,999.2 436.7,999.1 437.7,999.1 438.7,999.1 439.7,999.1 440.7,999.1 441.6,999.0 442.6,999.0 443.6,999.0 444.6,999.3 445.5,999.5 446.5,999.8 447.5,1000.0 448.4,1000.3 449.4,1000.5 450.4,1000.8 451.3,1001.0 452.3,1001.3 453.2,1001.5 454.2,1001.8 455.2,1002.0 456.1,1002.3 457.1,1002.5 458.1,1002.8 459.0,1003.0 460.0,1003.3 461.0,1003.3 462.0,1003.2 463.0,1003.2 464.0,1003.1 465.0,1003.1 466.0,1003.0 467.0,1003.0 468.0,1002.9 469.0,1002.9 470.0,1002.8 471.0,1002.8 472.0,1002.7 473.0,1002.7 474.0,1002.6 475.0,1002.6 476.0,1002.5 477.0,1002.5 478.0,1002.4 479.0,1002.4 480.0,1002.3 481.0,1002.3 481.9,1001.4 482.8,1000.5 483.7,999.6 484.5,998.7 485.4,997.8 486.3,996.9 487.2,996.0 488.1,994.9 488.9,993.7 489.8,992.6 490.7,991.5 491.5,990.3 492.4,989.2 493.3,991.2 494.2,993.2 495.0,995.2 495.9,997.3 496.8,999.3 497.7,1001.3 498.7,1001.5 499.6,1001.7 500.6,1001.9 501.6,1002.1 502.6,1002.3 503.5,1002.5 504.5,1002.7 505.5,1003.0 506.5,1003.2 507.4,1003.4 508.4,1003.6 509.4,1003.8 510.4,1004.0 511.3,1004.2 512.3,1004.4 513.3,1004.5 514.3,1004.6 515.3,1004.7 516.3,1004.8 517.3,1004.9 518.3,1005.0 519.3,1005.1 520.3,1005.2 521.3,1005.3 522.3,1005.4 523.3,1005.5 524.3,1005.6 525.3,1005.7 526.3,1005.8 527.3,1005.9 528.3,1006.0 529.3,1006.1 530.3,1006.2 531.3,1006.3 532.3,1006.4 533.3,1006.5 534.3,1006.3 535.3,1006.1 536.2,1005.9 537.2,1005.7 538.2,1005.6 539.2,1005.4 540.2,1005.2 541.2,1005.0 542.1,1004.8 543.1,1004.6 544.1,1004.4 545.1,1004.2 546.1,1004.1 547.1,1003.9 548.0,1003.7 549.0,1003.5 550.0,1003.3 551.0,1001.5 552.0,999.6 553.0,997.8 553.9,995.9 554.9,994.1 555.9,992.2 556.8,994.4 557.8,996.6 558.7,998.8 559.6,1001.0 560.6,1003.2 561.5,1005.4 562.4,1004.8 563.4,1004.1 564.3,1003.5 565.2,1002.8 566.1,1002.2 567.0,1001.5 568.0,1000.9 568.9,1000.2 569.9,998.1 570.9,995.9 571.9,993.8 572.8,991.6 573.8,989.5 574.8,987.3 575.8,985.2 576.7,988.4 577.7,991.6 578.6,994.8 579.5,998.0 580.5,1001.2 581.4,1004.4 582.4,1004.6 583.3,1004.8 584.3,1005.0 585.3,1005.2 586.3,1005.4 587.2,1005.6 588.2,1005.8 589.2,1006.1 590.2,1006.3 591.1,1006.5 592.1,1006.7 593.1,1006.9 594.1,1007.1 595.0,1007.3 596.0,1007.5 597.0,1007.6 598.0,1007.6 599.0,1007.7 600.0,1007.7 601.0,1007.8 602.0,1007.8 603.0,1007.9 604.0,1007.9 605.0,1008.0 606.0,1008.0 607.0,1008.1 608.0,1008.1 609.0,1008.2 610.0,1008.2 611.0,1008.3 612.0,1008.3 613.0,1008.4 614.0,1008.4 615.0,1008.5 616.0,1008.5 617.0,1008.6 618.0,1008.4 619.0,1008.2 620.0,1007.9 621.0,1007.7 621.9,1007.5 622.9,1007.3 623.9,1007.1 624.9,1006.8 625.9,1006.6 626.9,1006.4 627.9,1006.2 628.9,1005.9 629.9,1005.7 630.9,1005.5 631.8,1005.3 632.8,1005.1 633.8,1004.8 634.8,1004.6 635.8,1004.4 636.7,1002.3 637.6,1000.2 638.5,998.1 639.4,996.0 640.3,993.9 641.2,991.8 642.1,989.7 642.9,986.7 643.8,983.7 644.6,980.7 645.5,977.7 646.3,974.7 647.1,978.5 648.0,982.4 648.8,986.2 649.7,990.1 650.5,993.9 651.4,995.2 652.3,996.6 653.2,997.9 654.1,999.3 655.0,1000.6 655.9,1002.0 656.8,1003.3 657.8,1003.4 658.7,1003.5 659.7,1003.6 660.6,1003.6 661.6,1003.7 662.6,1003.8 663.5,1003.9 664.5,1004.0 665.5,1004.1 666.4,1004.1 667.4,1004.2 668.3,1004.3 669.3,1004.4 670.3,1004.3 671.3,1004.1 672.2,1004.0 673.2,1003.8 674.2,1003.7 675.2,1003.6 676.2,1003.4 677.1,1003.3 678.1,1003.1 679.1,1003.0 680.1,1002.9 681.1,1002.7 682.0,1002.6 683.0,1002.4 684.0,1002.3 684.9,1000.2 685.7,998.1 686.6,996.0 687.5,993.9 688.3,991.8 689.2,989.7 690.0,988.4 690.9,987.1 691.7,985.8 692.6,984.5 693.4,983.2 694.3,985.6 695.2,988.1 696.1,990.5 697.0,992.9 697.9,995.3 698.8,997.8 699.7,1000.2 700.6,997.8 701.4,995.3 702.3,992.9 703.2,990.5 704.0,988.0 704.9,985.6 705.7,984.9 706.5,984.2 707.3,983.4 708.1,982.7 709.0,985.3 709.8,987.8 710.7,990.4 711.6,993.0 712.4,995.5 713.3,998.1 714.2,998.8 715.2,999.5 716.1,1000.2 717.0,1000.9 718.0,1001.6 718.9,1002.3 719.8,1003.0 720.8,1003.7 721.7,1004.4 722.7,1004.3 723.7,1004.3 724.7,1004.2 725.7,1004.2 726.7,1004.1 727.7,1004.1 728.7,1004.0 729.7,1004.0 730.7,1003.9 731.7,1003.9 732.6,1003.8 733.6,1003.8 734.6,1003.7 735.6,1003.7 736.6,1003.6 737.6,1003.6 738.6,1003.5 739.6,1003.5 740.6,1003.4 741.6,1003.4 742.6,1003.3 743.6,1003.2 744.6,1003.1 745.6,1003.0 746.6,1002.9 747.6,1002.8 748.6,1002.7 749.6,1002.6 750.6,1002.5 751.6,1002.4 752.6,1002.3 753.6,1001.8 754.5,1001.3 755.5,1000.8 756.4,1000.4 757.4,999.9 758.4,999.4 759.3,998.9 760.3,998.4 761.3,997.9 762.2,997.5 763.2,997.0 764.1,996.5 765.1,996.0 766.0,996.7 767.0,997.4 767.9,998.1 768.8,998.8 769.8,999.5 770.7,1000.2 771.6,1000.9 772.6,1001.6 773.5,1002.3 774.5,1002.2 775.5,1002.1 776.5,1002.0 777.5,1001.9 778.5,1001.8 779.5,1001.7 780.5,1001.6 781.5,1001.5 782.5,1001.4 783.5,1001.3 784.4,1001.2 785.4,1001.1 786.4,1001.0 787.4,1000.9 788.4,1000.8 789.4,1000.7 790.4,1000.6 791.4,1000.5 792.4,1000.4 793.4,1000.3 794.4,1000.2 795.3,998.1 796.2,996.0 797.0,994.0 797.9,991.9 798.8,989.8 799.7,987.7 800.6,985.2 801.4,982.7 802.3,980.2 803.2,977.7 804.0,975.2 804.9,972.7 805.8,976.2 806.6,979.8 807.5,983.3 808.4,986.8 809.2,990.4 810.1,993.9 811.0,995.3 811.9,996.7 812.8,998.1 813.6,999.5 814.5,1000.9 815.4,1002.3 816.4,1002.3 817.4,1002.3 818.4,1002.3 819.4,1002.3 820.3,1002.3 821.3,1002.3 822.3,1002.3 823.3,1002.3 824.3,1002.3 825.3,1002.3 826.3,1002.3 827.3,1002.3 828.3,1002.3 829.3,1002.3 830.2,1002.3 831.2,1002.3 832.2,1002.3 833.2,1002.3 834.2,1002.3 835.2,1002.2 836.2,1002.1 837.2,1002.0 838.2,1001.9 839.2,1001.8 840.2,1001.8 841.2,1001.7 842.2,1001.6 843.2,1001.5 844.2,1001.4 845.2,1001.3 846.2,1001.2 847.2,1001.1 848.2,1001.0 849.2,1000.9 850.2,1000.8 851.2,1000.7 852.2,1000.7 853.2,1000.6 854.2,1000.5 855.2,1000.4 856.2,1000.3 857.2,1000.2 858.1,998.8 859.1,997.3 860.0,995.9 860.9,994.4 861.9,993.0 862.8,991.5 863.7,990.1 864.7,988.6 865.6,987.2 866.5,989.1 867.4,990.9 868.3,992.8 869.2,994.6 870.1,996.5 871.0,998.3 871.9,1000.2 872.9,1000.1 873.9,1000.0 874.8,999.8 875.8,999.7 876.8,999.6 877.8,999.5 878.8,999.3 879.8,999.2 880.7,999.1 881.7,999.0 882.7,998.8 883.7,998.7 884.7,998.6 885.7,998.5 886.6,998.3 887.6,998.2 888.6,998.1 889.5,996.3 890.4,994.5 891.3,992.7 892.2,991.0 893.1,989.2 894.0,987.4 894.9,985.6 895.7,982.7 896.6,979.7 897.4,976.8 898.3,973.8 899.1,970.9 900.0,971.1 900.9,971.2 901.8,971.4 902.7,971.5 903.6,971.7 904.5,971.8 905.4,972.0 906.2,963.9 907.0,955.8 907.7,947.6 908.5,939.5 909.3,930.0 910.1,920.6 910.9,911.2 911.7,901.7 912.5,908.5 913.2,915.4 914.0,922.2 914.8,929.0 915.6,941.0 916.3,953.1 917.1,965.2 917.9,977.2 918.7,980.5 919.6,983.9 920.4,987.2 921.3,990.6 922.1,993.9 923.1,994.4 924.0,994.9 925.0,995.3 925.9,995.8 926.9,996.3 927.8,996.8 928.8,997.3 929.7,997.8 930.7,998.2 931.6,998.7 932.6,999.2 933.6,999.2 934.6,999.2 935.5,999.2 936.5,999.2 937.5,999.2 938.5,999.2 939.5,999.2 940.5,999.2 941.4,999.2 942.4,999.2 943.4,999.2 944.4,999.2 945.4,999.2 946.4,999.2 947.3,999.2 948.3,999.2 949.3,999.2 950.3,999.2 951.3,999.3 952.3,999.3 953.3,999.4 954.3,999.4 955.3,999.5 956.3,999.5 957.3,999.6 958.3,999.6 959.3,999.7 960.3,999.7 961.3,999.8 962.3,999.8 963.3,999.9 964.3,999.9 965.3,1000.0 966.3,1000.0 967.3,1000.1 968.3,1000.1 969.3,1000.2 970.3,1000.2 971.2,999.7 972.1,999.3 973.1,998.8 974.0,998.3 974.9,997.9 975.8,997.4 976.8,996.9 977.7,996.5 978.6,996.0 979.6,993.7 980.5,991.5 981.5,989.2 982.4,987.0 983.4,984.7 984.3,982.5 985.3,980.2 986.3,982.8 987.3,985.5 988.2,988.1 989.2,990.7 990.2,993.4 991.2,996.0 992.2,996.3 993.1,996.6 994.1,996.9 995.0,997.2 996.0,997.5 996.9,997.7 997.9,998.0 998.8,998.3 999.8,998.6 1000.7,998.9 1001.7,999.2 1002.7,999.4 1003.7,999.5 1004.7,999.7 1005.7,999.9 1006.6,1000.0 1007.6,1000.2 1008.6,1000.3 1009.6,1000.5 1010.6,1000.7 1011.6,1000.8 1012.6,1001.0 1013.6,1001.2 1014.6,1001.3 1015.6,1001.5 1016.5,1001.6 1017.5,1001.8 1018.5,1002.0 1019.5,1002.1 1020.5,1002.3 1021.5,1001.7 1022.5,1001.0 1023.5,1000.4 1024.5,999.7 1025.5,999.1 1026.5,998.4 1027.5,997.8 1028.5,997.1 1029.5,996.5 1030.5,994.0 1031.5,991.6 1032.5,989.1 1033.4,986.6 1034.4,984.2 1035.4,981.7 1036.4,984.4 1037.4,987.0 1038.4,989.7 1039.4,992.4 1040.4,995.0 1041.4,997.7 1042.4,997.8 1043.4,997.9 1044.4,998.0 1045.3,998.1 1046.3,998.2 1047.3,998.3 1048.3,998.4 1049.3,998.5 1050.2,998.6 1051.2,998.7 1052.2,998.8 1053.2,998.9 1054.2,995.5 1055.2,992.2 1056.2,988.8 1057.1,985.4 1058.1,982.1 1059.1,978.7 1060.0,972.1 1060.9,965.5 1061.8,959.0 1062.8,952.4 1063.7,945.8 1064.6,939.2 1065.6,946.1 1066.6,953.1 1067.6,960.0 1068.6,966.9 1069.6,971.9 1070.5,976.8 1071.5,981.8 1072.4,986.7 1073.4,991.7 1074.4,992.4 1075.3,993.0 1076.3,993.7 1077.3,994.3 1078.2,995.0 1079.2,995.6 1080.1,996.3 1081.1,996.9 1082.1,997.6 1083.0,998.2 1084.0,998.9 1085.0,999.0 1086.0,999.2 1086.9,999.3 1087.9,999.5 1088.9,999.6 1089.9,999.7 1090.9,999.9 1091.9,1000.0 1092.8,1000.2 1093.8,1000.3 1094.8,1000.5 1095.8,1000.6 1096.8,1000.7 1097.8,1000.9 1098.7,1001.0 1099.7,1001.2 1100.7,1001.3 1101.7,999.7 1102.6,998.1 1103.6,996.5 1104.6,994.9 1105.5,993.3 1106.5,991.7 1107.4,990.1 1108.4,988.5 1109.4,986.9 1110.3,985.3 1111.3,983.7 1112.2,985.8 1113.1,987.9 1114.1,989.9 1115.0,992.0 1115.9,994.1 1116.8,996.2 1117.8,998.2 1118.7,1000.3 1119.6,1002.4 1120.6,1002.0 1121.6,1001.6 1122.6,1001.2 1123.6,1000.8 1124.6,1000.4 1125.5,1000.1 1126.5,999.7 1127.5,999.3 1128.5,998.9 1129.5,998.5 1130.5,998.1 1131.5,997.7 1132.4,993.6 1133.3,989.6 1134.2,985.5 1135.0,981.5 1135.9,977.4 1136.8,973.3 1137.7,969.3 1138.6,965.2 1139.6,970.2 1140.6,975.2 1141.6,980.2 1142.6,985.3 1143.6,990.3 1144.6,995.3 1145.5,996.2 1146.4,997.1 1147.4,998.1 1148.3,999.0 1149.2,999.9 1150.1,1000.8 1151.1,1001.8 1152.0,1002.7 1152.9,1003.6 1153.9,1003.7 1154.8,1003.7 1155.8,1003.8 1156.8,1003.8 1157.7,1003.9 1158.7,1003.9 1159.7,1004.0 1160.6,1004.0 1161.6,1004.1 1162.6,1004.1 1163.6,1004.2 1164.5,1004.3 1165.5,1004.3 1166.5,1004.4 1167.4,1004.4 1168.4,1004.5 1169.4,1004.5 1170.3,1004.6 1171.3,1004.6 1172.3,1004.7 1173.2,1004.7 1174.2,1004.8 1175.1,1003.2 1176.0,1001.6 1177.0,1000.1 1177.9,998.5 1178.8,996.9 1179.7,995.3 1180.7,993.8 1181.6,992.2 1182.5,990.6 1183.5,992.8 1184.5,994.9 1185.5,997.1 1186.4,999.3 1187.4,1001.4 1188.4,1003.6 1189.4,1003.5 1190.4,1003.3 1191.3,1003.2 1192.3,1003.1 1193.3,1002.9 1194.3,1002.8 1195.2,1002.7 1196.2,1002.5 1197.2,1002.4 1198.2,1002.2 1199.1,1002.1 1200.1,1002.0 1201.1,1001.8 1202.1,1001.7 1203.0,1001.6 1204.0,1001.4 1205.0,1001.3 1206.0,998.1 1207.0,995.0 1208.0,991.8 1209.0,988.7 1210.0,985.5 1211.0,982.3 1212.0,979.2 1213.0,976.0 1214.0,972.9 1215.0,969.7 1216.0,974.0 1216.9,978.4 1217.9,982.7 1218.8,987.1 1219.8,991.4 1220.7,995.8 1221.7,1000.1 1222.7,1000.6 1223.7,1001.1 1224.7,1001.6 1225.6,1002.1 1226.6,1002.6 1227.6,1003.0 1228.6,1003.5 1229.6,1004.0 1230.5,1004.5 1231.5,1005.0 1232.5,1005.5 1233.5,1006.0 1234.5,1005.4 1235.4,1004.9 1236.4,1004.3 1237.3,1003.8 1238.3,1003.2 1239.2,1002.7 1240.2,1002.1 1241.1,1001.6 1242.1,1001.0 1243.0,1000.5 1244.0,999.9 1244.9,999.4 1245.9,998.8 1246.8,998.3 1247.8,997.7 1248.7,998.5 1249.7,999.4 1250.6,1000.2 1251.6,1001.0 1252.5,1001.9 1253.4,1002.7 1254.4,1003.5 1255.3,1004.3 1256.3,1005.2 1257.2,1006.0 1258.2,1005.4 1259.1,1004.8 1260.0,1004.2 1261.0,1003.6 1262.0,1003.0 1262.9,1002.5 1263.9,1001.9 1264.8,1001.3 1265.8,1000.7 1266.7,1000.1 1267.7,995.9 1268.7,991.6 1269.7,987.4 1270.7,983.2 1271.7,978.9 1272.7,974.7 1273.6,978.2 1274.5,981.6 1275.4,985.1 1276.2,988.6 1277.1,992.0 1278.0,995.5 1278.9,998.9 1279.8,1002.4 1280.8,1002.8 1281.8,1003.1 1282.8,1003.5 1283.8,1003.9 1284.8,1004.2 1285.8,1004.6 1286.8,1005.0 1287.8,1005.4 1288.8,1005.7 1289.8,1006.1 1290.8,1006.5 1291.8,1006.8 1292.8,1007.2 1293.8,1007.2 1294.8,1007.1 1295.8,1007.1 1296.8,1007.0 1297.8,1007.0 1298.8,1007.0 1299.8,1006.9 1300.8,1006.9 1301.8,1006.9 1302.8,1006.8 1303.8,1006.8 1304.8,1006.7 1305.8,1006.7 1306.8,1006.7 1307.8,1006.6 1308.7,1006.6 1309.7,1006.5 1310.7,1006.5 1311.7,1006.5 1312.7,1006.4 1313.7,1006.4 1314.7,1006.3 1315.7,1006.3 1316.7,1006.3 1317.7,1006.2 1318.7,1006.2 1319.7,1006.2 1320.7,1006.1 1321.7,1006.1 1322.7,1006.0 1323.7,1006.0 1324.7,1004.3 1325.6,1002.7 1326.6,1001.0 1327.6,999.3 1328.6,997.7 1329.5,996.0 1330.5,994.4 1331.5,992.7 1332.5,991.0 1333.4,989.4 1334.4,987.7 1335.3,989.6 1336.2,991.5 1337.2,993.4 1338.1,995.3 1339.0,997.2 1339.9,999.1 1340.9,1001.0 1341.8,1002.9 1342.7,1004.8 1343.6,1005.2 1344.6,1005.5 1345.5,1005.9 1346.5,1006.2 1347.4,1006.6 1348.3,1007.0 1349.3,1007.3 1350.2,1007.7 1351.2,1008.0 1352.1,1008.4 1352.1,1015.0 1351.2,1014.6 1350.2,1014.3 1349.3,1013.9 1348.3,1013.6 1347.4,1013.2 1346.5,1012.8 1345.5,1012.5 1344.6,1012.1 1343.6,1011.8 1342.7,1011.4 1341.8,1009.5 1340.9,1007.6 1339.9,1005.7 1339.0,1003.8 1338.1,1001.9 1337.2,1000.0 1336.2,998.1 1335.3,996.2 1334.4,994.3 1333.4,996.0 1332.5,997.6 1331.5,999.3 1330.5,1001.0 1329.5,1002.6 1328.6,1004.3 1327.6,1005.9 1326.6,1007.6 1325.6,1009.3 1324.7,1010.9 1323.7,1012.6 1322.7,1012.6 1321.7,1012.7 1320.7,1012.7 1319.7,1012.8 1318.7,1012.8 1317.7,1012.8 1316.7,1012.9 1315.7,1012.9 1314.7,1012.9 1313.7,1013.0 1312.7,1013.0 1311.7,1013.1 1310.7,1013.1 1309.7,1013.1 1308.7,1013.2 1307.8,1013.2 1306.8,1013.3 1305.8,1013.3 1304.8,1013.3 1303.8,1013.4 1302.8,1013.4 1301.8,1013.5 1300.8,1013.5 1299.8,1013.5 1298.8,1013.6 1297.8,1013.6 1296.8,1013.6 1295.8,1013.7 1294.8,1013.7 1293.8,1013.8 1292.8,1013.8 1291.8,1013.4 1290.8,1013.1 1289.8,1012.7 1288.8,1012.3 1287.8,1012.0 1286.8,1011.6 1285.8,1011.2 1284.8,1010.8 1283.8,1010.5 1282.8,1010.1 1281.8,1009.7 1280.8,1009.4 1279.8,1009.0 1278.9,1005.5 1278.0,1002.1 1277.1,998.6 1276.2,995.1 1275.4,991.7 1274.5,988.2 1273.6,984.8 1272.7,981.3 1271.7,985.5 1270.7,989.8 1269.7,994.0 1268.7,998.2 1267.7,1002.5 1266.7,1006.7 1265.8,1007.3 1264.8,1007.9 1263.9,1008.5 1262.9,1009.1 1262.0,1009.6 1261.0,1010.2 1260.0,1010.8 1259.1,1011.4 1258.2,1012.0 1257.2,1012.6 1256.3,1011.8 1255.3,1010.9 1254.4,1010.1 1253.4,1009.3 1252.5,1008.4 1251.6,1007.6 1250.6,1006.8 1249.7,1006.0 1248.7,1005.1 1247.8,1004.3 1246.8,1004.9 1245.9,1005.4 1244.9,1006.0 1244.0,1006.5 1243.0,1007.1 1242.1,1007.6 1241.1,1008.2 1240.2,1008.7 1239.2,1009.3 1238.3,1009.8 1237.3,1010.4 1236.4,1010.9 1235.4,1011.5 1234.5,1012.0 1233.5,1012.6 1232.5,1012.1 1231.5,1011.6 1230.5,1011.1 1229.6,1010.6 1228.6,1010.1 1227.6,1009.6 1226.6,1009.2 1225.6,1008.7 1224.7,1008.2 1223.7,1007.7 1222.7,1007.2 1221.7,1006.7 1220.7,1002.4 1219.8,998.0 1218.8,993.7 1217.9,989.3 1216.9,985.0 1216.0,980.6 1215.0,976.3 1214.0,979.5 1213.0,982.6 1212.0,985.8 1211.0,988.9 1210.0,992.1 1209.0,995.3 1208.0,998.4 1207.0,1001.6 1206.0,1004.7 1205.0,1007.9 1204.0,1008.0 1203.0,1008.2 1202.1,1008.3 1201.1,1008.4 1200.1,1008.6 1199.1,1008.7 1198.2,1008.8 1197.2,1009.0 1196.2,1009.1 1195.2,1009.3 1194.3,1009.4 1193.3,1009.5 1192.3,1009.7 1191.3,1009.8 1190.4,1009.9 1189.4,1010.1 1188.4,1010.2 1187.4,1008.0 1186.4,1005.9 1185.5,1003.7 1184.5,1001.5 1183.5,999.4 1182.5,997.2 1181.6,998.8 1180.7,1000.4 1179.7,1001.9 1178.8,1003.5 1177.9,1005.1 1177.0,1006.7 1176.0,1008.2 1175.1,1009.8 1174.2,1011.4 1173.2,1011.3 1172.3,1011.3 1171.3,1011.2 1170.3,1011.2 1169.4,1011.1 1168.4,1011.1 1167.4,1011.0 1166.5,1011.0 1165.5,1010.9 1164.5,1010.9 1163.6,1010.8 1162.6,1010.7 1161.6,1010.7 1160.6,1010.6 1159.7,1010.6 1158.7,1010.5 1157.7,1010.5 1156.8,1010.4 1155.8,1010.4 1154.8,1010.3 1153.9,1010.3 1152.9,1010.2 1152.0,1009.3 1151.1,1008.4 1150.1,1007.4 1149.2,1006.5 1148.3,1005.6 1147.4,1004.7 1146.4,1003.7 1145.5,1002.8 1144.6,1001.9 1143.6,996.9 1142.6,991.9 1141.6,986.8 1140.6,981.8 1139.6,976.8 1138.6,971.8 1137.7,975.9 1136.8,979.9 1135.9,984.0 1135.0,988.0 1134.2,992.1 1133.3,996.2 1132.4,1000.2 1131.5,1004.3 1130.5,1004.7 1129.5,1005.1 1128.5,1005.5 1127.5,1005.9 1126.5,1006.3 1125.5,1006.6 1124.6,1007.0 1123.6,1007.4 1122.6,1007.8 1121.6,1008.2 1120.6,1008.6 1119.6,1009.0 1118.7,1006.9 1117.8,1004.8 1116.8,1002.8 1115.9,1000.7 1115.0,998.6 1114.1,996.5 1113.1,994.5 1112.2,992.4 1111.3,990.3 1110.3,991.9 1109.4,993.5 1108.4,995.1 1107.4,996.7 1106.5,998.3 1105.5,999.9 1104.6,1001.5 1103.6,1003.1 1102.6,1004.7 1101.7,1006.3 1100.7,1007.9 1099.7,1007.8 1098.7,1007.6 1097.8,1007.5 1096.8,1007.3 1095.8,1007.2 1094.8,1007.1 1093.8,1006.9 1092.8,1006.8 1091.9,1006.6 1090.9,1006.5 1089.9,1006.3 1088.9,1006.2 1087.9,1006.1 1086.9,1005.9 1086.0,1005.8 1085.0,1005.6 1084.0,1005.5 1083.0,1004.8 1082.1,1004.2 1081.1,1003.5 1080.1,1002.9 1079.2,1002.2 1078.2,1001.6 1077.3,1000.9 1076.3,1000.3 1075.3,999.6 1074.4,999.0 1073.4,998.3 1072.4,993.3 1071.5,988.4 1070.5,983.4 1069.6,978.5 1068.6,973.5 1067.6,966.6 1066.6,959.6 1065.6,952.7 1064.6,945.8 1063.7,952.4 1062.8,959.0 1061.8,965.5 1060.9,972.1 1060.0,978.7 1059.1,985.3 1058.1,988.7 1057.1,992.0 1056.2,995.4 1055.2,998.8 1054.2,1002.1 1053.2,1005.5 1052.2,1005.4 1051.2,1005.3 1050.2,1005.2 1049.3,1005.1 1048.3,1005.0 1047.3,1004.9 1046.3,1004.8 1045.3,1004.7 1044.4,1004.6 1043.4,1004.5 1042.4,1004.4 1041.4,1004.3 1040.4,1001.6 1039.4,999.0 1038.4,996.3 1037.4,993.6 1036.4,991.0 1035.4,988.3 1034.4,990.8 1033.4,993.2 1032.5,995.7 1031.5,998.2 1030.5,1000.6 1029.5,1003.1 1028.5,1003.7 1027.5,1004.4 1026.5,1005.0 1025.5,1005.7 1024.5,1006.3 1023.5,1007.0 1022.5,1007.6 1021.5,1008.3 1020.5,1008.9 1019.5,1008.7 1018.5,1008.6 1017.5,1008.4 1016.5,1008.2 1015.6,1008.1 1014.6,1007.9 1013.6,1007.8 1012.6,1007.6 1011.6,1007.4 1010.6,1007.3 1009.6,1007.1 1008.6,1006.9 1007.6,1006.8 1006.6,1006.6 1005.7,1006.5 1004.7,1006.3 1003.7,1006.1 1002.7,1006.0 1001.7,1005.8 1000.7,1005.5 999.8,1005.2 998.8,1004.9 997.9,1004.6 996.9,1004.3 996.0,1004.1 995.0,1003.8 994.1,1003.5 993.1,1003.2 992.2,1002.9 991.2,1002.6 990.2,1000.0 989.2,997.3 988.2,994.7 987.3,992.1 986.3,989.4 985.3,986.8 984.3,989.1 983.4,991.3 982.4,993.6 981.5,995.8 980.5,998.1 979.6,1000.3 978.6,1002.6 977.7,1003.1 976.8,1003.5 975.8,1004.0 974.9,1004.5 974.0,1004.9 973.1,1005.4 972.1,1005.9 971.2,1006.3 970.3,1006.8 969.3,1006.8 968.3,1006.7 967.3,1006.7 966.3,1006.6 965.3,1006.6 964.3,1006.5 963.3,1006.5 962.3,1006.4 961.3,1006.4 960.3,1006.3 959.3,1006.3 958.3,1006.2 957.3,1006.2 956.3,1006.1 955.3,1006.1 954.3,1006.0 953.3,1006.0 952.3,1005.9 951.3,1005.9 950.3,1005.8 949.3,1005.8 948.3,1005.8 947.3,1005.8 946.4,1005.8 945.4,1005.8 944.4,1005.8 943.4,1005.8 942.4,1005.8 941.4,1005.8 940.5,1005.8 939.5,1005.8 938.5,1005.8 937.5,1005.8 936.5,1005.8 935.5,1005.8 934.6,1005.8 933.6,1005.8 932.6,1005.8 931.6,1005.3 930.7,1004.8 929.7,1004.4 928.8,1003.9 927.8,1003.4 926.9,1002.9 925.9,1002.4 925.0,1001.9 924.0,1001.5 923.1,1001.0 922.1,1000.5 921.3,997.2 920.4,993.8 919.6,990.5 918.7,987.1 917.9,983.8 917.1,971.8 916.3,959.7 915.6,947.6 914.8,935.6 914.0,928.8 913.2,921.9 912.5,915.1 911.7,908.3 910.9,917.8 910.1,927.2 909.3,936.6 908.5,946.1 907.7,954.2 907.0,962.3 906.2,970.5 905.4,978.6 904.5,978.4 903.6,978.3 902.7,978.1 901.8,978.0 900.9,977.8 900.0,977.7 899.1,977.5 898.3,980.4 897.4,983.4 896.6,986.3 895.7,989.3 894.9,992.2 894.0,994.0 893.1,995.8 892.2,997.6 891.3,999.3 890.4,1001.1 889.5,1002.9 888.6,1004.7 887.6,1004.8 886.6,1004.9 885.7,1005.1 884.7,1005.2 883.7,1005.3 882.7,1005.4 881.7,1005.6 880.7,1005.7 879.8,1005.8 878.8,1005.9 877.8,1006.1 876.8,1006.2 875.8,1006.3 874.8,1006.4 873.9,1006.6 872.9,1006.7 871.9,1006.8 871.0,1004.9 870.1,1003.1 869.2,1001.2 868.3,999.4 867.4,997.5 866.5,995.7 865.6,993.8 864.7,995.2 863.7,996.7 862.8,998.1 861.9,999.6 860.9,1001.0 860.0,1002.5 859.1,1003.9 858.1,1005.4 857.2,1006.8 856.2,1006.9 855.2,1007.0 854.2,1007.1 853.2,1007.2 852.2,1007.3 851.2,1007.3 850.2,1007.4 849.2,1007.5 848.2,1007.6 847.2,1007.7 846.2,1007.8 845.2,1007.9 844.2,1008.0 843.2,1008.1 842.2,1008.2 841.2,1008.3 840.2,1008.4 839.2,1008.4 838.2,1008.5 837.2,1008.6 836.2,1008.7 835.2,1008.8 834.2,1008.9 833.2,1008.9 832.2,1008.9 831.2,1008.9 830.2,1008.9 829.3,1008.9 828.3,1008.9 827.3,1008.9 826.3,1008.9 825.3,1008.9 824.3,1008.9 823.3,1008.9 822.3,1008.9 821.3,1008.9 820.3,1008.9 819.4,1008.9 818.4,1008.9 817.4,1008.9 816.4,1008.9 815.4,1008.9 814.5,1007.5 813.6,1006.1 812.8,1004.7 811.9,1003.3 811.0,1001.9 810.1,1000.5 809.2,997.0 808.4,993.4 807.5,989.9 806.6,986.4 805.8,982.8 804.9,979.3 804.0,981.8 803.2,984.3 802.3,986.8 801.4,989.3 800.6,991.8 799.7,994.3 798.8,996.4 797.9,998.5 797.0,1000.5 796.2,1002.6 795.3,1004.7 794.4,1006.8 793.4,1006.9 792.4,1007.0 791.4,1007.1 790.4,1007.2 789.4,1007.3 788.4,1007.4 787.4,1007.5 786.4,1007.6 785.4,1007.7 784.4,1007.8 783.5,1007.9 782.5,1008.0 781.5,1008.1 780.5,1008.2 779.5,1008.3 778.5,1008.4 777.5,1008.5 776.5,1008.6 775.5,1008.7 774.5,1008.8 773.5,1008.9 772.6,1008.2 771.6,1007.5 770.7,1006.8 769.8,1006.1 768.8,1005.4 767.9,1004.7 767.0,1004.0 766.0,1003.3 765.1,1002.6 764.1,1003.1 763.2,1003.6 762.2,1004.1 761.3,1004.5 760.3,1005.0 759.3,1005.5 758.4,1006.0 757.4,1006.5 756.4,1007.0 755.5,1007.4 754.5,1007.9 753.6,1008.4 752.6,1008.9 751.6,1009.0 750.6,1009.1 749.6,1009.2 748.6,1009.3 747.6,1009.4 746.6,1009.5 745.6,1009.6 744.6,1009.7 743.6,1009.8 742.6,1009.9 741.6,1010.0 740.6,1010.0 739.6,1010.1 738.6,1010.1 737.6,1010.2 736.6,1010.2 735.6,1010.3 734.6,1010.3 733.6,1010.4 732.6,1010.4 731.7,1010.5 730.7,1010.5 729.7,1010.6 728.7,1010.6 727.7,1010.7 726.7,1010.7 725.7,1010.8 724.7,1010.8 723.7,1010.9 722.7,1010.9 721.7,1011.0 720.8,1010.3 719.8,1009.6 718.9,1008.9 718.0,1008.2 717.0,1007.5 716.1,1006.8 715.2,1006.1 714.2,1005.4 713.3,1004.7 712.4,1002.1 711.6,999.6 710.7,997.0 709.8,994.4 709.0,991.9 708.1,989.3 707.3,990.0 706.5,990.8 705.7,991.5 704.9,992.2 704.0,994.6 703.2,997.1 702.3,999.5 701.4,1001.9 700.6,1004.4 699.7,1006.8 698.8,1004.4 697.9,1001.9 697.0,999.5 696.1,997.1 695.2,994.7 694.3,992.2 693.4,989.8 692.6,991.1 691.7,992.4 690.9,993.7 690.0,995.0 689.2,996.3 688.3,998.4 687.5,1000.5 686.6,1002.6 685.7,1004.7 684.9,1006.8 684.0,1008.9 683.0,1009.0 682.0,1009.2 681.1,1009.3 680.1,1009.5 679.1,1009.6 678.1,1009.7 677.1,1009.9 676.2,1010.0 675.2,1010.2 674.2,1010.3 673.2,1010.4 672.2,1010.6 671.3,1010.7 670.3,1010.9 669.3,1011.0 668.3,1010.9 667.4,1010.8 666.4,1010.7 665.5,1010.7 664.5,1010.6 663.5,1010.5 662.6,1010.4 661.6,1010.3 660.6,1010.2 659.7,1010.2 658.7,1010.1 657.8,1010.0 656.8,1009.9 655.9,1008.6 655.0,1007.2 654.1,1005.9 653.2,1004.5 652.3,1003.2 651.4,1001.8 650.5,1000.5 649.7,996.7 648.8,992.8 648.0,989.0 647.1,985.1 646.3,981.3 645.5,984.3 644.6,987.3 643.8,990.3 642.9,993.3 642.1,996.3 641.2,998.4 640.3,1000.5 639.4,1002.6 638.5,1004.7 637.6,1006.8 636.7,1008.9 635.8,1011.0 634.8,1011.2 633.8,1011.4 632.8,1011.7 631.8,1011.9 630.9,1012.1 629.9,1012.3 628.9,1012.5 627.9,1012.8 626.9,1013.0 625.9,1013.2 624.9,1013.4 623.9,1013.7 622.9,1013.9 621.9,1014.1 621.0,1014.3 620.0,1014.5 619.0,1014.8 618.0,1015.0 617.0,1015.2 616.0,1015.1 615.0,1015.1 614.0,1015.0 613.0,1015.0 612.0,1014.9 611.0,1014.9 610.0,1014.8 609.0,1014.8 608.0,1014.7 607.0,1014.7 606.0,1014.6 605.0,1014.6 604.0,1014.5 603.0,1014.5 602.0,1014.4 601.0,1014.4 600.0,1014.3 599.0,1014.3 598.0,1014.2 597.0,1014.2 596.0,1014.1 595.0,1013.9 594.1,1013.7 593.1,1013.5 592.1,1013.3 591.1,1013.1 590.2,1012.9 589.2,1012.7 588.2,1012.4 587.2,1012.2 586.3,1012.0 585.3,1011.8 584.3,1011.6 583.3,1011.4 582.4,1011.2 581.4,1011.0 580.5,1007.8 579.5,1004.6 578.6,1001.4 577.7,998.2 576.7,995.0 575.8,991.8 574.8,993.9 573.8,996.1 572.8,998.2 571.9,1000.4 570.9,1002.5 569.9,1004.7 568.9,1006.8 568.0,1007.4 567.0,1008.1 566.1,1008.8 565.2,1009.4 564.3,1010.0 563.4,1010.7 562.4,1011.4 561.5,1012.0 560.6,1009.8 559.6,1007.6 558.7,1005.4 557.8,1003.2 556.8,1001.0 555.9,998.8 554.9,1000.6 553.9,1002.5 553.0,1004.3 552.0,1006.2 551.0,1008.0 550.0,1009.9 549.0,1010.1 548.0,1010.3 547.1,1010.5 546.1,1010.7 545.1,1010.8 544.1,1011.0 543.1,1011.2 542.1,1011.4 541.2,1011.6 540.2,1011.8 539.2,1012.0 538.2,1012.2 537.2,1012.3 536.2,1012.5 535.3,1012.7 534.3,1012.9 533.3,1013.1 532.3,1013.0 531.3,1012.9 530.3,1012.8 529.3,1012.7 528.3,1012.6 527.3,1012.5 526.3,1012.4 525.3,1012.3 524.3,1012.2 523.3,1012.1 522.3,1012.0 521.3,1011.9 520.3,1011.8 519.3,1011.7 518.3,1011.6 517.3,1011.5 516.3,1011.4 515.3,1011.3 514.3,1011.2 513.3,1011.1 512.3,1011.0 511.3,1010.8 510.4,1010.6 509.4,1010.4 508.4,1010.2 507.4,1010.0 506.5,1009.8 505.5,1009.6 504.5,1009.3 503.5,1009.1 502.6,1008.9 501.6,1008.7 500.6,1008.5 499.6,1008.3 498.7,1008.1 497.7,1007.9 496.8,1005.9 495.9,1003.9 495.0,1001.8 494.2,999.8 493.3,997.8 492.4,995.8 491.5,996.9 490.7,998.1 489.8,999.2 488.9,1000.3 488.1,1001.5 487.2,1002.6 486.3,1003.5 485.4,1004.4 484.5,1005.3 483.7,1006.2 482.8,1007.1 481.9,1008.0 481.0,1008.9 480.0,1008.9 479.0,1009.0 478.0,1009.0 477.0,1009.1 476.0,1009.1 475.0,1009.2 474.0,1009.2 473.0,1009.3 472.0,1009.3 471.0,1009.4 470.0,1009.4 469.0,1009.5 468.0,1009.5 467.0,1009.6 466.0,1009.6 465.0,1009.7 464.0,1009.7 463.0,1009.8 462.0,1009.8 461.0,1009.9 460.0,1009.9 459.0,1009.6 458.1,1009.4 457.1,1009.1 456.1,1008.9 455.2,1008.6 454.2,1008.4 453.2,1008.1 452.3,1007.9 451.3,1007.6 450.4,1007.4 449.4,1007.1 448.4,1006.9 447.5,1006.6 446.5,1006.4 445.5,1006.1 444.6,1005.9 443.6,1005.6 442.6,1005.6 441.6,1005.6 440.7,1005.7 439.7,1005.7 438.7,1005.7 437.7,1005.7 436.7,1005.7 435.7,1005.8 434.8,1005.8 433.8,1005.8 432.8,1005.8 431.8,1005.8 430.8,1005.9 429.8,1005.9 428.9,1005.9 427.9,1005.9 426.9,1006.0 425.9,1006.0 424.9,1006.0 423.9,1006.0 422.9,1006.0 422.0,1006.1 421.0,1006.1 420.0,1006.1 419.0,1005.6 418.0,1005.2 417.0,1004.7 416.0,1004.3 415.0,1003.8 414.0,1003.4 413.0,1002.9 412.0,1002.5 411.0,1002.0 410.0,1001.6 409.0,1001.1 408.0,1000.7 407.0,1000.2 406.0,999.8 405.1,999.2 404.1,998.7 403.2,998.1 402.2,997.5 401.3,996.9 400.3,996.4 399.4,995.8 398.4,995.2 397.5,994.6 396.5,994.1 395.6,993.5 394.8,991.5 393.9,989.4 393.1,987.4 392.2,985.3 391.4,983.3 390.4,968.3 389.5,953.3 388.5,935.8 387.5,918.3 386.5,903.3 385.5,888.3 384.7,880.3 383.9,872.3 383.0,887.5 382.1,902.8 381.2,918.0 380.5,929.8 379.7,941.5 379.0,953.3 378.3,959.7 377.5,966.2 376.8,972.6 375.9,975.0 374.9,977.4 373.9,979.9 373.0,982.3 372.0,983.4 371.1,984.5 370.1,985.7 369.1,986.8 368.3,985.9 367.5,985.0 366.6,984.1 365.8,983.2 365.0,982.3 364.1,979.9 363.2,977.4 362.4,975.0 361.5,972.6 360.8,967.2 360.0,961.7 359.3,956.3 358.6,947.2 357.8,938.1 357.1,929.0 356.3,912.6 355.5,896.2 354.9,874.3 354.4,852.5 353.9,825.2 353.3,797.9 352.8,743.3 352.0,618.3 351.4,583.3 350.8,548.3 349.9,524.3 349.0,548.3 348.1,583.3 347.2,618.3 346.6,650.8 346.0,683.3 345.3,713.3 344.6,743.3 344.1,770.6 343.5,797.9 342.6,825.2 341.8,852.5 341.1,867.1 340.4,881.6 339.7,896.2 339.0,907.1 338.2,918.1 337.5,929.0 336.7,935.8 335.9,942.6 335.0,949.5 334.2,956.3 333.3,959.0 332.4,961.7 331.4,964.4 330.5,967.2 329.6,969.9 328.7,972.6 327.9,974.1 327.0,975.7 326.2,977.2 325.3,978.8 324.5,980.3 323.7,981.0 322.9,981.7 322.1,982.4 321.3,983.1 320.4,983.2 319.5,983.3 318.6,983.5 317.6,983.6 316.7,983.7 315.8,983.8 314.9,984.0 314.0,984.1 313.0,983.9 312.1,983.8 311.1,983.6 310.1,983.5 309.2,983.3 308.2,983.1 307.2,983.0 306.2,982.8 305.3,982.6 304.3,982.5 303.3,982.3 302.4,982.2 301.4,982.0 300.5,981.5 299.5,981.1 298.6,980.6 297.6,980.1 296.7,979.6 295.7,979.2 294.8,978.7 293.8,978.2 292.9,977.7 291.9,977.3 291.0,976.8 290.0,976.8 289.1,976.8 288.1,976.8 287.1,976.8 286.2,976.8 285.2,976.8 284.2,976.8 283.3,976.8 282.3,976.8 281.3,976.8 280.4,976.8 279.4,976.8" fill="#0066FF" stroke="none"/>
<polyline points="279.4,972.0 280.1,973.7 280.8,972.8 281.4,974.1 282.1,974.2 282.8,971.1 283.5,970.8 284.2,975.4 284.9,972.2 285.5,972.0 286.2,976.3 286.9,973.3 287.6,975.4 288.3,973.4 289.0,974.3 289.6,971.5 290.3,974.3 291.0,975.6 291.7,974.0 292.4,975.5 293.1,975.5 293.8,972.4 294.5,976.7 295.2,976.1 295.9,974.8 296.5,973.6 297.2,978.7 297.9,976.8 298.6,978.5 299.3,979.8 300.0,979.2 300.7,980.7 301.4,978.1 302.1,980.5 302.7,978.6 303.4,981.5 304.1,981.3 304.7,977.0 305.4,977.3 306.0,977.9 306.7,982.2 307.4,979.3 308.0,980.5 308.7,978.8 309.4,980.1 310.0,979.5 310.7,979.4 311.3,980.8 312.0,980.9 312.7,982.8 313.3,981.7 314.0,983.2 314.7,982.7 315.3,983.4 316.0,981.5 316.7,978.5 317.3,982.4 318.0,982.9 318.6,982.4 319.3,980.5 320.0,981.2 320.6,978.3 321.3,981.7 321.9,979.7 322.6,977.5 323.2,975.7 323.9,979.5 324.5,979.7 325.2,973.4 325.9,976.1 326.6,972.6 327.3,969.9 328.0,969.4 328.7,970.8 329.4,969.3 330.1,962.7 330.8,963.8 331.4,958.6 332.1,960.3 332.8,956.1 333.5,957.2 334.2,955.7 334.9,947.6 335.5,944.9 336.2,935.6 336.8,928.8 337.5,926.3 338.1,914.9 338.6,907.6 339.1,900.6 339.7,893.5 340.2,880.0 340.8,868.5 341.3,862.2 341.8,848.2 342.4,833.6 342.9,815.0 343.5,793.9 344.1,767.1 344.6,740.1 345.3,710.8 346.0,680.5 346.6,647.8 347.2,615.7 347.8,594.1 348.4,568.4 349.0,544.6 349.4,534.2 349.9,519.5 350.4,531.9 350.8,547.7 351.4,580.1 352.0,615.3 352.4,674.8 352.8,739.5 353.3,795.0 353.9,819.2 354.4,849.8 354.9,871.8 355.5,890.4 356.0,904.5 356.6,914.6 357.1,926.7 357.7,931.7 358.2,940.5 358.8,947.5 359.3,950.3 359.9,954.6 360.4,962.1 360.9,967.8 361.5,967.9 362.2,971.0 362.9,973.7 363.6,974.1 364.3,976.3 365.0,978.0 365.7,979.0 366.4,981.0 367.1,980.1 367.7,981.3 368.4,984.3 369.1,980.9 369.8,983.1 370.4,983.3 371.1,980.2 371.7,978.9 372.4,981.5 373.0,977.5 373.6,975.6 374.3,975.4 374.9,975.3 375.5,970.3 376.2,969.9 376.8,968.4 377.4,966.3 377.9,959.3 378.4,956.8 379.0,948.1 379.6,940.3 380.1,933.2 380.6,925.7 381.2,914.4 381.9,901.7 382.5,889.7 383.2,880.6 383.9,867.3 384.4,876.1 385.0,881.6 385.5,883.2 386.2,893.8 386.8,906.7 387.5,915.8 388.2,928.4 388.8,937.5 389.5,947.9 390.1,958.8 390.8,971.6 391.4,978.7 392.0,980.6 392.6,982.4 393.2,983.9 393.8,985.3 394.4,989.6 395.0,986.8 395.6,987.4 396.3,993.1 397.0,993.2 397.7,994.2 398.4,991.5 399.1,994.8 399.8,995.1 400.5,991.6 401.1,994.9 401.8,995.9 402.5,995.3 403.2,994.9 403.9,994.1 404.6,994.8 405.3,994.6 406.0,994.1 406.7,997.3 407.4,995.9 408.1,999.2 408.8,995.2 409.5,1000.3 410.2,999.5 410.9,1001.1 411.6,1001.2 412.3,1001.6 413.0,1000.1 413.7,997.2 414.4,1001.7 415.1,998.8 415.8,999.8 416.5,1002.1 417.2,1001.7 417.9,1001.4 418.6,1004.6 419.3,1003.1 420.0,1001.9 420.7,1001.4 421.4,1004.8 422.1,1002.6 422.8,1004.3 423.5,1001.9 424.2,1001.0 424.9,1002.9 425.6,1004.5 426.2,1000.8 426.9,1004.3 427.6,1005.0 428.3,1004.3 429.0,1004.4 429.7,999.8 430.4,1003.3 431.1,1004.6 431.8,1000.0 432.5,1001.3 433.2,1001.2 433.9,1002.7 434.6,1002.1 435.3,1002.3 436.0,1004.0 436.7,999.7 437.4,999.9 438.0,1000.3 438.7,1000.3 439.4,1000.0 440.1,1005.0 440.8,1004.3 441.5,1000.0 442.2,1002.3 442.9,1001.3 443.6,1001.3 444.3,1001.6 445.0,1003.5 445.7,1003.3 446.3,1002.2 447.0,1001.5 447.7,1002.4 448.4,1001.4 449.1,1004.0 449.8,1005.1 450.4,1003.4 451.1,1001.9 451.8,1002.6 452.5,1003.9 453.2,1005.4 453.9,1006.6 454.5,1004.5 455.2,1007.0 455.9,1006.2 456.6,1005.3 457.3,1005.2 457.9,1006.0 458.6,1007.4 459.3,1006.0 460.0,1007.7 460.7,1006.3 461.4,1005.1 462.0,1006.7 462.7,1007.6 463.4,1004.0 464.1,1006.0 464.7,1006.0 465.4,1008.5 466.1,1008.8 466.8,1005.6 467.5,1008.5 468.1,1007.8 468.8,1004.8 469.5,1005.9 470.2,1004.0 470.8,1007.8 471.5,1007.0 472.2,1008.2 472.9,1007.6 473.5,1006.9 474.2,1007.2 474.9,1006.2 475.6,1003.6 476.3,1006.3 476.9,1003.0 477.6,1003.8 478.3,1007.3 479.0,1003.1 479.6,1003.4 480.3,1003.4 481.0,1007.7 481.7,1003.1 482.4,1001.5 483.1,1005.4 483.8,1000.7 484.4,1004.0 485.1,1002.4 485.8,1002.6 486.5,1002.5 487.2,999.7 487.8,1000.1 488.5,995.0 489.1,998.2 489.8,996.0 490.4,996.3 491.1,992.0 491.8,994.7 492.4,994.9 493.1,991.6 493.7,994.5 494.4,997.4 495.0,1000.4 495.7,998.6 496.4,999.8 497.0,1001.7 497.7,1005.2 498.4,1006.2 499.1,1004.3 499.8,1004.3 500.5,1004.6 501.2,1004.5 501.9,1005.0 502.6,1003.3 503.3,1005.8 504.0,1008.6 504.7,1005.6 505.3,1007.6 506.0,1004.5 506.7,1007.6 507.4,1008.1 508.1,1007.8 508.8,1007.1 509.5,1007.0 510.2,1008.1 510.9,1009.6 511.6,1005.6 512.3,1005.4 513.0,1009.2 513.7,1010.2 514.3,1008.0 515.0,1007.7 515.7,1009.3 516.4,1006.3 517.0,1006.9 517.7,1006.6 518.4,1008.8 519.1,1007.3 519.8,1006.9 520.4,1009.6 521.1,1011.1 521.8,1007.5 522.5,1009.9 523.1,1008.3 523.8,1010.8 524.5,1009.4 525.2,1007.7 525.8,1007.5 526.5,1006.5 527.2,1009.1 527.9,1008.6 528.6,1007.5 529.2,1008.6 529.9,1008.5 530.6,1011.1 531.3,1007.6 531.9,1012.4 532.6,1009.6 533.3,1010.4 534.0,1009.5 534.7,1011.4 535.4,1011.2 536.1,1009.6 536.8,1009.0 537.5,1010.2 538.2,1010.9 538.9,1008.2 539.6,1009.9 540.3,1011.0 541.0,1008.2 541.6,1006.7 542.3,1006.6 543.0,1009.2 543.7,1008.8 544.4,1010.2 545.1,1009.5 545.8,1006.0 546.5,1005.5 547.2,1005.8 547.9,1005.2 548.6,1008.0 549.3,1008.7 550.0,1008.8 550.7,1004.0 551.3,1006.2 552.0,1001.9 552.6,1001.2 553.3,1001.7 553.9,996.9 554.6,995.7 555.2,998.6 555.9,994.3 556.5,996.2 557.1,998.9 557.8,1000.9 558.4,998.6 559.0,1001.9 559.6,1003.9 560.3,1005.7 560.9,1005.6 561.5,1009.2 562.2,1010.8 562.8,1007.1 563.5,1007.5 564.2,1004.7 564.9,1005.1 565.5,1006.8 566.2,1003.2 566.9,1007.1 567.6,1006.7 568.2,1001.7 568.9,1006.0 569.6,1001.3 570.3,1002.0 571.0,1000.4 571.7,996.4 572.3,997.0 573.0,995.4 573.7,994.7 574.4,990.2 575.1,991.4 575.8,991.1 576.4,991.6 577.0,993.0 577.7,992.7 578.3,997.0 578.9,998.3 579.5,1002.5 580.2,1004.4 580.8,1005.9 581.4,1005.9 582.1,1008.7 582.8,1008.7 583.5,1006.3 584.2,1010.5 584.9,1009.3 585.6,1006.5 586.3,1011.2 587.0,1006.9 587.7,1008.1 588.4,1010.4 589.0,1009.9 589.7,1009.8 590.4,1010.4 591.1,1009.5 591.8,1008.9 592.5,1008.2 593.2,1007.8 593.9,1011.6 594.6,1011.9 595.3,1010.9 596.0,1012.1 596.7,1010.0 597.4,1009.6 598.0,1010.3 598.7,1013.0 599.4,1008.4 600.1,1011.0 600.7,1009.6 601.4,1012.6 602.1,1010.3 602.8,1010.2 603.5,1010.6 604.1,1011.5 604.8,1012.8 605.5,1010.5 606.2,1013.3 606.8,1009.2 607.5,1010.1 608.2,1009.2 608.9,1009.3 609.5,1013.1 610.2,1012.8 610.9,1009.8 611.6,1009.9 612.3,1011.2 612.9,1013.0 613.6,1013.5 614.3,1013.2 615.0,1012.3 615.6,1009.8 616.3,1011.3 617.0,1010.2 617.7,1011.9 618.4,1012.0 619.1,1009.8 619.8,1009.9 620.5,1012.7 621.2,1008.3 621.9,1012.5 622.6,1012.8 623.3,1013.0 624.0,1009.7 624.7,1010.5 625.4,1010.5 626.1,1010.6 626.7,1012.4 627.4,1010.6 628.1,1008.3 628.8,1011.3 629.5,1009.0 630.2,1009.5 630.9,1010.1 631.6,1005.8 632.3,1010.0 633.0,1009.2 633.7,1008.1 634.4,1008.1 635.1,1007.6 635.8,1006.0 636.4,1006.4 637.1,1002.2 637.7,1003.3 638.3,1002.6 639.0,1000.0 639.6,999.2 640.2,1000.0 640.8,998.1 641.5,992.4 642.1,994.6 642.8,991.2 643.5,985.5 644.2,984.7 644.9,981.5 645.6,978.1 646.3,978.2 646.9,983.1 647.5,982.5 648.1,988.3 648.7,990.1 649.3,989.7 649.9,996.5 650.5,997.8 651.2,1000.6 651.9,1000.5 652.6,1001.7 653.3,1000.5 654.0,1004.1 654.7,1005.9 655.4,1006.5 656.1,1005.2 656.8,1008.0 657.5,1006.6 658.2,1004.5 658.9,1004.2 659.6,1004.5 660.3,1005.2 661.0,1005.1 661.7,1007.0 662.4,1008.2 663.0,1007.4 663.7,1006.8 664.4,1008.1 665.1,1006.2 665.8,1007.2 666.5,1008.9 667.2,1007.0 667.9,1005.8 668.6,1009.9 669.3,1008.9 670.0,1006.9 670.6,1006.8 671.3,1007.6 672.0,1007.9 672.6,1005.7 673.3,1004.3 674.0,1005.4 674.6,1008.5 675.3,1004.8 676.0,1006.5 676.6,1004.9 677.3,1004.9 678.0,1004.6 678.7,1005.8 679.3,1004.4 680.0,1003.5 680.7,1003.9 681.3,1004.1 682.0,1005.8 682.7,1003.3 683.3,1003.0 684.0,1005.3 684.6,1003.5 685.3,1003.6 686.0,998.4 686.6,998.8 687.2,997.1 687.9,993.5 688.6,997.2 689.2,991.4 689.9,989.6 690.6,990.7 691.3,987.9 692.0,989.4 692.7,986.7 693.4,984.4 694.0,985.7 694.7,991.2 695.3,990.3 695.9,994.9 696.5,994.8 697.2,999.1 697.8,997.3 698.4,998.7 699.1,1000.5 699.7,1005.3 700.4,1002.4 701.0,999.0 701.6,995.7 702.3,997.2 703.0,997.0 703.6,993.1 704.2,987.9 704.9,986.3 705.5,986.0 706.2,985.9 706.8,984.6 707.5,984.1 708.1,986.9 708.8,990.2 709.4,988.2 710.0,994.4 710.7,993.6 711.4,997.3 712.0,999.9 712.6,1001.9 713.3,998.8 713.9,1000.8 714.6,1003.0 715.2,1005.4 715.9,1001.0 716.5,1002.7 717.2,1006.3 717.8,1002.6 718.5,1004.7 719.1,1004.8 719.8,1007.3 720.4,1009.1 721.1,1005.4 721.7,1009.0 722.4,1009.0 723.1,1009.5 723.8,1007.9 724.5,1009.9 725.2,1006.7 725.9,1007.0 726.6,1005.9 727.3,1009.0 728.0,1007.3 728.7,1006.0 729.4,1005.4 730.1,1008.5 730.8,1007.8 731.5,1008.4 732.2,1006.5 732.8,1007.0 733.5,1005.1 734.2,1008.2 734.9,1004.3 735.6,1006.8 736.3,1008.4 737.0,1007.9 737.7,1004.6 738.4,1005.3 739.1,1008.7 739.8,1007.5 740.5,1008.8 741.2,1008.8 741.9,1006.4 742.6,1008.8 743.3,1007.8 743.9,1005.5 744.6,1005.7 745.3,1003.9 745.9,1005.7 746.6,1008.8 747.3,1003.9 747.9,1006.5 748.6,1003.8 749.3,1003.6 749.9,1006.7 750.6,1004.3 751.3,1003.2 751.9,1003.7 752.6,1006.4 753.3,1005.7 754.0,1002.2 754.7,1003.0 755.4,1006.8 756.1,1002.3 756.8,1003.8 757.5,1002.7 758.2,1004.4 758.9,1003.0 759.5,1003.7 760.2,1001.9 760.9,999.7 761.6,999.2 762.3,998.3 763.0,1002.2 763.7,997.8 764.4,997.0 765.1,1001.9 765.8,998.1 766.5,1002.6 767.2,998.6 767.9,1001.2 768.6,1000.4 769.3,1004.3 770.0,1003.6 770.7,1004.3 771.4,1005.5 772.1,1006.6 772.8,1004.2 773.5,1006.2 774.2,1005.2 774.9,1003.3 775.6,1007.3 776.3,1005.8 777.0,1007.0 777.7,1003.5 778.4,1005.3 779.1,1004.8 779.8,1006.2 780.5,1002.5 781.2,1004.0 781.9,1004.7 782.6,1002.3 783.3,1004.9 784.0,1005.9 784.6,1004.0 785.3,1005.2 786.0,1004.9 786.7,1002.7 787.4,1003.4 788.1,1006.9 788.8,1003.1 789.5,1003.6 790.2,1001.6 790.9,1002.3 791.6,1001.9 792.3,1006.1 793.0,1004.9 793.7,1005.7 794.4,1006.2 795.1,1002.6 795.7,1002.8 796.4,999.0 797.0,996.8 797.7,998.2 798.4,996.4 799.0,995.1 799.7,990.9 800.4,990.7 801.0,986.7 801.6,988.2 802.3,985.9 803.0,980.5 803.6,982.2 804.2,976.1 804.9,973.7 805.5,979.9 806.2,980.1 806.9,984.1 807.5,987.4 808.1,986.7 808.8,993.3 809.5,993.3 810.1,996.8 810.8,997.4 811.4,1000.7 812.1,1001.7 812.8,1000.2 813.4,1000.2 814.1,1002.4 814.7,1004.1 815.4,1003.2 816.1,1003.7 816.8,1007.1 817.5,1006.7 818.2,1008.3 818.9,1008.3 819.6,1007.7 820.3,1004.9 821.0,1003.7 821.7,1004.5 822.4,1005.4 823.1,1005.7 823.8,1005.8 824.5,1004.8 825.1,1007.6 825.8,1004.4 826.5,1005.4 827.2,1007.8 827.9,1007.3 828.6,1004.5 829.3,1004.2 830.0,1007.3 830.7,1002.9 831.4,1003.5 832.1,1005.8 832.8,1005.8 833.5,1003.7 834.2,1003.1 834.9,1003.9 835.6,1007.0 836.3,1005.2 837.0,1008.0 837.7,1006.9 838.4,1007.9 839.1,1002.6 839.8,1003.3 840.5,1002.3 841.2,1004.6 841.9,1004.0 842.6,1002.3 843.3,1005.0 844.0,1002.4 844.7,1003.6 845.4,1003.2 846.0,1006.2 846.7,1004.0 847.4,1003.0 848.1,1001.8 848.8,1003.9 849.5,1004.9 850.2,1005.1 850.9,1006.4 851.6,1005.7 852.3,1002.5 853.0,1001.8 853.7,1005.3 854.4,1005.4 855.1,1003.7 855.8,1005.5 856.5,1003.9 857.2,1002.3 857.9,1000.6 858.6,998.6 859.3,1001.1 860.0,1001.4 860.7,1000.4 861.4,996.8 862.1,996.8 862.8,997.2 863.5,995.5 864.2,993.2 864.9,991.1 865.6,990.6 866.3,990.1 867.0,991.6 867.7,995.9 868.4,999.0 869.1,998.0 869.8,998.7 870.5,999.8 871.2,1001.8 871.9,1005.2 872.6,1003.1 873.3,1005.9 874.0,1001.3 874.7,1002.1 875.4,1003.2 876.1,1002.5 876.8,1004.9 877.5,1004.6 878.2,1005.1 878.9,1003.3 879.6,999.9 880.2,1002.9 880.9,1002.6 881.6,1002.2 882.3,1001.0 883.0,1003.3 883.7,1004.3 884.4,999.7 885.1,1002.8 885.8,1001.0 886.5,1001.7 887.2,1003.8 887.9,1004.1 888.6,1002.2 889.3,998.3 890.0,1001.0 890.7,995.4 891.4,995.2 892.1,996.3 892.8,992.0 893.5,990.4 894.2,992.8 894.9,991.4 895.5,985.8 896.1,984.1 896.7,981.4 897.3,978.4 897.9,977.0 898.5,979.0 899.1,971.8 899.8,972.8 900.5,972.8 901.2,972.2 901.9,974.8 902.6,976.2 903.3,976.8 904.0,975.8 904.7,977.0 905.4,972.5 906.0,967.6 906.6,964.9 907.3,953.4 907.9,948.0 908.5,942.7 909.1,933.9 909.8,927.9 910.4,917.6 911.1,911.1 911.7,907.6 912.3,908.5 912.9,918.2 913.6,919.6 914.2,929.6 914.8,933.3 915.4,942.8 916.0,949.6 916.7,958.7 917.3,972.3 917.9,978.7 918.5,981.1 919.1,987.1 919.7,989.8 920.3,987.5 920.9,995.0 921.5,995.0 922.1,996.5 922.8,995.3 923.4,997.2 924.1,1000.9 924.7,997.3 925.4,996.8 926.0,997.2 926.7,997.4 927.4,999.0 928.0,1002.5 928.7,998.1 929.3,999.1 930.0,1003.6 930.6,1004.3 931.3,1004.5 931.9,1000.7 932.6,1001.7 933.3,1005.0 934.0,1002.4 934.7,1003.6 935.4,1001.5 936.1,999.8 936.8,1001.6 937.5,1003.9 938.2,1004.1 938.9,1002.9 939.6,1002.3 940.3,1002.7 941.0,1002.2 941.6,1002.7 942.3,1004.4 943.0,1000.8 943.7,1003.0 944.4,1004.9 945.1,1004.5 945.8,1000.7 946.5,1005.1 947.2,1004.4 947.9,1000.6 948.6,1001.2 949.3,1000.8 950.0,1000.0 950.7,1005.2 951.3,1002.1 952.0,1004.7 952.7,1000.5 953.4,1000.0 954.0,1004.8 954.7,1004.4 955.4,1005.5 956.1,1003.9 956.8,1003.0 957.4,1004.4 958.1,1000.6 958.8,1003.2 959.5,1002.7 960.1,1001.0 960.8,1003.6 961.5,1002.1 962.2,1003.1 962.8,1002.4 963.5,1002.2 964.2,1002.4 964.9,1003.8 965.6,1006.0 966.2,1005.7 966.9,1005.4 967.6,1005.2 968.3,1002.2 968.9,1006.1 969.6,1002.2 970.3,1001.4 971.0,1003.2 971.7,1004.1 972.4,1001.6 973.1,1002.9 973.8,1000.5 974.5,1004.0 975.1,1000.8 975.8,1000.6 976.5,1000.5 977.2,1002.1 977.9,1002.4 978.6,999.5 979.3,997.4 979.9,996.8 980.6,992.1 981.3,992.6 982.0,993.3 982.6,991.4 983.3,985.8 984.0,988.6 984.6,984.4 985.3,986.2 986.0,984.5 986.6,985.4 987.3,989.0 987.9,992.7 988.6,991.9 989.2,996.1 989.9,997.0 990.5,996.8 991.2,998.2 991.9,999.5 992.5,999.1 993.2,999.2 993.8,1000.9 994.5,1002.4 995.1,1001.0 995.8,998.7 996.5,999.3 997.1,1000.4 997.8,1001.9 998.4,999.5 999.1,999.4 999.7,1000.9 1000.4,1000.9 1001.0,999.7 1001.7,1002.7 1002.4,1005.0 1003.1,1002.9 1003.8,1004.2 1004.5,1004.8 1005.2,1005.0 1005.9,1005.5 1006.6,1003.0 1007.3,1004.4 1008.0,1001.4 1008.7,1005.8 1009.4,1003.1 1010.1,1003.7 1010.8,1006.2 1011.4,1002.9 1012.1,1002.5 1012.8,1006.1 1013.5,1005.0 1014.2,1002.2 1014.9,1002.0 1015.6,1004.0 1016.3,1002.2 1017.0,1006.9 1017.7,1003.4 1018.4,1004.0 1019.1,1004.7 1019.8,1005.6 1020.5,1005.2 1021.2,1005.9 1021.9,1005.6 1022.6,1003.9 1023.3,1001.6 1024.0,1006.1 1024.7,1004.0 1025.3,1000.1 1026.0,1001.7 1026.7,1003.0 1027.4,1003.9 1028.1,998.3 1028.8,997.5 1029.5,999.7 1030.2,997.7 1030.8,998.7 1031.5,996.7 1032.1,992.3 1032.8,991.1 1033.4,990.4 1034.1,990.4 1034.7,985.0 1035.4,984.4 1036.1,984.5 1036.7,989.3 1037.4,987.7 1038.1,994.5 1038.7,994.0 1039.4,996.1 1040.1,995.1 1040.7,997.7 1041.4,1000.8 1042.1,1003.1 1042.8,1001.4 1043.5,1000.0 1044.2,1004.0 1044.9,1002.3 1045.6,1001.6 1046.3,999.8 1047.0,1000.4 1047.6,1003.9 1048.3,999.7 1049.0,1002.0 1049.7,1002.5 1050.4,1001.1 1051.1,1003.5 1051.8,1004.4 1052.5,1004.1 1053.2,1003.5 1053.9,998.3 1054.5,995.2 1055.2,995.1 1055.8,992.2 1056.5,989.3 1057.1,990.8 1057.8,984.9 1058.4,986.1 1059.1,984.5 1059.8,974.9 1060.5,974.4 1061.2,966.6 1061.8,960.6 1062.5,955.6 1063.2,949.8 1063.9,947.4 1064.6,941.9 1065.3,949.1 1065.9,953.6 1066.6,953.9 1067.3,960.4 1067.9,965.0 1068.6,968.4 1069.3,972.3 1070.0,976.0 1070.7,981.9 1071.3,983.5 1072.0,985.7 1072.7,989.9 1073.4,994.7 1074.1,995.8 1074.7,994.5 1075.4,997.5 1076.1,995.2 1076.7,998.2 1077.4,998.3 1078.0,996.3 1078.7,1000.0 1079.4,998.5 1080.0,999.7 1080.7,1000.5 1081.3,1001.1 1082.0,1000.5 1082.7,998.8 1083.3,1003.4 1084.0,1004.2 1084.7,1002.2 1085.4,1002.8 1086.1,1001.2 1086.8,1004.8 1087.5,1003.7 1088.2,1001.2 1088.9,1004.7 1089.6,1005.7 1090.3,1002.2 1091.0,1006.0 1091.7,1003.2 1092.3,1001.6 1093.0,1004.7 1093.7,1002.7 1094.4,1005.0 1095.1,1004.3 1095.8,1001.7 1096.5,1004.2 1097.2,1006.1 1097.9,1004.1 1098.6,1004.5 1099.3,1006.4 1100.0,1004.2 1100.7,1004.6 1101.4,1004.0 1102.0,1004.2 1102.7,999.6 1103.3,997.9 1104.0,1000.6 1104.7,998.3 1105.3,995.8 1106.0,998.0 1106.7,996.9 1107.3,993.8 1108.0,995.2 1108.7,993.3 1109.3,991.7 1110.0,988.0 1110.6,985.4 1111.3,988.0 1112.0,989.9 1112.7,989.3 1113.4,991.6 1114.1,993.6 1114.8,993.4 1115.4,997.5 1116.1,998.3 1116.8,998.8 1117.5,998.8 1118.2,1002.9 1118.9,1003.1 1119.6,1007.0 1120.3,1003.6 1120.9,1004.6 1121.6,1003.2 1122.2,1004.1 1122.9,1004.8 1123.6,1001.9 1124.2,1001.4 1124.9,1003.5 1125.5,1001.7 1126.2,1003.1 1126.9,1001.0 1127.5,1000.3 1128.2,1002.5 1128.9,1004.4 1129.5,1003.8 1130.2,1001.6 1130.8,1000.7 1131.5,998.6 1132.1,996.8 1132.8,994.1 1133.4,994.6 1134.1,987.0 1134.7,988.7 1135.4,983.1 1136.0,979.9 1136.7,976.0 1137.3,977.0 1138.0,969.7 1138.6,968.9 1139.3,971.9 1139.9,973.5 1140.6,977.0 1141.3,984.6 1141.9,986.9 1142.6,989.9 1143.3,994.2 1143.9,993.0 1144.6,999.7 1145.3,1000.7 1146.0,998.4 1146.7,1000.4 1147.4,1004.0 1148.1,1001.1 1148.8,1004.2 1149.4,1001.6 1150.1,1005.1 1150.8,1003.5 1151.5,1005.6 1152.2,1005.5 1152.9,1009.0 1153.6,1008.3 1154.3,1007.0 1155.0,1008.1 1155.6,1006.6 1156.3,1008.8 1157.0,1005.8 1157.7,1007.4 1158.4,1007.7 1159.1,1006.6 1159.8,1004.7 1160.5,1005.5 1161.1,1008.2 1161.8,1005.8 1162.5,1008.9 1163.2,1007.5 1163.9,1010.1 1164.6,1009.5 1165.3,1008.9 1166.0,1006.9 1166.6,1005.1 1167.3,1008.0 1168.0,1009.1 1168.7,1010.1 1169.4,1006.2 1170.1,1006.0 1170.8,1010.6 1171.5,1009.3 1172.1,1007.9 1172.8,1009.4 1173.5,1006.1 1174.2,1008.3 1174.9,1007.9 1175.6,1006.3 1176.3,1002.7 1177.0,1001.3 1177.7,1002.9 1178.3,1003.2 1179.0,997.8 1179.7,995.9 1180.4,995.1 1181.1,997.9 1181.8,994.5 1182.5,993.7 1183.2,998.1 1183.8,997.4 1184.5,996.9 1185.1,1000.8 1185.8,998.3 1186.4,1001.3 1187.1,1005.1 1187.7,1003.6 1188.4,1004.3 1189.1,1006.9 1189.8,1005.7 1190.5,1009.3 1191.2,1004.3 1191.9,1008.1 1192.6,1005.7 1193.2,1007.9 1193.9,1005.8 1194.6,1007.0 1195.3,1005.0 1196.0,1004.3 1196.7,1005.5 1197.4,1007.3 1198.1,1004.7 1198.8,1003.9 1199.5,1004.9 1200.2,1003.0 1200.8,1004.1 1201.5,1005.5 1202.2,1005.2 1202.9,1005.4 1203.6,1003.6 1204.3,1002.0 1205.0,1001.9 1205.7,1001.6 1206.3,998.7 1207.0,998.7 1207.7,994.9 1208.3,995.5 1209.0,992.5 1209.7,990.8 1210.3,989.1 1211.0,985.8 1211.7,983.1 1212.3,980.4 1213.0,976.9 1213.7,978.9 1214.3,975.1 1215.0,970.8 1215.7,978.4 1216.3,979.5 1217.0,982.8 1217.7,984.8 1218.3,986.1 1219.0,994.0 1219.7,992.4 1220.4,996.6 1221.0,1003.2 1221.7,1001.3 1222.4,1003.7 1223.1,1004.0 1223.8,1003.0 1224.5,1007.2 1225.2,1004.7 1225.9,1002.7 1226.6,1005.7 1227.3,1003.4 1227.9,1007.7 1228.6,1008.9 1229.3,1009.5 1230.0,1005.0 1230.7,1008.9 1231.4,1007.2 1232.1,1008.5 1232.8,1007.8 1233.5,1008.2 1234.2,1006.8 1234.9,1009.2 1235.5,1005.8 1236.2,1010.3 1236.9,1004.8 1237.6,1009.5 1238.3,1004.8 1238.9,1003.8 1239.6,1007.1 1240.3,1005.5 1241.0,1006.5 1241.7,1004.6 1242.4,1004.9 1243.0,1001.4 1243.7,1004.3 1244.4,1003.0 1245.1,1005.2 1245.8,999.4 1246.4,999.4 1247.1,1002.4 1247.8,1003.4 1248.5,1001.2 1249.1,1003.4 1249.8,1003.1 1250.5,1002.8 1251.2,1003.8 1251.8,1005.1 1252.5,1002.5 1253.2,1004.7 1253.8,1007.7 1254.5,1005.6 1255.2,1007.4 1255.9,1006.8 1256.5,1007.9 1257.2,1010.1 1257.9,1010.2 1258.6,1011.0 1259.2,1007.9 1259.9,1005.9 1260.6,1006.3 1261.3,1004.3 1262.0,1004.9 1262.6,1006.4 1263.3,1006.1 1264.0,1003.6 1264.7,1002.9 1265.3,1002.0 1266.0,1002.0 1266.7,1003.4 1267.4,999.2 1268.0,999.9 1268.7,995.3 1269.4,991.2 1270.0,988.9 1270.7,983.9 1271.4,984.9 1272.0,982.2 1272.7,977.2 1273.3,981.8 1274.0,981.8 1274.6,984.0 1275.3,986.6 1275.9,988.9 1276.6,993.7 1277.2,996.4 1277.9,999.4 1278.5,998.4 1279.2,1004.7 1279.8,1005.6 1280.5,1005.3 1281.2,1006.2 1281.9,1006.1 1282.5,1005.0 1283.2,1006.4 1283.9,1008.0 1284.6,1008.7 1285.3,1010.0 1286.0,1006.3 1286.6,1010.4 1287.3,1010.2 1288.0,1009.9 1288.7,1011.7 1289.4,1007.2 1290.1,1011.0 1290.7,1012.0 1291.4,1007.9 1292.1,1010.8 1292.8,1013.0 1293.5,1009.3 1294.2,1012.4 1294.9,1012.7 1295.5,1010.0 1296.2,1008.4 1296.9,1008.7 1297.6,1012.2 1298.3,1009.9 1299.0,1009.2 1299.7,1009.9 1300.4,1012.6 1301.0,1008.8 1301.7,1007.5 1302.4,1012.6 1303.1,1009.1 1303.8,1009.4 1304.5,1012.7 1305.2,1008.8 1305.8,1007.7 1306.5,1012.1 1307.2,1008.5 1307.9,1008.4 1308.6,1012.3 1309.3,1008.3 1310.0,1012.1 1310.7,1008.9 1311.3,1008.7 1312.0,1008.2 1312.7,1010.0 1313.4,1010.0 1314.1,1009.1 1314.8,1009.7 1315.5,1008.5 1316.1,1011.5 1316.8,1012.0 1317.5,1011.0 1318.2,1011.3 1318.9,1007.1 1319.6,1008.1 1320.3,1007.8 1321.0,1007.5 1321.6,1012.0 1322.3,1011.6 1323.0,1011.6 1323.7,1009.6 1324.4,1006.0 1325.0,1006.6 1325.7,1003.4 1326.4,1007.0 1327.0,1002.3 1327.7,1001.3 1328.4,1003.8 1329.1,998.5 1329.7,1001.4 1330.4,996.8 1331.1,997.6 1331.7,993.4 1332.4,996.7 1333.1,992.7 1333.7,991.3 1334.4,991.9 1335.1,992.9 1335.8,992.5 1336.5,993.2 1337.2,997.1 1337.9,995.5 1338.6,1001.6 1339.2,1000.1 1339.9,1000.5 1340.6,1002.9 1341.3,1003.1 1342.0,1005.6 1342.7,1008.3 1343.4,1007.8 1344.0,1007.7 1344.7,1007.7 1345.4,1009.1 1346.1,1010.9 1346.7,1009.3 1347.4,1011.4 1348.1,1010.1 1348.7,1008.3 1349.4,1008.8 1350.1,1012.9 1350.8,1011.1 1351.4,1010.8 1352.1,1011.8" fill="none" stroke="#0066FF" stroke-width="5" stroke-linejoin="round" stroke-linecap="round"/>
<polyline points="178.8,1263.4 178.8,1287.7 179.5,1289.4 180.2,1290.0 181.0,1290.9 181.7,1292.7 182.4,1292.2 183.1,1290.4 183.7,1288.8 184.4,1286.1 185.1,1285.2 185.8,1285.8 186.6,1286.7 187.3,1287.7 188.1,1295.4 188.8,1304.2 189.6,1311.5 190.3,1313.3 191.1,1315.1 191.8,1315.8 192.5,1317.9 193.3,1320.4 194.0,1322.5 194.8,1323.6 195.5,1324.6 196.2,1323.9 197.0,1325.9 197.8,1327.0 198.5,1327.6 199.2,1327.8 200.0,1329.3 200.8,1329.5 201.5,1332.1 202.2,1332.9 203.0,1333.2 203.8,1333.4 204.5,1335.3 205.3,1335.3 206.1,1336.6 206.8,1337.2 207.6,1337.2 208.4,1337.7 209.2,1338.8 209.9,1339.1 210.7,1339.3 211.5,1340.2 212.2,1341.9 213.0,1341.1 213.8,1339.8 214.6,1339.7 215.4,1337.7 216.2,1337.0 217.0,1335.6 217.8,1334.1 218.6,1334.1 219.3,1329.9 220.1,1327.7 220.8,1324.7 221.5,1323.0 222.3,1319.7 223.0,1317.2 223.7,1310.4 224.3,1302.0 225.0,1295.0 225.7,1288.1 226.4,1294.6 227.1,1302.6 227.9,1311.1 228.6,1320.2 229.4,1326.3 230.1,1331.8 230.9,1338.4 231.6,1337.1 232.4,1336.8 233.1,1335.0 233.8,1335.4 234.6,1334.8 235.3,1334.0 236.0,1328.2 236.7,1323.3 237.3,1316.1 238.0,1311.2 238.7,1307.2 239.4,1293.5 240.0,1279.3 240.7,1267.0 241.3,1252.9 242.0,1239.9 242.8,1215.8 243.5,1192.5 244.3,1169.9 245.0,1192.4 245.8,1216.0 246.5,1240.2 247.1,1263.6 247.6,1287.5 248.3,1283.1 249.0,1278.9 249.6,1275.6 250.3,1270.3 251.0,1265.7 251.7,1278.7 252.5,1293.9 253.2,1306.1 253.9,1325.8 254.7,1345.6 255.4,1365.7 256.2,1366.4 257.0,1367.9 257.8,1367.4 258.6,1367.6 259.4,1369.0 260.2,1369.0 261.0,1371.0 261.8,1368.3 262.5,1368.2 263.2,1367.7 264.0,1366.1 264.8,1366.3 265.5,1364.4 266.3,1360.3 267.1,1357.1 267.9,1352.7 268.7,1349.9 269.5,1346.0 270.3,1352.2 271.0,1357.0 271.8,1361.2 272.5,1365.2 273.3,1370.5 274.1,1370.8 274.9,1371.1 275.7,1371.4 276.5,1373.1 277.3,1371.9 278.1,1372.1 278.9,1374.2 279.6,1371.6 280.4,1370.6 281.1,1367.6 281.9,1366.7 282.6,1364.4 283.4,1362.8 284.1,1365.3 284.7,1367.5 285.4,1369.4 286.0,1372.3 286.7,1376.2 287.4,1377.1 288.1,1378.0 288.8,1377.7 289.5,1379.2 290.2,1380.3 290.9,1380.8 291.6,1382.0 292.3,1382.3 293.0,1381.8 293.8,1381.1 294.5,1379.5 295.3,1380.1 296.0,1379.4 296.8,1376.9 297.5,1377.9 298.3,1377.2 299.0,1375.8 299.7,1373.8 300.4,1374.6 301.1,1372.2 301.8,1373.1 302.5,1371.6 303.2,1369.6 303.9,1369.0 304.6,1369.1 305.3,1370.3 306.1,1371.9 306.8,1373.6 307.5,1373.5 308.3,1374.4 309.0,1377.5 309.7,1371.4 310.5,1368.8 311.2,1363.0 312.0,1360.1 312.7,1355.7 313.5,1351.6 314.2,1346.6 314.9,1352.7 315.6,1356.8 316.3,1363.1 317.0,1367.9 317.7,1374.4 318.4,1379.6 319.1,1384.4 319.8,1384.3 320.6,1383.0 321.3,1382.8 322.1,1383.7 322.8,1383.2 323.6,1383.7 324.3,1382.9 325.1,1381.7 325.8,1381.9 326.6,1380.2 327.4,1377.2 328.2,1373.6 329.0,1372.7 329.8,1370.1 330.6,1366.1 331.4,1364.5 332.1,1367.1 332.9,1370.9 333.6,1372.9 334.3,1375.7 335.1,1379.2 335.8,1383.1 336.6,1380.1 337.4,1378.9 338.2,1378.6 339.0,1377.9 339.8,1375.9 340.6,1374.4 341.4,1374.0 342.1,1376.1 342.9,1376.9 343.6,1380.8 344.4,1381.6 345.1,1384.1 345.9,1387.4 346.6,1386.7 347.4,1387.7 348.1,1386.6 348.9,1388.2 349.6,1387.0 350.4,1387.1 351.1,1388.0 351.8,1387.8 352.6,1388.4 353.3,1389.3 354.1,1389.1 354.8,1387.9 355.5,1388.3 356.3,1388.5 357.0,1388.1 357.8,1388.4 358.5,1387.6 359.3,1386.6 360.0,1386.7 360.8,1387.6 361.5,1386.4 362.2,1386.4 362.9,1386.0 363.6,1384.4 364.3,1383.7 365.0,1382.7 365.7,1381.3 366.4,1381.7 367.1,1379.9 367.9,1382.4 368.7,1382.8 369.5,1385.5 370.3,1387.0 371.1,1388.2 371.9,1389.5 372.7,1390.5 373.4,1391.4 374.2,1390.2 374.9,1390.4 375.7,1389.0 376.4,1388.5 377.1,1388.2 377.9,1389.2 378.6,1387.6 379.4,1388.6 380.1,1387.2 380.9,1387.2 381.6,1386.4 382.3,1387.3 383.1,1386.6 383.8,1387.6 384.6,1389.1 385.3,1387.9 386.1,1389.3 386.8,1389.0 387.5,1389.3 388.3,1389.1 389.0,1389.5 389.8,1391.7 390.5,1391.9 391.3,1391.4 392.1,1390.9 392.9,1390.8 393.7,1388.7 394.4,1389.1 395.2,1388.5 396.0,1388.2 396.8,1388.5 397.6,1387.7 398.4,1387.6 399.2,1386.5 400.0,1388.1 400.7,1388.7 401.5,1389.4 402.3,1389.7 403.1,1390.7 403.9,1390.2 404.6,1392.0 405.4,1391.6 406.2,1392.5 407.0,1392.9 407.8,1392.2 408.6,1391.2 409.4,1390.8 410.2,1390.8 411.0,1391.1 411.8,1391.6 412.5,1391.2 413.3,1390.0 414.1,1389.7 414.9,1390.3 415.7,1389.0 416.5,1389.1 417.3,1388.0 418.1,1387.8 418.8,1387.9 419.6,1387.7 420.3,1387.0 421.1,1385.9 421.8,1386.5 422.6,1385.3 423.3,1383.8 424.1,1383.0 424.8,1384.3 425.6,1383.7 426.3,1383.0 427.0,1380.9 427.8,1378.9 428.5,1376.9 429.2,1375.8 430.0,1374.2 430.7,1374.2 431.4,1370.9 432.2,1367.4 432.9,1362.9 433.7,1359.9 434.4,1356.8 435.2,1354.9 435.9,1350.1 436.7,1348.1 437.4,1344.7 438.1,1348.5 438.9,1353.4 439.6,1356.1 440.4,1360.7 441.1,1364.0 441.9,1368.0 442.6,1368.7 443.3,1370.1 444.0,1370.6 444.7,1371.3 445.4,1374.0 446.1,1373.4 446.8,1375.4 447.5,1375.9 448.2,1370.1 448.9,1364.1 449.6,1358.8 450.3,1352.8 451.0,1346.6 451.7,1340.4 452.4,1334.9 453.1,1329.0 453.8,1328.0 454.6,1327.1 455.3,1325.7 456.1,1321.3 456.8,1314.7 457.6,1308.1 458.3,1302.5 459.1,1298.1 459.8,1291.0 460.5,1300.9 461.1,1311.2 461.8,1321.2 462.4,1329.8 463.1,1339.6 463.8,1349.0 464.5,1357.6 465.1,1368.7 465.8,1376.4 466.5,1387.6 467.2,1386.5 468.0,1387.0 468.7,1388.9 469.5,1389.3 470.2,1388.7 471.0,1389.8 471.7,1390.2 472.5,1391.1 473.2,1390.6 474.0,1391.9 474.8,1392.2 475.6,1391.6 476.3,1392.0 477.1,1392.1 477.9,1391.0 478.7,1391.9 479.5,1391.9 480.3,1391.4 481.1,1390.4 481.9,1391.4 482.6,1392.0 483.4,1390.8 484.2,1391.5 485.0,1392.0 485.7,1391.4 486.5,1390.3 487.2,1391.6 488.0,1390.8 488.7,1392.1 489.4,1391.7 490.2,1391.0 490.9,1392.2 491.6,1391.7 492.4,1391.2 493.1,1392.2 493.9,1392.4 494.6,1392.4 495.3,1391.6 496.1,1390.4 496.8,1389.8 497.6,1388.8 498.3,1387.9 499.1,1388.1 499.8,1386.1 500.6,1384.8 501.3,1385.3 502.1,1384.2 502.9,1383.6 503.6,1383.0 504.4,1381.6 505.2,1380.8 505.9,1379.8 506.7,1380.6 507.5,1380.1 508.2,1381.6 508.9,1382.4 509.6,1386.0 510.3,1387.6 511.0,1388.9 511.7,1389.8 512.4,1393.4 513.2,1393.1 514.0,1393.2 514.8,1392.1 515.6,1393.7 516.3,1392.4 517.1,1393.4 517.9,1392.9 518.7,1393.5 519.5,1394.6 520.3,1394.5 521.1,1394.8 521.9,1393.8 522.6,1394.2 523.4,1394.7 524.2,1393.7 525.0,1394.6 525.8,1395.8 526.5,1395.0 527.3,1394.9 528.0,1393.4 528.8,1393.8 529.5,1393.6 530.3,1393.1 531.0,1392.2 531.8,1391.3 532.5,1390.6 533.3,1391.9 534.0,1391.7 534.8,1390.0 535.5,1390.6 536.3,1389.5 537.0,1389.6 537.7,1388.6 538.4,1386.1 539.1,1385.3 539.8,1383.1 540.5,1382.2 541.2,1379.8 541.9,1378.8 542.6,1379.8 543.4,1382.0 544.1,1381.4 544.8,1383.6 545.5,1383.3 546.3,1386.0 547.0,1385.3 547.7,1386.1 548.4,1387.2 549.0,1389.5 549.7,1389.9 550.4,1391.2 551.1,1389.3 551.9,1387.4 552.6,1386.7 553.4,1385.8 554.1,1385.8 554.9,1383.0 555.6,1382.2 556.3,1382.5 557.0,1380.1 557.7,1380.8 558.4,1378.5 559.1,1378.1 559.8,1377.3 560.5,1380.1 561.3,1380.6 562.0,1384.4 562.7,1385.3 563.4,1388.7 564.2,1389.5 564.9,1393.2 565.6,1391.3 566.4,1390.6 567.1,1389.5 567.9,1389.4 568.6,1388.6 569.4,1389.2 570.1,1387.7 570.9,1386.5 571.6,1387.0 572.3,1386.0 573.0,1386.7 573.6,1388.9 574.3,1389.5 575.0,1389.7 575.7,1389.3 576.4,1386.5 577.1,1387.2 577.8,1385.9 578.5,1384.9 579.2,1384.2 579.9,1381.8 580.7,1383.4 581.5,1384.7 582.2,1386.8 583.0,1388.3 583.8,1389.7 584.5,1390.7 585.3,1392.9 586.1,1394.5 586.9,1394.4 587.7,1393.1 588.4,1393.4 589.2,1393.6 590.0,1393.8 590.8,1394.5 591.5,1393.9 592.3,1394.8 593.1,1394.3 593.9,1394.5 594.7,1395.3 595.4,1395.8 596.2,1394.4 597.0,1394.8 597.8,1396.2 598.6,1394.8 599.3,1394.5 600.1,1394.9 600.9,1396.3 601.7,1396.2 602.4,1396.7 603.2,1395.9 604.0,1395.1 604.8,1395.6 605.6,1396.4 606.4,1395.8 607.2,1395.3 608.0,1395.8 608.8,1395.9 609.6,1395.7 610.4,1395.9 611.2,1395.3 612.0,1395.1 612.8,1396.6 613.6,1396.5 614.4,1395.8 615.1,1395.2 615.9,1395.6 616.7,1396.1 617.5,1396.8 618.3,1396.0 619.1,1396.9 619.9,1396.1 620.7,1395.4 621.5,1396.2 622.3,1396.2 623.1,1396.2 623.9,1396.4 624.7,1395.0 625.5,1395.9 626.3,1396.6 627.1,1395.1 627.9,1394.8 628.6,1394.9 629.4,1395.0 630.2,1395.2 631.0,1394.8 631.7,1395.3 632.5,1394.2 633.3,1394.4 634.1,1394.9 634.9,1394.5 635.6,1395.2 636.4,1395.0 637.2,1393.5 638.0,1393.5 638.8,1393.8 639.5,1393.6 640.3,1393.1 641.1,1394.0 641.9,1392.5 642.6,1392.9 643.4,1392.1 644.2,1393.5 645.0,1392.7 645.7,1393.4 646.5,1391.5 647.3,1392.5 648.1,1392.2 648.8,1390.9 649.6,1392.3 650.4,1392.3 651.2,1390.5 651.9,1392.1 652.7,1391.6 653.5,1391.1 654.3,1390.9 655.0,1390.2 655.8,1389.6 656.6,1390.3 657.4,1390.9 658.1,1389.5 658.9,1389.8 659.7,1389.3 660.5,1390.0 661.2,1390.4 662.0,1390.1 662.8,1386.6 663.5,1384.7 664.2,1381.6 665.0,1380.4 665.8,1378.8 666.5,1376.6 667.3,1373.0 668.0,1371.8 668.8,1369.1 669.5,1367.7 670.3,1366.7 671.0,1367.9 671.8,1371.4 672.5,1374.0 673.2,1376.1 673.9,1377.2 674.7,1381.1 675.4,1383.4 676.1,1383.6 676.9,1381.6 677.6,1381.6 678.4,1382.2 679.1,1382.6 679.9,1382.4 680.6,1381.8 681.4,1382.9 682.1,1382.9 682.9,1383.4 683.6,1383.8 684.4,1384.4 685.1,1385.2 685.9,1384.6 686.6,1385.9 687.4,1383.6 688.2,1381.9 689.0,1381.5 689.8,1378.9 690.5,1377.3 691.3,1375.5 692.1,1374.4 692.9,1371.8 693.6,1374.3 694.3,1374.6 695.0,1377.8 695.7,1377.6 696.4,1380.3 697.1,1381.3 697.8,1382.4 698.5,1381.0 699.2,1379.8 699.9,1379.4 700.6,1377.6 701.3,1376.4 702.0,1374.6 702.7,1374.1 703.4,1371.9 704.1,1373.2 704.7,1374.2 705.4,1374.7 706.0,1375.4 706.7,1376.0 707.5,1373.5 708.3,1373.3 709.1,1370.9 709.9,1369.2 710.7,1367.9 711.4,1370.1 712.1,1373.0 712.8,1376.2 713.5,1379.4 714.2,1382.5 714.9,1385.7 715.6,1388.7 716.4,1389.1 717.2,1388.6 718.0,1388.5 718.7,1389.0 719.5,1388.1 720.3,1389.0 721.1,1388.7 721.9,1387.6 722.7,1388.5 723.5,1387.0 724.2,1386.7 725.0,1388.3 725.8,1386.2 726.6,1386.0 727.4,1387.6 728.2,1385.7 728.9,1386.8 729.7,1386.4 730.5,1385.6 731.3,1385.5 732.0,1384.3 732.7,1380.5 733.4,1377.5 734.1,1375.3 734.8,1373.2 735.5,1369.7 736.2,1366.6 736.9,1365.4 737.6,1361.1 738.2,1358.2 738.9,1355.2 739.5,1354.3 740.2,1350.4 741.0,1356.3 741.7,1361.3 742.5,1367.5 743.2,1371.6 744.0,1376.9 744.7,1383.0 745.4,1382.1 746.2,1383.3 746.9,1384.6 747.7,1384.7 748.4,1385.1 749.2,1386.5 749.9,1386.0 750.7,1387.1 751.4,1386.9 752.2,1386.5 753.0,1387.3 753.7,1387.2 754.5,1387.1 755.3,1387.8 756.1,1387.7 756.9,1388.6 757.6,1389.4 758.4,1389.6 759.2,1390.1 760.0,1389.2 760.8,1390.1 761.5,1390.8 762.3,1390.0 763.1,1391.3 763.9,1389.9 764.7,1391.8 765.4,1391.9 766.2,1392.3 767.0,1392.3 767.8,1392.1 768.5,1391.6 769.3,1392.2 770.1,1392.6 770.8,1392.1 771.6,1392.2 772.4,1392.9 773.1,1391.7 773.9,1391.9 774.6,1391.3 775.4,1393.1 776.2,1392.6 776.9,1392.8 777.7,1392.0 778.5,1391.9 779.2,1392.6 780.0,1393.5 780.8,1392.4 781.6,1392.5 782.4,1392.5 783.2,1393.4 783.9,1391.9 784.7,1393.4 785.5,1391.7 786.3,1393.1 787.1,1393.2 787.9,1392.6 788.7,1393.2 789.5,1392.3 790.2,1392.0 791.0,1392.4 791.8,1392.2 792.6,1393.1 793.4,1392.8 794.2,1393.0 795.0,1393.7 795.8,1393.2 796.6,1393.3 797.3,1393.6 798.1,1393.6 798.9,1393.2 799.7,1392.4 800.5,1392.7 801.3,1393.2 802.1,1393.3 802.9,1393.5 803.6,1393.2 804.4,1393.0 805.2,1392.2 806.0,1392.9 806.8,1392.1 807.6,1392.3 808.4,1390.7 809.1,1389.7 809.9,1390.9 810.7,1390.1 811.5,1388.3 812.3,1387.1 813.0,1388.0 813.8,1387.2 814.6,1385.3 815.3,1387.3 816.0,1388.1 816.7,1388.2 817.4,1388.3 818.1,1388.6 818.8,1389.3 819.5,1390.8 820.2,1392.0 821.0,1391.1 821.8,1389.4 822.6,1389.8 823.4,1387.5 824.2,1387.8 825.0,1386.1 825.8,1385.0 826.6,1384.6 827.4,1385.0 828.2,1383.0 829.0,1381.8 829.8,1382.0 830.6,1380.9 831.4,1380.5 832.1,1381.3 832.9,1382.3 833.6,1383.5 834.4,1383.1 835.1,1384.4 835.9,1384.1 836.6,1385.1 837.4,1385.5 838.1,1387.8 838.8,1386.8 839.6,1387.5 840.3,1387.9 841.1,1386.9 841.8,1386.5 842.5,1386.6 843.3,1387.1 844.0,1386.9 844.8,1386.2 845.5,1387.8 846.3,1387.4 847.0,1387.8 847.7,1386.9 848.5,1385.8 849.2,1385.1 850.0,1384.0 850.7,1382.6 851.5,1382.5 852.2,1381.9 853.0,1379.4 853.7,1378.6 854.5,1377.6 855.2,1377.2 856.0,1377.0 856.8,1375.3 857.6,1374.9 858.3,1372.9 859.1,1372.3 859.9,1370.6 860.7,1370.4 861.4,1368.7 862.2,1367.1 863.0,1370.1 863.8,1372.7 864.6,1375.6 865.4,1376.6 866.1,1380.1 866.9,1382.1 867.7,1383.0 868.5,1386.5 869.3,1389.1 870.1,1388.5 870.9,1387.4 871.6,1386.2 872.4,1385.9 873.2,1385.5 874.0,1384.8 874.7,1383.4 875.5,1384.2 876.3,1382.9 877.1,1381.3 877.8,1381.2 878.6,1380.2 879.4,1380.3 880.2,1380.3 881.0,1381.8 881.7,1382.0 882.5,1383.7 883.3,1384.3 884.1,1383.8 884.9,1385.7 885.6,1385.9 886.4,1386.0 887.2,1387.9 887.9,1386.6 888.7,1387.8 889.4,1388.7 890.2,1388.3 890.9,1389.4 891.7,1390.7 892.4,1390.1 893.1,1391.3 893.9,1390.7 894.6,1392.7 895.4,1393.2 896.1,1392.0 896.9,1393.4 897.7,1392.6 898.5,1392.2 899.3,1392.6 900.0,1393.8 900.8,1393.4 901.6,1393.7 902.4,1393.0 903.2,1393.2 904.0,1393.7 904.8,1394.2 905.6,1394.9 906.3,1394.3 907.1,1394.2 907.9,1395.5 908.7,1395.2 909.5,1395.4 910.2,1395.1 911.0,1394.1 911.7,1393.3 912.5,1392.6 913.2,1393.3 914.0,1393.2 914.7,1393.1 915.5,1392.8 916.2,1391.5 917.0,1391.1 917.7,1391.7 918.5,1389.6 919.2,1389.8 920.0,1389.8 920.7,1389.5 921.5,1389.7 922.3,1389.1 923.0,1390.0 923.8,1389.6 924.6,1390.2 925.4,1390.0 926.2,1390.5 926.9,1391.4 927.7,1391.1 928.5,1390.9 929.3,1391.7 930.1,1392.3 930.8,1391.8 931.6,1392.0 932.4,1392.5 933.2,1393.3 934.0,1392.2 934.7,1393.7 935.5,1392.7 936.3,1394.6 937.1,1393.0 937.9,1394.0 938.7,1392.3 939.5,1393.0 940.2,1392.3 941.0,1393.2 941.8,1392.9 942.6,1391.5 943.4,1391.1 944.2,1392.3 945.0,1391.4 945.8,1391.1 946.5,1390.9 947.3,1390.7 948.1,1391.0 948.9,1390.4 949.7,1389.7 950.5,1390.0 951.3,1390.7 952.1,1390.0 952.9,1389.6 953.7,1389.7 954.5,1388.4 955.3,1387.9 956.1,1388.5 956.9,1386.8 957.7,1387.8 958.5,1386.2 959.3,1386.9 960.1,1386.3 960.9,1386.5 961.7,1384.4 962.5,1384.9 963.3,1384.5 964.1,1382.2 964.9,1382.8 965.7,1381.2 966.5,1381.4 967.2,1381.2 968.0,1378.5 968.8,1378.6 969.6,1378.1 970.4,1378.3 971.2,1377.5 972.0,1375.0 972.7,1376.6 973.4,1378.5 974.1,1380.7 974.8,1382.1 975.5,1383.0 976.2,1385.1 976.9,1386.3 977.6,1387.9 978.4,1385.8 979.1,1383.6 979.9,1383.0 980.6,1381.4 981.4,1380.3 982.1,1377.3 982.9,1375.5 983.6,1374.6 984.4,1372.9 985.1,1371.6 985.9,1369.4 986.7,1372.9 987.5,1374.9 988.2,1377.0 989.0,1379.0 989.8,1382.3 990.5,1383.7 991.3,1387.6 992.1,1388.9 992.9,1390.3 993.7,1388.9 994.5,1389.6 995.3,1390.5 996.1,1390.2 996.9,1390.2 997.7,1391.2 998.5,1389.9 999.3,1391.5 1000.1,1391.0 1000.9,1390.7 1001.7,1391.0 1002.5,1391.0 1003.3,1391.9 1004.1,1390.7 1004.9,1390.1 1005.6,1389.5 1006.4,1389.2 1007.2,1388.0 1008.0,1386.5 1008.8,1386.4 1009.5,1385.7 1010.3,1385.3 1011.1,1383.5 1011.8,1385.0 1012.5,1386.7 1013.2,1387.2 1013.9,1388.4 1014.6,1390.3 1015.3,1391.0 1016.0,1393.2 1016.7,1393.5 1017.4,1393.1 1018.2,1393.7 1018.9,1393.4 1019.7,1394.0 1020.4,1393.8 1021.1,1392.5 1021.9,1392.4 1022.6,1392.6 1023.4,1392.2 1024.1,1392.1 1024.9,1391.6 1025.6,1392.3 1026.3,1392.8 1027.1,1392.9 1027.8,1393.2 1028.6,1393.8 1029.3,1392.9 1030.1,1394.7 1030.8,1393.6 1031.6,1393.7 1032.3,1394.9 1033.1,1394.6 1033.8,1395.1 1034.6,1396.2 1035.3,1394.7 1036.1,1394.7 1036.8,1394.1 1037.6,1394.7 1038.3,1392.4 1039.0,1392.7 1039.8,1392.0 1040.5,1390.9 1041.3,1390.7 1042.0,1390.1 1042.8,1389.6 1043.5,1389.4 1044.3,1389.8 1045.1,1390.0 1045.9,1390.4 1046.7,1391.1 1047.4,1391.2 1048.2,1390.9 1049.0,1392.4 1049.8,1392.3 1050.6,1393.6 1051.4,1392.5 1052.2,1393.7 1053.0,1393.6 1053.7,1394.7 1054.5,1395.5 1055.3,1395.5 1056.1,1395.7 1056.9,1396.9 1057.7,1395.4 1058.5,1396.9 1059.3,1395.7 1060.1,1396.0 1060.8,1394.9 1061.6,1394.7 1062.4,1394.9 1063.2,1395.6 1064.0,1394.9 1064.8,1395.9 1065.6,1394.6 1066.4,1395.5 1067.1,1396.0 1067.9,1395.5 1068.7,1395.9 1069.5,1395.6 1070.3,1395.6 1071.1,1393.9 1071.9,1394.8 1072.7,1394.3 1073.5,1394.5 1074.2,1395.0 1075.0,1395.0 1075.8,1393.9 1076.6,1393.7 1077.4,1393.5 1078.2,1394.7 1079.0,1394.8 1079.8,1393.3 1080.5,1393.3 1081.3,1393.3 1082.1,1394.9 1082.9,1393.0 1083.7,1394.0 1084.5,1394.8 1085.3,1393.6 1086.0,1394.8 1086.8,1394.3 1087.6,1395.1 1088.4,1395.0 1089.2,1394.5 1090.0,1396.2 1090.7,1395.7 1091.5,1396.8 1092.3,1396.3 1093.1,1397.2 1093.9,1396.8 1094.6,1395.8 1095.4,1395.9 1096.2,1398.1 1097.0,1396.9 1097.8,1396.6 1098.6,1396.1 1099.4,1394.6 1100.1,1394.7 1100.9,1394.1 1101.7,1392.3 1102.5,1392.7 1103.3,1393.0 1104.1,1392.4 1104.8,1393.1 1105.6,1391.8 1106.3,1392.7 1107.1,1393.1 1107.9,1393.4 1108.6,1394.2 1109.4,1393.7 1110.1,1394.0 1110.9,1394.1 1111.7,1394.6 1112.4,1394.7 1113.2,1394.5 1113.9,1394.5 1114.7,1395.8 1115.5,1395.0 1116.2,1395.9 1117.0,1395.2 1117.7,1396.9 1118.5,1395.5 1119.3,1395.3 1120.0,1394.7 1120.8,1395.1 1121.5,1394.2 1122.3,1392.7 1123.0,1392.0 1123.8,1392.4 1124.6,1391.3 1125.3,1390.1 1126.1,1389.4 1126.8,1390.0 1127.6,1389.3 1128.3,1389.1 1129.1,1387.0 1129.8,1387.3 1130.5,1386.1 1131.3,1386.4 1132.0,1385.1 1132.7,1384.6 1133.5,1384.7 1134.2,1383.3 1134.9,1385.6 1135.6,1385.4 1136.4,1386.6 1137.1,1388.6 1137.8,1388.6 1138.5,1389.7 1139.3,1391.6 1140.0,1392.2 1140.7,1393.7 1141.5,1393.6 1142.2,1393.6 1143.0,1391.7 1143.8,1392.1 1144.6,1392.0 1145.3,1391.5 1146.1,1392.5 1146.9,1391.3 1147.6,1392.2 1148.4,1390.3 1149.2,1390.8 1150.0,1391.0 1150.7,1391.1 1151.5,1390.3 1152.3,1391.0 1153.0,1389.6 1153.8,1389.5 1154.6,1389.0 1155.4,1388.8 1156.1,1389.2 1156.9,1389.5 1157.7,1389.5 1158.4,1391.3 1159.2,1392.3 1160.0,1394.6 1160.7,1394.7 1161.5,1396.5 1162.2,1396.5 1163.0,1399.0 1163.8,1396.7 1164.5,1396.5 1165.3,1396.9 1166.0,1396.2 1166.8,1395.7 1167.5,1395.4 1168.3,1394.3 1169.1,1394.5 1169.8,1393.4 1170.6,1393.3 1171.3,1393.0 1172.1,1391.7 1172.9,1392.9 1173.6,1393.3 1174.4,1394.0 1175.2,1392.4 1176.0,1393.4 1176.7,1393.2 1177.5,1393.5 1178.3,1394.4 1179.0,1395.3 1179.8,1394.3 1180.6,1395.9 1181.3,1396.3 1182.1,1396.9 1182.9,1396.7 1183.7,1395.9 1184.4,1397.2 1185.2,1397.2 1186.0,1396.8 1186.8,1398.0 1187.6,1397.3 1188.4,1398.5 1189.1,1398.7 1189.9,1397.9 1190.7,1397.6 1191.5,1399.1 1192.3,1398.0 1193.1,1398.1 1193.9,1399.7 1194.7,1398.6 1195.5,1398.9 1196.2,1399.3 1197.0,1400.1 1197.8,1399.2 1198.6,1399.7 1199.4,1399.3 1200.2,1399.6 1201.0,1400.6 1201.8,1400.3 1202.6,1400.1 1203.4,1400.6 1204.2,1398.8 1205.0,1399.3 1205.8,1399.9 1206.6,1399.3 1207.4,1400.4 1208.2,1398.9 1209.0,1400.3 1209.8,1399.7 1210.6,1399.6 1211.3,1400.0 1212.1,1398.9 1212.9,1398.7 1213.7,1398.8 1214.5,1399.3 1215.3,1399.4 1216.1,1399.0 1216.9,1399.2 1217.7,1398.9 1218.5,1399.0 1219.3,1397.7 1220.1,1399.0 1220.9,1398.3 1221.7,1397.9 1222.5,1397.3 1223.3,1398.2 1224.0,1397.3 1224.8,1397.5 1225.6,1397.7 1226.4,1396.9 1227.2,1396.8 1228.0,1396.4 1228.8,1396.8 1229.5,1397.7 1230.3,1396.4 1231.1,1396.3 1231.9,1396.0 1232.7,1396.8 1233.5,1396.9 1234.2,1395.7 1235.0,1396.9 1235.8,1395.1 1236.6,1395.7 1237.3,1396.1 1238.1,1397.8 1238.8,1396.8 1239.6,1398.5 1240.4,1397.8 1241.1,1398.4 1241.9,1398.4 1242.6,1399.4 1243.4,1398.0 1244.1,1398.7 1244.8,1397.7 1245.6,1397.0 1246.3,1396.3 1247.1,1396.1 1247.8,1395.7 1248.5,1396.0 1249.3,1394.0 1250.0,1393.5 1250.8,1395.0 1251.6,1394.2 1252.4,1394.0 1253.2,1393.5 1254.0,1392.5 1254.7,1392.8 1255.5,1393.8 1256.3,1392.6 1257.1,1393.1 1257.9,1392.8 1258.7,1392.0 1259.5,1391.6 1260.3,1391.5 1261.1,1392.7 1261.9,1391.6 1262.7,1392.0 1263.5,1392.0 1264.2,1392.3 1265.0,1390.9 1265.8,1391.3 1266.6,1391.9 1267.4,1391.6 1268.2,1391.0 1268.9,1392.0 1269.7,1393.0 1270.4,1393.8 1271.1,1393.7 1271.9,1393.5 1272.6,1394.2 1273.4,1395.9 1274.1,1396.6 1274.8,1396.8 1275.6,1397.9 1276.3,1397.6 1277.1,1398.0 1277.9,1398.1 1278.7,1398.9 1279.5,1399.4 1280.2,1398.0 1281.0,1397.7 1281.8,1398.3 1282.6,1399.4 1283.4,1399.7 1284.2,1397.9 1285.0,1398.5 1285.8,1398.8 1286.6,1399.7 1287.3,1399.1 1288.1,1398.9 1288.9,1400.0 1289.7,1399.6 1290.5,1400.0 1291.2,1399.0 1292.0,1398.6 1292.7,1397.2 1293.5,1396.6 1294.2,1395.3 1295.0,1394.8 1295.7,1394.6 1296.5,1393.8 1297.2,1392.9 1298.0,1391.7 1298.7,1390.6 1299.5,1389.6 1300.2,1388.8 1300.9,1390.8 1301.6,1391.1 1302.4,1392.3 1303.1,1392.9 1303.8,1392.7 1304.5,1394.3 1305.3,1395.0 1306.0,1397.1 1306.7,1397.5 1307.5,1396.8 1308.2,1397.1 1309.0,1397.9 1309.8,1397.2 1310.6,1397.5 1311.3,1396.8 1312.1,1397.0 1312.9,1397.6 1313.6,1396.5 1314.4,1397.5 1315.2,1397.8 1316.0,1398.1 1316.7,1397.2 1317.5,1397.3 1318.3,1398.1 1319.0,1397.7 1319.8,1397.8 1320.6,1397.2 1321.4,1396.4 1322.1,1397.8 1322.9,1396.3 1323.7,1397.4 1324.5,1396.5 1325.2,1397.4 1326.0,1396.9 1326.8,1396.6 1327.6,1396.4 1328.4,1395.9 1329.2,1397.2 1330.0,1396.2 1330.7,1396.9 1331.5,1395.1 1332.3,1394.8 1333.1,1395.0 1333.9,1395.2 1334.7,1396.4 1335.4,1394.6 1336.2,1395.3 1337.0,1395.8 1337.8,1394.9 1338.6,1395.1 1339.4,1395.2 1340.2,1395.1 1341.0,1396.4 1341.7,1396.6 1342.5,1396.1 1343.3,1397.0 1344.1,1397.1 1344.9,1397.7 1345.7,1397.0 1346.5,1397.2 1347.3,1398.7 1348.1,1398.6 1348.9,1398.9 1349.7,1398.3 1350.5,1399.0 1351.2,1398.8 1352.0,1399.7 1352.8,1400.4 1353.6,1399.7 1354.4,1399.9 1355.2,1400.6" fill="none" stroke="#FFC000" stroke-width="5.8" stroke-linejoin="round" stroke-linecap="round"/>
<polyline points="178.8,1529.1 178.8,1546.1 179.5,1546.8 180.2,1547.6 180.9,1547.8 181.5,1548.7 182.2,1547.5 182.9,1548.9 183.6,1551.2 184.4,1551.9 185.1,1553.7 185.8,1553.4 186.6,1555.4 187.3,1556.3 188.0,1559.1 188.7,1561.4 189.3,1562.5 190.0,1565.2 190.7,1567.6 191.5,1569.8 192.3,1570.5 193.0,1570.3 193.8,1572.6 194.6,1572.3 195.4,1574.2 196.2,1574.3 196.9,1575.0 197.7,1577.7 198.5,1577.4 199.2,1577.8 200.0,1579.7 200.7,1579.9 201.5,1579.1 202.2,1580.8 203.0,1580.3 203.7,1581.0 204.5,1580.4 205.2,1582.3 205.9,1582.1 206.6,1582.9 207.3,1583.0 208.0,1582.1 208.7,1582.5 209.4,1582.4 210.1,1582.6 210.8,1582.7 211.5,1582.5 212.3,1582.3 213.0,1580.4 213.8,1581.0 214.5,1579.6 215.3,1578.8 216.0,1579.0 216.8,1577.6 217.5,1576.5 218.2,1572.8 219.0,1569.1 219.7,1563.7 220.4,1561.5 221.2,1555.4 221.9,1552.8 222.7,1543.8 223.4,1533.1 224.2,1525.5 224.9,1515.5 225.7,1506.8 226.3,1515.4 226.9,1525.2 227.6,1535.2 228.2,1546.5 228.9,1554.7 229.5,1565.5 230.2,1575.6 231.0,1573.3 231.8,1569.9 232.6,1567.7 233.4,1565.8 234.2,1564.1 234.9,1552.3 235.7,1543.2 236.4,1532.8 237.2,1522.6 237.9,1510.5 238.7,1501.9 239.4,1477.8 240.0,1456.0 240.7,1434.2 241.3,1412.5 242.0,1389.0 242.8,1365.0 243.5,1339.2 244.3,1313.6 245.0,1346.2 245.8,1378.5 246.5,1410.9 247.1,1452.3 247.6,1494.7 248.3,1486.4 249.1,1475.8 249.8,1466.6 250.5,1459.6 251.2,1480.2 251.8,1501.5 252.5,1522.8 253.1,1548.8 253.7,1574.6 254.3,1599.1 255.1,1600.5 255.8,1601.3 256.6,1604.5 257.3,1604.3 258.1,1606.7 258.8,1608.9 259.6,1606.5 260.4,1606.7 261.2,1606.2 262.0,1604.6 262.8,1604.0 263.6,1601.7 264.4,1601.4 265.1,1596.3 265.9,1593.3 266.6,1587.7 267.3,1583.5 268.1,1580.2 268.8,1575.4 269.5,1582.8 270.2,1588.9 270.8,1596.1 271.5,1603.7 272.2,1610.4 272.9,1610.3 273.6,1610.8 274.3,1610.5 275.0,1611.3 275.7,1612.8 276.4,1613.0 277.1,1612.6 277.8,1612.6 278.5,1610.4 279.2,1607.9 279.9,1606.4 280.6,1605.5 281.3,1603.8 282.0,1600.8 282.7,1599.8 283.5,1603.8 284.3,1607.6 285.1,1611.6 285.9,1615.8 286.7,1619.0 287.4,1620.0 288.2,1619.4 288.9,1620.0 289.7,1620.9 290.4,1621.0 291.2,1620.4 291.9,1622.0 292.7,1621.6 293.4,1621.8 294.2,1618.8 295.0,1618.1 295.7,1615.7 296.5,1614.8 297.3,1612.6 298.1,1611.5 298.9,1609.4 299.6,1607.9 300.4,1605.2 301.2,1604.0 301.9,1605.6 302.6,1607.2 303.3,1607.6 304.0,1610.0 304.7,1611.4 305.4,1612.5 306.1,1614.5 306.8,1615.8 307.5,1609.5 308.3,1604.0 309.0,1597.8 309.8,1593.7 310.5,1588.4 311.3,1582.1 312.0,1577.0 312.8,1571.6 313.5,1566.2 314.2,1574.4 315.0,1584.9 315.8,1593.8 316.5,1603.3 317.2,1612.1 318.0,1621.8 318.8,1621.9 319.6,1621.4 320.3,1621.4 321.1,1619.7 321.9,1619.8 322.7,1620.1 323.5,1620.3 324.2,1619.2 325.0,1619.9 325.8,1619.6 326.6,1614.6 327.4,1611.6 328.2,1607.3 329.0,1603.1 329.8,1599.4 330.6,1596.0 331.4,1591.9 332.1,1596.7 332.9,1601.3 333.6,1607.0 334.3,1611.7 335.1,1617.0 335.8,1621.8 336.6,1619.2 337.4,1618.6 338.2,1614.9 339.0,1613.8 339.8,1611.6 340.6,1609.9 341.4,1607.4 342.1,1612.2 342.9,1614.6 343.6,1617.3 344.4,1621.8 345.1,1624.1 345.9,1628.4 346.7,1628.0 347.5,1628.5 348.3,1629.2 349.1,1628.9 349.9,1628.1 350.7,1628.9 351.4,1628.6 352.2,1628.0 353.0,1627.6 353.8,1628.5 354.6,1628.4 355.4,1629.2 356.2,1629.2 357.0,1628.5 357.8,1627.1 358.6,1627.4 359.3,1624.7 360.1,1624.1 360.9,1624.1 361.7,1623.4 362.4,1621.6 363.2,1621.7 364.0,1621.3 364.8,1619.4 365.5,1618.7 366.3,1617.4 367.1,1616.7 367.9,1620.3 368.6,1621.3 369.4,1624.7 370.1,1626.9 370.9,1628.5 371.6,1630.0 372.4,1631.2 373.1,1629.9 373.9,1629.4 374.7,1629.0 375.4,1630.0 376.2,1628.7 376.9,1628.0 377.7,1628.1 378.5,1627.1 379.2,1627.8 380.0,1627.1 380.8,1626.5 381.5,1627.2 382.3,1627.0 383.0,1625.1 383.8,1625.8 384.6,1625.0 385.3,1626.1 386.1,1625.5 386.8,1625.7 387.6,1627.0 388.3,1628.1 389.0,1631.1 389.8,1631.0 390.5,1632.9 391.3,1632.0 392.1,1631.6 392.9,1630.9 393.7,1630.5 394.4,1628.6 395.2,1629.2 396.0,1627.6 396.8,1627.4 397.6,1626.3 398.4,1625.6 399.1,1627.1 399.9,1627.9 400.6,1628.7 401.4,1630.5 402.1,1631.2 402.9,1631.1 403.6,1632.5 404.4,1633.9 405.1,1635.8 405.9,1635.6 406.6,1634.7 407.4,1633.4 408.2,1634.7 408.9,1633.8 409.7,1633.9 410.4,1633.9 411.2,1633.6 412.0,1633.1 412.7,1633.7 413.5,1632.4 414.2,1632.2 415.0,1632.9 415.8,1631.4 416.5,1631.4 417.3,1632.3 418.0,1629.6 418.8,1630.1 419.5,1628.7 420.3,1627.0 421.0,1625.6 421.8,1625.5 422.5,1624.6 423.3,1622.0 424.0,1621.6 424.7,1620.7 425.5,1619.6 426.2,1618.3 427.0,1616.9 427.7,1616.8 428.5,1616.2 429.2,1613.7 430.0,1613.1 430.7,1613.2 431.4,1607.0 432.1,1600.7 432.8,1593.2 433.5,1588.5 434.2,1582.9 434.9,1576.8 435.6,1570.0 436.3,1562.6 437.1,1571.3 437.8,1577.1 438.6,1585.0 439.3,1592.7 440.1,1599.3 440.8,1605.2 441.5,1599.6 442.3,1594.9 443.0,1587.4 443.8,1592.4 444.5,1596.1 445.2,1599.7 446.0,1604.7 446.8,1607.6 447.5,1611.8 448.2,1604.3 448.9,1595.6 449.6,1587.5 450.3,1580.4 451.0,1572.6 451.7,1564.8 452.4,1555.3 453.1,1547.8 453.8,1548.0 454.4,1549.0 455.1,1549.2 455.7,1550.5 456.4,1549.8 457.1,1537.8 457.8,1527.7 458.4,1515.1 459.1,1504.7 459.8,1493.0 460.5,1508.8 461.1,1523.1 461.8,1538.2 462.4,1552.5 463.1,1568.1 463.9,1586.8 464.6,1607.2 465.4,1626.0 466.2,1625.9 467.0,1626.8 467.7,1627.8 468.5,1629.2 469.3,1628.7 470.1,1630.4 470.9,1631.0 471.6,1630.5 472.4,1632.4 473.2,1631.9 474.0,1631.8 474.8,1632.6 475.6,1631.7 476.3,1632.9 477.1,1631.9 477.9,1631.5 478.7,1632.3 479.5,1630.6 480.3,1631.8 481.1,1630.3 481.9,1630.4 482.6,1631.8 483.4,1631.2 484.2,1630.1 485.0,1629.7 485.7,1631.9 486.5,1631.7 487.2,1632.5 487.9,1631.6 488.6,1633.0 489.4,1632.9 490.1,1633.1 490.8,1633.8 491.6,1634.8 492.3,1634.7 493.1,1634.1 493.8,1633.0 494.6,1633.7 495.3,1632.7 496.1,1632.4 496.8,1631.0 497.6,1631.2 498.3,1629.8 499.1,1629.3 499.8,1628.6 500.6,1628.3 501.3,1627.0 502.1,1625.3 502.9,1624.0 503.7,1623.3 504.4,1621.8 505.2,1622.4 506.0,1620.5 506.8,1619.9 507.6,1621.4 508.3,1625.3 509.1,1629.1 509.8,1631.5 510.6,1634.1 511.3,1637.1 512.1,1636.4 512.8,1636.5 513.6,1636.5 514.4,1636.9 515.1,1637.0 515.9,1638.0 516.6,1636.5 517.4,1636.7 518.2,1636.8 518.9,1636.5 519.7,1636.8 520.5,1636.7 521.2,1637.2 522.0,1636.3 522.7,1638.0 523.5,1636.9 524.3,1638.1 525.0,1637.6 525.8,1637.5 526.5,1637.0 527.3,1637.7 528.0,1635.9 528.8,1636.8 529.5,1635.9 530.3,1636.4 531.0,1636.4 531.8,1635.1 532.5,1635.0 533.3,1634.4 534.0,1634.6 534.8,1634.2 535.5,1632.9 536.3,1632.2 537.0,1629.2 537.8,1627.2 538.5,1625.7 539.3,1623.4 540.0,1622.5 540.8,1620.6 541.5,1617.6 542.3,1619.2 543.1,1621.5 543.8,1623.5 544.6,1624.4 545.4,1625.4 546.2,1628.0 547.0,1627.5 547.7,1629.0 548.5,1631.9 549.3,1632.6 550.0,1630.9 550.7,1630.9 551.4,1630.9 552.1,1628.9 552.8,1627.6 553.5,1626.1 554.2,1625.1 554.9,1625.8 555.6,1623.1 556.4,1622.0 557.1,1618.4 557.8,1616.8 558.5,1614.5 559.3,1613.3 560.0,1610.7 560.7,1614.5 561.4,1618.1 562.1,1621.2 562.8,1624.1 563.5,1627.4 564.2,1632.6 564.9,1634.4 565.6,1633.5 566.4,1631.8 567.1,1630.6 567.9,1628.2 568.6,1627.2 569.4,1625.3 570.1,1624.7 570.9,1623.9 571.6,1621.8 572.3,1623.4 573.0,1623.3 573.6,1624.0 574.3,1626.2 575.0,1627.2 575.7,1626.2 576.5,1624.7 577.2,1624.1 577.9,1623.2 578.7,1622.4 579.4,1620.1 580.1,1622.1 580.9,1624.6 581.6,1625.1 582.4,1626.7 583.1,1628.8 583.9,1630.1 584.6,1633.2 585.4,1635.0 586.1,1635.7 586.9,1635.5 587.7,1635.6 588.5,1636.1 589.2,1635.9 590.0,1636.8 590.8,1637.3 591.6,1636.8 592.4,1636.6 593.2,1638.0 594.0,1636.9 594.7,1637.4 595.5,1637.7 596.3,1638.1 597.1,1637.7 597.9,1638.5 598.7,1638.4 599.4,1639.5 600.2,1639.3 601.0,1640.1 601.8,1639.8 602.6,1640.0 603.4,1639.6 604.2,1639.3 605.0,1640.0 605.8,1639.6 606.5,1640.2 607.3,1639.7 608.1,1639.6 608.9,1638.7 609.7,1639.8 610.5,1638.9 611.3,1638.3 612.1,1638.2 612.9,1638.3 613.7,1638.5 614.4,1639.3 615.2,1638.5 616.0,1638.0 616.8,1639.4 617.6,1638.9 618.4,1637.8 619.2,1637.8 620.0,1637.9 620.8,1638.4 621.6,1639.3 622.3,1639.5 623.1,1638.8 623.9,1638.0 624.7,1638.3 625.5,1638.2 626.3,1638.1 627.1,1637.4 627.8,1638.5 628.6,1638.9 629.4,1638.7 630.2,1637.4 630.9,1638.2 631.7,1637.4 632.5,1638.4 633.3,1637.9 634.0,1638.8 634.8,1638.5 635.6,1637.1 636.3,1637.4 637.1,1638.6 637.9,1637.6 638.7,1637.5 639.4,1637.5 640.2,1638.1 641.0,1638.4 641.8,1637.5 642.5,1638.4 643.3,1637.6 644.1,1636.5 644.9,1637.9 645.6,1637.1 646.4,1636.3 647.2,1638.0 648.0,1635.9 648.8,1636.8 649.6,1636.4 650.3,1637.0 651.1,1635.8 651.9,1635.3 652.7,1635.2 653.5,1634.9 654.3,1635.4 655.1,1634.8 655.9,1635.4 656.6,1634.2 657.4,1634.2 658.2,1633.8 659.0,1635.1 659.8,1634.6 660.5,1632.6 661.2,1630.2 661.9,1627.9 662.6,1625.4 663.3,1624.8 664.0,1622.2 664.7,1619.3 665.4,1617.6 666.1,1615.7 666.8,1615.2 667.5,1613.8 668.2,1610.7 668.9,1610.1 669.6,1607.4 670.3,1606.4 671.0,1610.1 671.8,1612.9 672.5,1616.6 673.2,1619.1 673.9,1621.7 674.7,1626.1 675.4,1629.6 676.1,1627.2 676.8,1626.1 677.5,1624.4 678.2,1622.3 678.9,1621.3 679.6,1619.9 680.3,1618.6 681.0,1617.5 681.8,1618.6 682.5,1621.4 683.2,1622.8 684.0,1624.7 684.8,1625.9 685.5,1627.5 686.2,1625.4 687.0,1624.0 687.7,1621.2 688.5,1619.8 689.2,1618.1 689.9,1615.8 690.7,1613.5 691.4,1611.2 692.2,1609.3 692.9,1607.9 693.6,1611.4 694.3,1614.8 695.0,1617.7 695.7,1619.9 696.4,1624.2 697.1,1625.9 697.8,1629.8 698.5,1626.0 699.2,1624.9 699.9,1622.2 700.6,1620.3 701.3,1617.6 702.0,1614.7 702.7,1612.5 703.4,1609.8 704.1,1611.3 704.7,1612.3 705.4,1614.7 706.0,1617.3 706.7,1617.8 707.4,1617.3 708.1,1614.6 708.8,1612.3 709.5,1609.6 710.2,1608.5 710.9,1606.2 711.6,1605.2 712.3,1609.8 713.1,1614.0 713.8,1617.6 714.6,1621.2 715.3,1624.8 716.1,1630.1 716.8,1634.0 717.6,1634.2 718.4,1633.4 719.2,1634.3 720.0,1632.8 720.7,1632.9 721.5,1632.7 722.3,1633.2 723.1,1633.7 723.9,1632.1 724.7,1632.9 725.5,1633.0 726.3,1631.8 727.0,1631.3 727.8,1632.2 728.6,1632.6 729.4,1632.6 730.2,1632.2 730.9,1628.6 731.7,1625.6 732.4,1622.8 733.2,1620.6 733.9,1616.4 734.7,1613.4 735.4,1611.1 736.2,1608.8 736.9,1604.3 737.6,1599.8 738.2,1595.8 738.9,1592.5 739.5,1588.4 740.2,1583.4 741.0,1589.6 741.8,1596.5 742.6,1602.8 743.4,1609.1 744.2,1615.3 745.0,1620.2 745.8,1627.2 746.6,1628.2 747.4,1628.8 748.1,1627.8 748.9,1629.2 749.7,1629.1 750.5,1630.0 751.3,1629.0 752.0,1630.2 752.8,1630.9 753.6,1630.5 754.4,1630.0 755.2,1630.4 756.0,1630.6 756.8,1630.7 757.5,1631.1 758.3,1632.3 759.1,1631.6 759.9,1633.1 760.7,1633.4 761.5,1633.8 762.3,1634.0 763.1,1634.1 763.8,1634.8 764.6,1635.1 765.4,1634.7 766.2,1635.7 767.0,1634.2 767.8,1634.3 768.5,1634.4 769.3,1634.8 770.1,1635.2 770.8,1635.5 771.6,1636.1 772.4,1636.3 773.1,1635.1 773.9,1635.9 774.6,1636.3 775.4,1636.0 776.2,1635.6 776.9,1636.7 777.7,1636.4 778.5,1637.1 779.2,1636.9 780.0,1637.9 780.8,1637.9 781.6,1636.1 782.4,1637.4 783.2,1637.3 784.0,1636.4 784.8,1636.0 785.6,1636.7 786.4,1636.4 787.2,1637.2 788.0,1637.5 788.8,1636.4 789.6,1636.2 790.4,1636.5 791.1,1636.9 791.9,1637.0 792.7,1636.6 793.5,1636.0 794.3,1636.0 795.1,1637.0 795.9,1636.3 796.7,1635.4 797.5,1636.1 798.3,1635.7 799.1,1636.5 799.9,1635.3 800.7,1635.6 801.5,1635.2 802.3,1636.0 803.0,1636.4 803.8,1635.0 804.5,1634.2 805.3,1634.8 806.0,1632.6 806.8,1632.6 807.5,1632.9 808.3,1630.8 809.0,1631.8 809.8,1630.5 810.5,1629.2 811.3,1629.2 812.0,1629.1 812.8,1628.4 813.5,1628.1 814.2,1628.1 815.0,1629.3 815.7,1631.7 816.5,1631.5 817.2,1632.4 818.0,1632.5 818.7,1633.8 819.5,1636.0 820.2,1636.4 821.0,1635.0 821.7,1633.1 822.5,1632.8 823.3,1632.6 824.0,1631.0 824.8,1630.3 825.6,1629.9 826.4,1628.4 827.1,1627.4 827.9,1625.3 828.7,1624.3 829.4,1624.8 830.2,1623.1 831.0,1623.0 831.7,1621.9 832.5,1621.1 833.2,1622.1 834.0,1625.4 834.7,1627.0 835.4,1629.3 836.2,1629.8 836.9,1633.2 837.6,1631.1 838.4,1630.9 839.1,1629.7 839.9,1626.8 840.6,1625.9 841.4,1624.3 842.1,1626.0 842.9,1627.0 843.6,1629.0 844.4,1629.2 845.1,1630.6 845.9,1632.5 846.7,1631.0 847.4,1630.8 848.2,1631.1 849.0,1630.3 849.7,1628.1 850.5,1627.0 851.3,1627.8 852.1,1627.3 852.8,1625.8 853.6,1624.1 854.4,1623.5 855.1,1624.1 855.9,1623.4 856.6,1620.2 857.3,1619.2 858.1,1618.3 858.8,1616.7 859.5,1616.3 860.2,1614.2 860.9,1613.7 861.7,1611.1 862.4,1610.5 863.1,1610.0 863.9,1612.2 864.6,1613.6 865.4,1616.3 866.2,1620.0 867.0,1622.1 867.8,1624.7 868.5,1627.6 869.3,1630.5 870.0,1630.7 870.8,1628.7 871.5,1628.8 872.3,1627.6 873.0,1627.6 873.8,1627.4 874.5,1625.7 875.3,1625.8 876.0,1625.7 876.8,1623.7 877.5,1624.7 878.3,1623.4 879.0,1624.3 879.8,1625.1 880.5,1626.2 881.3,1625.3 882.0,1626.9 882.8,1626.6 883.5,1628.0 884.2,1628.6 885.0,1628.6 885.7,1629.8 886.5,1630.7 887.2,1631.8 887.9,1632.7 888.7,1632.0 889.4,1632.7 890.2,1633.4 890.9,1634.2 891.7,1634.6 892.4,1635.0 893.1,1634.0 893.9,1634.1 894.6,1636.0 895.4,1634.7 896.1,1635.8 896.9,1636.5 897.7,1636.2 898.5,1636.1 899.3,1637.3 900.0,1636.2 900.8,1636.8 901.6,1637.5 902.4,1636.3 903.2,1636.8 904.0,1637.2 904.8,1637.5 905.6,1636.9 906.3,1637.6 907.1,1636.9 907.9,1637.1 908.7,1637.7 909.5,1637.5 910.3,1638.7 911.1,1636.8 911.9,1636.4 912.7,1636.9 913.4,1636.4 914.2,1634.9 915.0,1635.6 915.8,1634.7 916.6,1633.8 917.4,1633.8 918.2,1632.6 919.0,1632.2 919.7,1632.9 920.5,1631.6 921.3,1632.0 922.1,1630.1 922.9,1629.6 923.7,1629.8 924.5,1631.6 925.3,1631.6 926.1,1630.9 926.8,1631.4 927.6,1633.3 928.4,1633.0 929.2,1634.2 930.0,1632.9 930.8,1634.4 931.6,1633.9 932.4,1635.5 933.1,1635.6 933.9,1636.0 934.7,1635.7 935.5,1637.5 936.3,1636.2 937.1,1636.0 937.9,1637.1 938.7,1635.8 939.5,1635.6 940.2,1636.3 941.0,1636.5 941.8,1636.9 942.6,1636.4 943.4,1635.0 944.2,1636.0 945.0,1636.3 945.8,1634.7 946.5,1635.8 947.3,1634.7 948.1,1634.7 948.9,1633.9 949.7,1635.3 950.5,1634.3 951.2,1634.6 952.0,1633.3 952.8,1632.2 953.5,1631.8 954.3,1631.4 955.1,1632.3 955.9,1630.3 956.6,1629.6 957.4,1629.6 958.2,1628.6 958.9,1628.8 959.7,1628.7 960.5,1628.3 961.2,1626.8 962.0,1626.3 962.8,1626.0 963.5,1625.3 964.3,1623.8 965.1,1623.0 965.8,1622.7 966.6,1620.1 967.4,1619.3 968.2,1618.7 968.9,1617.8 969.7,1617.5 970.5,1615.8 971.2,1615.0 972.0,1613.4 972.7,1616.3 973.4,1618.4 974.1,1619.4 974.8,1621.2 975.5,1623.6 976.2,1625.8 976.9,1629.0 977.6,1629.8 978.3,1629.0 979.1,1627.5 979.8,1626.5 980.6,1623.3 981.3,1623.0 982.0,1620.6 982.8,1618.6 983.5,1618.1 984.3,1616.9 985.0,1614.9 985.8,1616.0 986.6,1620.1 987.4,1621.2 988.2,1623.9 988.9,1626.3 989.7,1627.6 990.5,1630.2 991.3,1632.2 992.1,1634.0 992.9,1634.0 993.7,1635.4 994.5,1634.9 995.3,1635.9 996.1,1634.3 996.9,1634.9 997.7,1634.7 998.5,1636.3 999.3,1636.1 1000.1,1636.4 1000.9,1635.7 1001.7,1635.0 1002.5,1635.7 1003.3,1635.4 1004.1,1633.8 1004.9,1633.8 1005.6,1632.1 1006.4,1630.7 1007.2,1630.4 1008.0,1630.1 1008.8,1629.0 1009.5,1627.0 1010.3,1625.1 1011.1,1625.3 1011.8,1625.7 1012.5,1628.2 1013.2,1629.0 1013.9,1632.5 1014.6,1633.3 1015.3,1634.7 1016.0,1636.1 1016.7,1638.3 1017.4,1638.7 1018.2,1637.1 1018.9,1636.2 1019.7,1636.4 1020.4,1636.7 1021.1,1635.2 1021.9,1635.2 1022.6,1635.3 1023.4,1633.7 1024.1,1634.2 1024.9,1633.1 1025.6,1631.9 1026.3,1632.2 1027.1,1634.4 1027.8,1633.9 1028.6,1634.4 1029.3,1635.8 1030.1,1635.5 1030.8,1635.9 1031.6,1635.9 1032.3,1637.3 1033.1,1636.8 1033.8,1637.7 1034.6,1638.7 1035.3,1637.9 1036.1,1636.5 1036.8,1636.2 1037.6,1636.7 1038.3,1636.3 1039.0,1634.6 1039.8,1635.9 1040.5,1633.7 1041.3,1633.3 1042.0,1632.7 1042.8,1633.0 1043.5,1632.8 1044.3,1633.7 1045.1,1632.7 1045.9,1634.2 1046.7,1633.4 1047.4,1634.7 1048.2,1634.5 1049.0,1635.1 1049.8,1634.9 1050.6,1636.6 1051.4,1635.8 1052.2,1637.5 1053.0,1637.0 1053.7,1637.9 1054.5,1638.4 1055.3,1638.5 1056.1,1639.7 1056.9,1640.1 1057.7,1638.5 1058.5,1638.3 1059.3,1639.1 1060.1,1637.3 1060.9,1637.5 1061.7,1637.2 1062.5,1638.0 1063.3,1636.0 1064.1,1636.7 1064.9,1636.6 1065.7,1636.2 1066.5,1634.4 1067.3,1636.0 1068.1,1634.4 1068.9,1635.7 1069.7,1635.4 1070.5,1635.1 1071.3,1636.1 1072.1,1635.9 1072.9,1635.4 1073.7,1636.4 1074.4,1636.1 1075.2,1636.6 1076.0,1636.6 1076.8,1637.1 1077.6,1636.0 1078.4,1636.8 1079.2,1636.0 1080.0,1637.4 1080.7,1637.2 1081.5,1637.1 1082.2,1635.4 1083.0,1636.2 1083.7,1635.9 1084.5,1635.0 1085.2,1634.9 1086.0,1636.3 1086.7,1635.9 1087.5,1634.5 1088.2,1635.5 1089.0,1635.6 1089.8,1635.6 1090.6,1636.6 1091.4,1636.3 1092.2,1636.9 1093.0,1636.9 1093.8,1638.7 1094.6,1639.0 1095.4,1639.9 1096.2,1639.9 1096.9,1639.1 1097.7,1638.2 1098.4,1638.5 1099.1,1637.1 1099.9,1636.9 1100.6,1636.6 1101.4,1635.3 1102.1,1635.2 1102.8,1633.3 1103.6,1633.1 1104.3,1633.6 1105.1,1632.9 1105.8,1633.5 1106.6,1634.2 1107.3,1636.4 1108.1,1635.9 1108.9,1637.3 1109.6,1638.0 1110.4,1639.5 1111.2,1638.8 1111.9,1638.8 1112.7,1637.8 1113.4,1639.2 1114.2,1639.1 1114.9,1638.8 1115.7,1639.1 1116.5,1638.6 1117.2,1638.8 1118.0,1639.0 1118.7,1638.4 1119.5,1637.2 1120.2,1638.9 1121.0,1639.0 1121.7,1637.4 1122.5,1637.0 1123.2,1636.6 1124.0,1635.2 1124.8,1634.8 1125.5,1633.3 1126.2,1632.7 1127.0,1631.3 1127.8,1631.2 1128.5,1630.0 1129.2,1629.9 1130.0,1628.3 1130.8,1626.9 1131.5,1627.6 1132.2,1626.5 1133.0,1625.2 1133.7,1625.2 1134.5,1626.5 1135.2,1627.5 1136.0,1628.3 1136.7,1628.5 1137.5,1630.3 1138.2,1631.9 1139.0,1632.6 1139.7,1633.9 1140.5,1634.5 1141.2,1635.6 1142.0,1636.7 1142.7,1637.7 1143.5,1637.0 1144.2,1635.8 1145.0,1635.9 1145.8,1635.4 1146.5,1635.4 1147.3,1634.7 1148.0,1633.7 1148.8,1632.7 1149.6,1632.6 1150.3,1632.0 1151.1,1632.4 1151.9,1632.1 1152.6,1630.5 1153.4,1630.8 1154.1,1630.9 1154.9,1629.5 1155.7,1630.1 1156.5,1632.3 1157.3,1632.9 1158.1,1633.6 1158.8,1635.0 1159.6,1635.5 1160.4,1637.0 1161.2,1638.6 1162.0,1639.1 1162.8,1638.5 1163.6,1639.1 1164.3,1639.4 1165.1,1638.7 1165.9,1637.2 1166.7,1638.0 1167.4,1635.8 1168.2,1635.5 1169.0,1634.8 1169.8,1634.4 1170.5,1635.0 1171.3,1634.9 1172.1,1633.9 1172.9,1634.8 1173.6,1634.3 1174.4,1635.5 1175.1,1635.1 1175.9,1635.2 1176.7,1634.7 1177.4,1635.5 1178.2,1635.8 1178.9,1636.8 1179.7,1635.9 1180.5,1636.2 1181.2,1637.5 1182.0,1636.3 1182.7,1637.5 1183.5,1637.1 1184.3,1638.2 1185.0,1638.3 1185.8,1637.6 1186.5,1639.1 1187.3,1638.7 1188.1,1638.9 1188.9,1640.2 1189.6,1640.4 1190.4,1639.8 1191.2,1640.8 1192.0,1640.0 1192.7,1641.1 1193.5,1640.6 1194.3,1642.0 1195.1,1642.9 1195.8,1642.6 1196.6,1641.8 1197.4,1643.0 1198.2,1642.9 1199.0,1642.7 1199.7,1642.1 1200.5,1642.2 1201.3,1642.5 1202.1,1641.7 1202.8,1642.8 1203.6,1641.9 1204.4,1641.9 1205.2,1641.4 1205.9,1641.8 1206.7,1642.9 1207.5,1641.6 1208.3,1641.1 1209.1,1641.5 1209.8,1642.7 1210.6,1640.9 1211.4,1641.3 1212.2,1641.0 1212.9,1641.8 1213.7,1641.3 1214.5,1640.5 1215.3,1642.0 1216.0,1640.8 1216.8,1641.4 1217.6,1640.9 1218.4,1641.6 1219.2,1639.9 1220.0,1640.1 1220.8,1640.1 1221.5,1639.9 1222.3,1640.9 1223.1,1640.2 1223.9,1639.8 1224.7,1640.0 1225.5,1640.5 1226.3,1639.9 1227.1,1639.5 1227.9,1639.8 1228.6,1639.6 1229.4,1639.1 1230.2,1639.0 1231.0,1638.3 1231.8,1638.8 1232.6,1639.9 1233.4,1639.0 1234.1,1639.3 1234.9,1640.1 1235.7,1640.3 1236.5,1639.7 1237.2,1640.5 1238.0,1641.3 1238.8,1640.1 1239.6,1640.5 1240.3,1642.0 1241.1,1642.6 1241.9,1641.1 1242.7,1640.3 1243.4,1640.5 1244.2,1638.9 1245.0,1638.8 1245.7,1636.6 1246.5,1636.6 1247.2,1635.1 1248.0,1634.6 1248.8,1635.5 1249.6,1635.3 1250.3,1636.1 1251.1,1636.3 1251.9,1636.0 1252.7,1636.6 1253.5,1635.4 1254.3,1636.2 1255.0,1636.0 1255.8,1636.8 1256.6,1636.0 1257.4,1637.7 1258.2,1636.8 1259.0,1637.8 1259.8,1638.3 1260.5,1638.4 1261.3,1637.5 1262.1,1638.6 1262.9,1638.3 1263.7,1636.0 1264.5,1636.7 1265.3,1636.1 1266.0,1635.0 1266.8,1634.1 1267.6,1633.4 1268.4,1633.3 1269.2,1633.8 1269.9,1633.7 1270.7,1634.4 1271.4,1636.1 1272.1,1636.8 1272.8,1638.1 1273.6,1638.8 1274.3,1639.5 1275.1,1639.1 1275.9,1640.9 1276.7,1640.7 1277.5,1640.1 1278.2,1640.8 1279.0,1641.1 1279.8,1641.1 1280.6,1642.1 1281.4,1642.0 1282.2,1641.2 1283.0,1641.5 1283.8,1642.2 1284.6,1641.5 1285.3,1643.2 1286.1,1641.6 1286.9,1642.7 1287.7,1642.4 1288.5,1643.1 1289.3,1641.2 1290.1,1640.7 1290.8,1641.4 1291.6,1640.1 1292.4,1638.1 1293.2,1637.7 1293.9,1636.0 1294.7,1635.4 1295.5,1634.6 1296.3,1635.4 1297.0,1633.1 1297.8,1632.2 1298.6,1630.9 1299.3,1631.8 1300.1,1634.3 1300.8,1634.5 1301.5,1635.6 1302.3,1636.2 1303.0,1636.8 1303.8,1636.5 1304.5,1637.0 1305.2,1638.0 1306.0,1638.3 1306.7,1639.3 1307.5,1640.1 1308.2,1639.4 1309.0,1638.2 1309.7,1638.5 1310.5,1639.3 1311.2,1639.1 1312.0,1638.6 1312.8,1638.4 1313.5,1638.5 1314.3,1637.5 1315.0,1636.9 1315.8,1637.0 1316.6,1636.8 1317.4,1636.7 1318.2,1637.5 1319.0,1638.3 1319.8,1638.0 1320.6,1638.2 1321.3,1638.9 1322.1,1639.6 1322.9,1641.1 1323.7,1640.5 1324.5,1641.6 1325.3,1641.8 1326.1,1641.8 1326.9,1641.6 1327.7,1641.7 1328.4,1641.4 1329.2,1642.0 1330.0,1642.3 1330.8,1642.1 1331.5,1641.0 1332.3,1640.6 1333.1,1640.2 1333.8,1641.3 1334.6,1640.5 1335.4,1639.9 1336.2,1640.4 1336.9,1640.2 1337.7,1640.0 1338.5,1640.8 1339.2,1640.6 1340.0,1639.9 1340.8,1640.7 1341.6,1639.5 1342.3,1640.8 1343.1,1639.1 1343.9,1640.3 1344.6,1640.7 1345.4,1640.9 1346.1,1640.6 1346.9,1641.6 1347.6,1641.3 1348.4,1641.6 1349.2,1640.6 1349.9,1641.0 1350.7,1641.8 1351.4,1642.1 1352.2,1641.4 1352.9,1642.9 1353.7,1642.3 1354.4,1642.8 1355.2,1643.0" fill="none" stroke="#FF742E" stroke-width="5.8" stroke-linejoin="round" stroke-linecap="round"/>
<polyline points="178.8,1842.2 178.8,1865.8 179.5,1865.5 180.2,1865.5 181.0,1865.5 181.7,1867.6 182.4,1866.0 183.2,1865.6 183.9,1863.5 184.7,1863.4 185.4,1861.1 186.2,1861.2 186.8,1867.8 187.3,1873.7 188.1,1880.0 188.8,1886.3 189.6,1891.1 190.3,1893.2 191.1,1895.0 191.8,1895.0 192.6,1897.5 193.3,1898.5 194.1,1900.1 194.8,1900.1 195.6,1900.8 196.3,1903.7 197.1,1904.2 197.9,1903.7 198.6,1903.3 199.4,1904.0 200.2,1905.5 201.0,1905.1 201.8,1907.2 202.5,1906.7 203.3,1906.2 204.1,1907.8 204.8,1907.3 205.6,1908.9 206.3,1909.1 207.1,1908.4 207.8,1909.0 208.6,1909.3 209.3,1909.8 210.1,1910.5 210.8,1908.5 211.6,1908.4 212.4,1908.1 213.1,1906.5 213.9,1906.3 214.7,1904.2 215.5,1905.2 216.3,1903.4 217.0,1901.6 217.8,1902.0 218.6,1900.2 219.4,1895.1 220.2,1890.8 221.0,1885.1 221.8,1880.3 222.6,1877.0 223.4,1866.5 224.1,1854.9 224.9,1846.6 225.6,1834.8 226.4,1825.5 227.1,1839.9 227.9,1852.3 228.6,1864.5 229.4,1878.7 230.2,1892.6 231.0,1888.2 231.8,1886.5 232.6,1880.4 233.4,1877.5 234.2,1874.5 234.9,1864.7 235.7,1857.2 236.4,1846.5 237.2,1839.3 237.9,1830.2 238.7,1820.7 239.4,1794.4 240.0,1766.6 240.7,1740.7 241.3,1713.8 242.0,1686.3 242.7,1652.7 243.3,1619.6 244.0,1585.4 244.7,1551.0 245.3,1597.4 245.9,1641.0 246.5,1686.3 247.1,1735.0 247.6,1781.5 248.3,1766.1 249.1,1751.2 249.8,1737.3 250.5,1721.7 251.2,1754.2 251.8,1787.4 252.5,1821.3 253.1,1853.2 253.7,1887.1 254.3,1921.7 255.1,1924.1 255.8,1926.2 256.6,1929.7 257.3,1932.7 258.1,1934.9 258.8,1938.4 259.6,1936.9 260.4,1936.9 261.2,1934.4 262.0,1933.9 262.8,1933.4 263.6,1932.0 264.4,1929.4 265.1,1924.1 265.8,1917.5 266.5,1911.9 267.2,1906.2 267.9,1901.1 268.6,1895.6 269.3,1888.2 270.0,1881.6 270.7,1895.2 271.3,1906.8 272.0,1919.2 272.6,1933.5 273.3,1944.5 274.1,1946.7 274.8,1946.5 275.6,1948.7 276.3,1949.2 277.1,1948.0 277.8,1949.1 278.6,1947.4 279.4,1943.1 280.2,1939.1 281.0,1936.5 281.8,1933.1 282.6,1928.8 283.4,1925.2 284.1,1930.1 284.7,1936.6 285.4,1941.8 286.0,1948.8 286.7,1954.6 287.4,1953.9 288.2,1955.6 288.9,1954.8 289.7,1955.4 290.4,1957.1 291.2,1957.2 291.9,1958.8 292.7,1958.6 293.4,1959.3 294.1,1956.8 294.8,1957.3 295.5,1954.4 296.2,1954.6 296.9,1954.2 297.6,1953.0 298.3,1951.9 299.0,1949.7 299.8,1948.0 300.5,1946.0 301.2,1942.2 302.0,1941.9 302.8,1939.6 303.5,1936.3 304.2,1939.3 305.0,1940.7 305.7,1942.6 306.4,1945.8 307.2,1946.5 307.9,1950.5 308.6,1944.9 309.4,1937.1 310.1,1932.6 310.9,1924.5 311.6,1920.3 312.4,1912.8 313.1,1908.4 313.9,1901.0 314.6,1896.1 315.4,1905.0 316.1,1916.1 316.9,1928.8 317.6,1939.4 318.4,1950.1 319.1,1959.9 319.8,1960.0 320.6,1960.2 321.3,1959.2 322.1,1961.2 322.8,1960.4 323.6,1960.6 324.3,1959.8 325.1,1958.7 325.8,1957.8 326.6,1955.5 327.4,1950.2 328.2,1947.4 329.0,1943.4 329.8,1939.6 330.6,1934.8 331.4,1931.0 332.1,1936.5 332.7,1939.8 333.4,1945.4 334.0,1949.0 334.7,1953.8 335.4,1950.7 336.2,1949.0 336.9,1945.8 337.7,1942.7 338.4,1940.0 339.2,1938.1 339.9,1936.2 340.7,1932.2 341.4,1928.9 342.1,1936.0 342.9,1942.5 343.6,1950.0 344.4,1957.2 345.1,1963.4 345.9,1969.2 346.7,1969.5 347.5,1969.6 348.3,1969.8 349.1,1969.7 349.9,1971.1 350.7,1970.0 351.4,1970.3 352.2,1970.4 353.0,1970.2 353.8,1970.6 354.6,1969.6 355.4,1970.3 356.2,1971.0 357.0,1969.1 357.8,1969.3 358.6,1967.9 359.3,1966.3 360.1,1965.4 360.9,1966.3 361.7,1963.9 362.4,1964.4 363.2,1962.1 364.0,1961.9 364.8,1960.2 365.5,1960.6 366.3,1960.3 367.1,1958.1 367.9,1960.9 368.7,1963.6 369.5,1964.0 370.3,1966.4 371.1,1968.9 371.9,1971.2 372.7,1971.4 373.5,1972.2 374.3,1970.5 375.1,1970.1 375.9,1971.8 376.6,1969.1 377.4,1970.8 378.2,1970.0 379.0,1969.5 379.8,1969.2 380.6,1968.6 381.4,1967.4 382.2,1967.3 382.9,1966.4 383.7,1967.5 384.5,1967.0 385.3,1966.6 386.1,1964.8 386.8,1967.2 387.6,1967.9 388.3,1970.6 389.0,1972.0 389.8,1974.1 390.5,1974.9 391.2,1974.0 392.0,1973.4 392.8,1970.9 393.5,1971.3 394.2,1969.1 395.0,1969.0 395.8,1967.6 396.5,1968.7 397.2,1965.7 398.0,1967.0 398.8,1966.2 399.5,1964.1 400.2,1966.3 401.0,1965.7 401.7,1967.2 402.5,1968.1 403.2,1969.5 404.0,1970.6 404.7,1973.8 405.5,1973.3 406.2,1975.7 407.0,1974.7 407.8,1974.1 408.6,1974.6 409.4,1973.8 410.2,1975.5 411.0,1973.8 411.8,1974.1 412.5,1973.8 413.3,1973.7 414.1,1973.1 414.9,1972.4 415.7,1971.8 416.5,1973.4 417.3,1971.5 418.0,1970.6 418.8,1970.0 419.5,1967.9 420.3,1967.3 421.0,1965.5 421.8,1963.3 422.5,1960.9 423.3,1960.5 424.0,1958.7 424.7,1958.7 425.5,1956.9 426.2,1956.3 427.0,1955.5 427.7,1953.7 428.5,1953.6 429.2,1952.8 430.0,1950.0 430.7,1950.8 431.4,1940.1 432.1,1929.5 432.8,1917.6 433.5,1906.8 434.2,1895.9 434.9,1885.9 435.6,1876.5 436.3,1864.7 437.1,1874.6 437.8,1886.1 438.6,1896.3 439.3,1908.4 440.1,1919.6 440.8,1930.7 441.5,1922.6 442.2,1917.2 443.0,1910.4 443.7,1906.2 444.5,1914.0 445.2,1921.3 446.0,1930.4 446.7,1937.4 447.5,1946.1 448.2,1933.9 448.9,1922.2 449.6,1912.2 450.3,1900.4 451.0,1888.4 451.7,1877.6 452.4,1865.6 453.1,1854.5 453.8,1856.8 454.4,1861.0 455.1,1864.9 455.7,1870.1 456.4,1874.4 457.2,1850.7 457.9,1829.2 458.7,1805.8 459.4,1784.8 460.2,1762.7 460.9,1786.8 461.6,1814.7 462.4,1839.6 463.1,1864.1 463.9,1898.1 464.6,1931.2 465.4,1966.0 466.2,1967.2 467.0,1966.1 467.7,1966.8 468.5,1968.5 469.3,1969.7 470.1,1970.1 470.9,1970.1 471.6,1969.9 472.4,1971.8 473.2,1972.1 474.0,1972.8 474.8,1972.1 475.6,1972.3 476.3,1972.7 477.1,1971.7 477.9,1972.3 478.7,1970.6 479.5,1969.8 480.3,1971.7 481.1,1969.5 481.9,1971.7 482.6,1970.3 483.4,1969.2 484.2,1969.5 485.0,1970.4 485.8,1969.9 486.5,1970.7 487.3,1969.7 488.1,1971.8 488.8,1970.9 489.6,1972.3 490.3,1970.9 491.1,1972.4 491.9,1972.2 492.6,1972.3 493.4,1971.6 494.1,1971.5 494.9,1970.9 495.6,1967.7 496.4,1967.2 497.1,1964.8 497.9,1965.8 498.6,1964.4 499.4,1962.3 500.1,1960.5 500.9,1958.3 501.7,1957.4 502.5,1957.6 503.3,1956.7 504.1,1956.1 504.8,1954.6 505.6,1952.5 506.4,1951.0 507.2,1950.5 508.0,1948.9 508.7,1953.7 509.5,1958.8 510.2,1962.0 510.9,1967.6 511.7,1971.2 512.4,1973.9 513.2,1975.6 514.0,1975.4 514.8,1975.3 515.6,1973.8 516.3,1975.9 517.1,1975.0 517.9,1975.1 518.7,1974.2 519.5,1973.9 520.3,1973.8 521.1,1974.3 521.9,1974.5 522.6,1974.2 523.4,1973.9 524.2,1975.5 525.0,1975.5 525.8,1975.9 526.5,1974.1 527.3,1975.2 528.0,1974.7 528.8,1973.3 529.5,1975.0 530.3,1973.6 531.0,1973.0 531.8,1972.8 532.5,1974.4 533.3,1972.5 534.0,1972.7 534.8,1972.9 535.6,1970.4 536.4,1969.0 537.2,1965.5 538.0,1964.2 538.7,1962.4 539.5,1960.4 540.3,1958.3 541.1,1955.4 541.9,1954.1 542.6,1955.6 543.4,1955.0 544.1,1956.1 544.8,1957.2 545.5,1956.4 546.3,1957.1 547.0,1959.4 547.8,1959.9 548.5,1962.2 549.2,1964.1 550.0,1967.6 550.8,1968.6 551.5,1971.5 552.2,1967.7 553.0,1965.9 553.8,1964.8 554.5,1961.9 555.2,1960.7 556.0,1958.3 556.8,1953.9 557.6,1950.6 558.4,1948.1 559.2,1944.9 560.0,1940.7 560.8,1945.1 561.5,1948.7 562.2,1953.5 563.0,1957.8 563.8,1962.2 564.5,1966.8 565.2,1971.7 566.0,1975.5 566.7,1973.7 567.5,1970.8 568.2,1969.4 569.0,1968.1 569.7,1966.7 570.5,1963.2 571.2,1960.8 572.0,1959.1 572.7,1958.3 573.4,1961.4 574.1,1961.9 574.7,1965.6 575.4,1967.5 576.1,1970.3 576.8,1967.8 577.6,1963.3 578.3,1962.3 579.0,1958.1 579.8,1955.5 580.5,1953.6 581.3,1956.1 582.1,1957.4 582.9,1960.3 583.7,1962.4 584.5,1964.6 585.2,1966.9 586.0,1969.0 586.8,1971.8 587.6,1974.4 588.4,1977.0 589.2,1977.8 590.0,1977.8 590.7,1977.7 591.5,1977.5 592.3,1978.3 593.1,1977.5 593.9,1977.6 594.6,1977.6 595.4,1979.1 596.2,1978.0 597.0,1978.4 597.8,1978.9 598.5,1979.6 599.3,1979.9 600.1,1980.0 600.9,1980.2 601.7,1979.4 602.4,1981.3 603.2,1981.0 604.0,1980.4 604.8,1980.4 605.6,1980.8 606.4,1979.7 607.2,1980.9 608.0,1981.6 608.8,1980.3 609.6,1980.6 610.4,1980.0 611.2,1981.6 612.0,1980.3 612.8,1980.3 613.6,1981.1 614.4,1980.3 615.1,1981.6 615.9,1980.4 616.7,1980.8 617.5,1980.1 618.3,1980.8 619.1,1980.5 619.9,1979.6 620.7,1981.5 621.5,1979.8 622.3,1980.8 623.1,1981.0 623.9,1980.5 624.7,1980.2 625.5,1980.5 626.3,1981.8 627.1,1979.0 627.8,1980.7 628.6,1979.6 629.4,1978.9 630.1,1978.9 630.9,1978.5 631.6,1978.5 632.4,1978.5 633.2,1976.9 633.9,1976.1 634.7,1975.8 635.5,1976.7 636.2,1975.2 637.0,1973.8 637.7,1974.7 638.5,1973.1 639.3,1973.3 640.0,1973.6 640.8,1973.1 641.6,1973.3 642.4,1974.5 643.2,1974.4 644.0,1975.7 644.8,1975.7 645.5,1974.9 646.3,1976.6 647.1,1976.0 647.9,1977.8 648.7,1977.5 649.5,1976.8 650.3,1975.9 651.1,1977.3 651.9,1975.9 652.7,1974.9 653.5,1976.5 654.2,1974.4 655.0,1974.2 655.8,1974.0 656.6,1975.2 657.4,1974.8 658.2,1974.3 659.0,1975.2 659.8,1973.8 660.5,1971.2 661.2,1971.2 661.9,1967.1 662.6,1965.0 663.3,1963.5 664.0,1963.3 664.7,1960.1 665.4,1958.0 666.1,1955.1 666.9,1952.2 667.6,1950.3 668.3,1947.1 669.0,1943.4 669.8,1940.3 670.5,1939.0 671.3,1941.7 672.0,1944.9 672.8,1947.5 673.5,1952.7 674.3,1955.0 675.1,1959.3 675.8,1962.1 676.6,1965.3 677.4,1962.4 678.2,1963.1 679.0,1961.5 679.7,1958.2 680.5,1956.8 681.3,1956.8 682.1,1955.3 682.9,1956.6 683.6,1960.9 684.4,1961.2 685.1,1964.7 685.9,1966.9 686.6,1969.0 687.4,1965.8 688.2,1961.2 689.0,1957.9 689.8,1953.8 690.5,1948.0 691.3,1944.7 692.1,1941.2 692.9,1936.5 693.6,1941.6 694.3,1944.5 695.0,1949.0 695.7,1954.3 696.4,1957.9 697.1,1962.2 697.8,1967.0 698.5,1962.8 699.2,1958.3 699.9,1953.6 700.6,1948.7 701.3,1943.9 702.0,1940.3 702.7,1935.7 703.5,1940.0 704.3,1944.3 705.1,1947.9 705.9,1951.0 706.7,1956.5 707.4,1952.3 708.2,1949.2 708.9,1946.2 709.7,1942.1 710.4,1939.9 711.2,1936.2 711.9,1933.1 712.6,1939.3 713.3,1945.8 714.0,1951.3 714.7,1956.2 715.4,1962.9 716.1,1967.9 716.8,1973.6 717.6,1973.1 718.3,1972.3 719.1,1971.4 719.8,1972.8 720.6,1971.3 721.4,1970.9 722.1,1970.3 722.9,1969.5 723.7,1969.2 724.4,1967.2 725.2,1966.7 726.0,1967.3 726.7,1966.6 727.5,1964.9 728.2,1964.9 729.0,1964.5 729.8,1967.2 730.5,1968.0 731.2,1967.2 732.0,1969.2 732.8,1970.2 733.5,1970.8 734.2,1963.7 735.0,1958.0 735.8,1950.4 736.5,1941.3 737.2,1935.1 738.0,1926.1 738.7,1919.2 739.4,1909.8 740.0,1903.0 740.7,1894.7 741.4,1905.1 742.2,1913.5 742.9,1923.8 743.6,1931.6 744.3,1941.9 745.1,1950.4 745.8,1959.5 746.5,1962.8 747.2,1961.6 747.9,1963.5 748.6,1964.5 749.3,1965.3 750.0,1968.0 750.7,1968.9 751.4,1969.1 752.1,1969.6 752.9,1970.2 753.6,1968.3 754.4,1969.8 755.1,1970.2 755.9,1969.7 756.6,1969.5 757.4,1968.8 758.1,1968.6 758.8,1970.1 759.6,1972.1 760.3,1973.4 761.0,1976.1 761.8,1976.1 762.5,1977.5 763.2,1979.0 764.0,1978.0 764.7,1977.0 765.5,1978.5 766.2,1976.5 767.0,1977.2 767.7,1977.1 768.5,1977.2 769.2,1976.4 770.0,1977.9 770.7,1976.9 771.5,1976.1 772.2,1976.7 773.0,1976.0 773.7,1976.2 774.5,1976.7 775.3,1976.3 776.1,1978.2 776.9,1976.8 777.6,1979.2 778.4,1978.4 779.2,1979.0 780.0,1978.5 780.8,1979.5 781.6,1979.1 782.4,1979.8 783.2,1980.0 784.0,1978.6 784.8,1978.6 785.6,1980.6 786.4,1979.0 787.2,1980.2 788.0,1980.3 788.8,1980.5 789.6,1978.7 790.4,1980.2 791.1,1980.8 791.9,1978.9 792.7,1978.8 793.5,1981.0 794.3,1980.6 795.1,1980.6 795.9,1980.8 796.7,1980.5 797.5,1979.5 798.3,1979.5 799.1,1979.2 799.9,1980.8 800.7,1980.8 801.5,1981.6 802.3,1979.9 803.1,1978.9 803.8,1978.7 804.6,1979.3 805.4,1976.8 806.1,1977.6 806.9,1976.2 807.7,1975.8 808.5,1973.4 809.2,1974.3 810.0,1972.6 810.8,1972.6 811.5,1970.2 812.3,1970.0 813.1,1969.9 813.8,1968.4 814.6,1968.3 815.3,1968.4 816.1,1969.9 816.8,1971.9 817.6,1972.3 818.3,1975.0 819.1,1974.6 819.8,1975.6 820.6,1976.9 821.3,1978.6 822.1,1976.1 822.9,1976.0 823.6,1972.4 824.4,1971.6 825.2,1970.6 826.0,1967.4 826.7,1965.6 827.5,1964.5 828.3,1963.6 829.1,1961.9 829.8,1960.2 830.6,1958.1 831.4,1954.9 832.2,1959.5 833.0,1960.2 833.8,1962.4 834.5,1966.1 835.3,1967.5 836.1,1970.1 836.9,1973.1 837.6,1973.5 838.4,1970.3 839.1,1970.2 839.9,1968.9 840.6,1965.7 841.4,1964.0 842.1,1965.2 842.8,1967.2 843.5,1968.3 844.2,1968.4 844.9,1970.4 845.6,1969.7 846.3,1970.6 847.0,1972.4 847.8,1971.6 848.6,1970.6 849.3,1969.4 850.1,1967.9 850.9,1966.6 851.7,1964.3 852.5,1962.4 853.2,1960.0 854.0,1959.8 854.8,1959.2 855.6,1956.8 856.3,1953.9 857.1,1952.2 857.8,1950.4 858.6,1948.8 859.3,1946.1 860.1,1943.7 860.8,1942.4 861.6,1940.3 862.3,1935.9 863.1,1936.1 863.9,1938.8 864.6,1942.4 865.4,1947.4 866.2,1951.3 867.0,1955.2 867.8,1961.5 868.5,1964.7 869.3,1968.4 870.0,1970.0 870.7,1968.9 871.4,1969.3 872.1,1969.6 872.8,1969.6 873.5,1970.7 874.2,1969.5 874.9,1971.1 875.6,1968.3 876.4,1966.2 877.1,1963.9 877.9,1963.3 878.6,1959.6 879.4,1958.0 880.1,1959.5 880.9,1961.0 881.6,1962.6 882.3,1966.0 883.1,1968.2 883.8,1968.9 884.5,1969.0 885.3,1969.7 886.0,1967.7 886.8,1968.0 887.5,1968.9 888.3,1967.6 889.0,1968.9 889.7,1970.8 890.4,1971.4 891.1,1972.4 891.8,1973.4 892.5,1976.9 893.2,1977.8 893.9,1977.7 894.7,1977.5 895.5,1978.7 896.2,1978.9 897.0,1980.0 897.8,1978.8 898.6,1978.4 899.4,1980.3 900.1,1978.8 900.9,1979.2 901.7,1979.3 902.5,1981.0 903.3,1981.4 904.0,1980.2 904.8,1980.9 905.6,1981.3 906.4,1980.8 907.2,1981.8 907.9,1980.8 908.7,1982.0 909.5,1980.8 910.2,1979.9 911.0,1979.0 911.7,1978.2 912.5,1979.2 913.2,1976.7 914.0,1976.8 914.7,1974.4 915.5,1975.6 916.2,1974.4 917.0,1973.5 917.8,1973.6 918.5,1970.7 919.3,1971.7 920.1,1969.5 920.9,1970.8 921.7,1967.9 922.4,1968.0 923.2,1967.9 924.0,1967.0 924.7,1968.9 925.4,1968.3 926.1,1971.4 926.8,1970.4 927.5,1973.8 928.2,1974.5 928.9,1973.7 929.6,1974.9 930.4,1975.4 931.2,1975.7 932.0,1976.2 932.8,1976.6 933.5,1977.7 934.3,1978.0 935.1,1977.7 935.9,1979.8 936.7,1979.2 937.5,1979.3 938.3,1980.4 939.1,1980.2 939.8,1981.2 940.6,1981.4 941.4,1980.6 942.2,1982.2 943.0,1981.9 943.8,1979.8 944.5,1979.9 945.2,1980.1 946.0,1979.5 946.8,1978.8 947.5,1978.4 948.2,1977.6 949.0,1977.4 949.8,1975.2 950.5,1976.1 951.2,1975.4 952.0,1974.5 952.7,1973.7 953.5,1975.1 954.2,1976.3 954.9,1976.8 955.7,1975.9 956.4,1976.0 957.1,1975.7 957.8,1973.0 958.5,1972.6 959.2,1970.1 959.9,1968.6 960.6,1968.9 961.3,1966.7 962.0,1963.9 962.7,1965.8 963.4,1966.1 964.1,1967.3 964.8,1968.9 965.5,1970.0 966.2,1968.8 966.9,1969.6 967.6,1972.6 968.3,1966.1 969.1,1963.1 969.8,1957.9 970.5,1953.1 971.3,1948.6 972.0,1943.4 972.7,1947.5 973.4,1950.9 974.1,1952.3 974.8,1955.3 975.5,1958.8 976.2,1961.7 976.9,1965.2 977.6,1969.3 978.3,1968.2 979.0,1970.1 979.6,1969.0 980.3,1969.7 981.0,1971.0 981.7,1966.8 982.4,1963.4 983.1,1958.7 983.8,1954.0 984.5,1951.2 985.2,1945.9 985.9,1941.3 986.6,1945.4 987.4,1950.3 988.1,1951.4 988.9,1956.8 989.6,1959.7 990.3,1963.0 991.1,1966.2 991.8,1968.6 992.6,1972.6 993.3,1977.2 994.1,1976.8 994.8,1975.8 995.6,1975.9 996.4,1975.8 997.1,1975.7 997.9,1975.7 998.7,1975.3 999.5,1977.0 1000.2,1974.9 1001.0,1975.2 1001.8,1976.3 1002.5,1976.8 1003.3,1976.4 1004.0,1973.8 1004.8,1973.4 1005.5,1973.3 1006.3,1971.7 1007.0,1968.9 1007.8,1969.4 1008.5,1968.1 1009.3,1964.8 1010.0,1965.1 1010.8,1962.3 1011.5,1960.6 1012.3,1960.2 1013.1,1964.6 1013.9,1967.0 1014.7,1968.7 1015.4,1973.4 1016.2,1975.1 1017.0,1979.3 1017.8,1981.7 1018.6,1981.1 1019.4,1979.8 1020.1,1979.3 1020.9,1978.3 1021.7,1978.2 1022.5,1976.2 1023.3,1976.2 1024.0,1974.5 1024.8,1972.6 1025.6,1973.0 1026.3,1974.3 1027.1,1974.0 1027.8,1974.7 1028.6,1976.0 1029.3,1975.8 1030.1,1976.5 1030.8,1977.9 1031.6,1977.7 1032.3,1979.3 1033.1,1980.0 1033.8,1980.8 1034.6,1981.5 1035.4,1981.0 1036.2,1980.7 1036.9,1980.2 1037.7,1978.3 1038.5,1978.1 1039.3,1976.4 1040.1,1975.4 1040.8,1975.3 1041.6,1974.1 1042.4,1973.3 1043.2,1974.7 1043.9,1975.0 1044.7,1974.6 1045.5,1976.1 1046.2,1977.6 1047.0,1976.4 1047.7,1978.0 1048.5,1977.6 1049.3,1979.0 1050.0,1980.1 1050.8,1980.7 1051.6,1981.0 1052.3,1980.1 1053.1,1982.0 1053.8,1980.8 1054.6,1983.0 1055.4,1983.2 1056.1,1984.4 1056.9,1983.5 1057.6,1984.5 1058.4,1983.2 1059.1,1982.0 1059.9,1983.7 1060.6,1981.6 1061.3,1982.5 1062.1,1982.3 1062.8,1982.0 1063.6,1981.7 1064.3,1982.1 1065.1,1981.2 1065.8,1979.4 1066.5,1980.7 1067.3,1981.6 1068.0,1981.2 1068.8,1980.4 1069.5,1980.6 1070.3,1981.1 1071.0,1981.2 1071.8,1979.4 1072.5,1980.0 1073.3,1980.2 1074.0,1979.3 1074.8,1980.9 1075.5,1980.8 1076.3,1980.0 1077.0,1980.7 1077.7,1981.6 1078.5,1980.4 1079.2,1979.8 1080.0,1980.4 1080.7,1980.9 1081.5,1979.7 1082.2,1980.9 1083.0,1980.8 1083.7,1979.3 1084.5,1980.5 1085.2,1979.4 1086.0,1980.7 1086.7,1979.9 1087.5,1979.6 1088.2,1980.3 1089.0,1981.6 1089.8,1980.8 1090.5,1983.3 1091.3,1983.0 1092.1,1984.2 1092.9,1983.5 1093.6,1982.7 1094.4,1981.2 1095.1,1980.4 1095.9,1980.3 1096.7,1981.4 1097.4,1979.9 1098.2,1978.0 1099.0,1978.5 1099.7,1977.7 1100.5,1976.4 1101.2,1976.9 1102.0,1976.8 1102.8,1976.3 1103.5,1974.6 1104.3,1974.8 1105.0,1975.9 1105.7,1975.4 1106.4,1976.9 1107.2,1977.2 1107.9,1979.6 1108.6,1981.0 1109.3,1981.5 1110.0,1980.6 1110.8,1981.7 1111.5,1980.7 1112.3,1980.2 1113.0,1980.8 1113.8,1980.4 1114.5,1982.1 1115.3,1979.8 1116.0,1981.8 1116.8,1980.8 1117.5,1979.8 1118.3,1981.8 1119.0,1980.7 1119.8,1980.1 1120.5,1981.4 1121.3,1979.7 1122.1,1978.5 1122.8,1977.0 1123.6,1975.4 1124.4,1975.9 1125.2,1972.8 1126.0,1971.5 1126.8,1971.3 1127.5,1970.6 1128.3,1968.6 1129.1,1968.8 1129.9,1967.4 1130.7,1965.5 1131.4,1965.0 1132.2,1964.0 1133.0,1961.0 1133.8,1962.5 1134.5,1965.6 1135.3,1965.6 1136.1,1968.4 1136.8,1969.4 1137.6,1970.6 1138.4,1972.0 1139.2,1973.5 1139.9,1975.3 1140.7,1976.2 1141.4,1974.9 1142.2,1974.7 1142.9,1974.7 1143.6,1976.2 1144.4,1974.6 1145.1,1974.2 1145.9,1974.8 1146.6,1974.6 1147.3,1975.9 1148.1,1975.6 1148.8,1973.7 1149.6,1973.9 1150.4,1973.8 1151.2,1972.4 1152.0,1973.3 1152.7,1972.3 1153.5,1969.8 1154.3,1969.7 1155.1,1970.5 1155.9,1970.0 1156.6,1969.8 1157.4,1971.9 1158.1,1975.0 1158.8,1976.1 1159.5,1977.5 1160.3,1980.5 1161.0,1982.4 1161.8,1980.2 1162.6,1980.6 1163.4,1980.2 1164.2,1978.9 1165.0,1978.2 1165.8,1979.1 1166.5,1976.4 1167.3,1975.8 1168.1,1976.0 1168.9,1974.4 1169.7,1974.0 1170.5,1973.9 1171.3,1973.6 1172.1,1973.8 1172.9,1972.8 1173.6,1973.4 1174.4,1974.8 1175.1,1975.1 1175.9,1974.9 1176.7,1975.4 1177.4,1977.4 1178.2,1978.0 1178.9,1977.5 1179.7,1978.0 1180.4,1978.4 1181.2,1979.6 1181.9,1980.8 1182.7,1980.4 1183.4,1980.7 1184.1,1980.5 1184.9,1979.8 1185.6,1978.7 1186.4,1979.0 1187.1,1978.8 1187.8,1980.9 1188.6,1979.7 1189.3,1980.7 1190.1,1980.1 1190.8,1980.3 1191.6,1982.1 1192.3,1981.7 1193.1,1984.0 1193.9,1983.7 1194.6,1984.1 1195.4,1984.6 1196.2,1985.4 1197.0,1984.5 1197.8,1984.3 1198.5,1985.6 1199.3,1985.0 1200.1,1983.7 1200.9,1985.3 1201.7,1984.4 1202.5,1983.8 1203.2,1983.8 1204.0,1985.1 1204.8,1983.6 1205.6,1984.6 1206.4,1983.4 1207.2,1983.9 1207.9,1984.3 1208.7,1983.4 1209.5,1982.9 1210.3,1983.8 1211.0,1984.2 1211.8,1982.8 1212.5,1983.6 1213.3,1983.3 1214.1,1984.1 1214.8,1982.5 1215.6,1982.6 1216.4,1982.3 1217.1,1984.1 1217.9,1983.7 1218.7,1983.9 1219.4,1983.5 1220.2,1984.2 1220.9,1982.6 1221.7,1981.8 1222.5,1983.0 1223.3,1981.5 1224.0,1981.0 1224.8,1980.4 1225.6,1981.5 1226.4,1981.5 1227.1,1979.4 1227.9,1979.5 1228.7,1980.5 1229.5,1979.7 1230.2,1979.9 1231.0,1977.7 1231.8,1978.3 1232.6,1977.1 1233.4,1978.5 1234.1,1979.0 1234.9,1978.8 1235.7,1979.5 1236.5,1979.1 1237.2,1981.5 1238.0,1980.1 1238.8,1981.3 1239.6,1981.1 1240.3,1982.2 1241.1,1982.3 1241.9,1983.8 1242.7,1982.2 1243.4,1981.4 1244.2,1979.4 1245.0,1976.8 1245.7,1977.4 1246.5,1974.8 1247.2,1974.9 1248.0,1973.3 1248.7,1972.8 1249.5,1975.1 1250.2,1975.0 1250.9,1975.1 1251.7,1975.1 1252.4,1975.4 1253.2,1975.7 1253.9,1976.1 1254.6,1977.2 1255.4,1977.7 1256.1,1979.9 1256.9,1977.9 1257.6,1979.0 1258.4,1977.4 1259.1,1976.0 1259.9,1975.3 1260.6,1977.1 1261.4,1974.5 1262.2,1975.0 1262.9,1974.7 1263.7,1973.4 1264.4,1972.5 1265.2,1972.9 1265.9,1972.3 1266.7,1971.7 1267.4,1970.5 1268.2,1969.9 1269.0,1971.7 1269.7,1972.5 1270.5,1974.7 1271.2,1975.5 1272.0,1976.2 1272.8,1977.7 1273.5,1979.3 1274.3,1980.7 1275.1,1981.3 1275.9,1980.5 1276.7,1980.6 1277.5,1980.6 1278.2,1981.3 1279.0,1981.1 1279.8,1983.1 1280.6,1982.5 1281.4,1982.4 1282.2,1983.3 1283.0,1983.6 1283.8,1982.8 1284.6,1984.1 1285.3,1984.5 1286.1,1983.8 1286.9,1984.6 1287.7,1985.1 1288.5,1983.9 1289.3,1984.3 1290.1,1982.1 1290.9,1980.8 1291.7,1980.5 1292.5,1977.8 1293.3,1976.0 1294.0,1976.0 1294.8,1974.0 1295.6,1974.3 1296.4,1971.5 1297.2,1971.5 1298.0,1969.1 1298.8,1968.9 1299.6,1967.5 1300.3,1969.4 1301.0,1971.1 1301.7,1973.4 1302.5,1975.3 1303.2,1976.5 1303.9,1979.0 1304.6,1979.2 1305.3,1978.7 1306.1,1980.1 1306.8,1979.2 1307.6,1979.2 1308.3,1977.4 1309.1,1977.6 1309.8,1978.7 1310.6,1977.0 1311.3,1978.3 1312.1,1978.3 1312.8,1977.6 1313.6,1975.8 1314.3,1976.9 1315.1,1977.2 1315.8,1974.8 1316.6,1976.4 1317.4,1976.2 1318.2,1978.9 1319.0,1977.8 1319.7,1980.1 1320.5,1980.6 1321.3,1981.4 1322.1,1982.4 1322.9,1982.8 1323.7,1980.7 1324.4,1982.1 1325.2,1980.7 1326.0,1982.0 1326.8,1980.2 1327.5,1979.7 1328.3,1980.0 1329.1,1979.5 1329.8,1979.7 1330.6,1979.0 1331.4,1978.6 1332.2,1978.7 1332.9,1979.4 1333.7,1977.8 1334.5,1978.4 1335.2,1977.8 1336.0,1976.7 1336.8,1976.0 1337.6,1976.6 1338.3,1976.1 1339.1,1975.4 1339.9,1976.3 1340.6,1976.5 1341.4,1976.9 1342.2,1977.4 1342.9,1978.8 1343.7,1978.6 1344.5,1979.6 1345.2,1979.6 1346.0,1979.3 1346.8,1979.2 1347.5,1980.6 1348.3,1980.9 1349.1,1979.8 1349.8,1980.4 1350.6,1982.8 1351.4,1981.5 1352.1,1981.3 1352.9,1983.7 1353.7,1984.4 1354.4,1984.0 1355.2,1984.7" fill="none" stroke="#FF0000" stroke-width="6.0" stroke-linejoin="round" stroke-linecap="round"/>
</g>
<g>
<rect x="127.3" y="51.1" width="1225.0" height="973.9" fill="none" stroke="#000" stroke-width="3.5"/>
<rect x="123" y="1025" width="1233.4" height="971.8" fill="none" stroke="#000" stroke-width="3.5"/>
<line x1="127.3" y1="1025" x2="127.3" y2="1039" stroke="#000" stroke-width="3.5"/>
<line x1="433.6" y1="1025" x2="433.6" y2="1039" stroke="#000" stroke-width="3.5"/>
<line x1="739.8" y1="1025" x2="739.8" y2="1039" stroke="#000" stroke-width="3.5"/>
<line x1="1046.0" y1="1025" x2="1046.0" y2="1039" stroke="#000" stroke-width="3.5"/>
<line x1="1352.3" y1="1025" x2="1352.3" y2="1039" stroke="#000" stroke-width="3.5"/>
<line x1="123.0" y1="1996.8" x2="123.0" y2="2019" stroke="#000" stroke-width="3.5"/>
<line x1="431.4" y1="1996.8" x2="431.4" y2="2019" stroke="#000" stroke-width="3.5"/>
<line x1="739.7" y1="1996.8" x2="739.7" y2="2019" stroke="#000" stroke-width="3.5"/>
<line x1="1048.1" y1="1996.8" x2="1048.1" y2="2019" stroke="#000" stroke-width="3.5"/>
<line x1="1356.4" y1="1996.8" x2="1356.4" y2="2019" stroke="#000" stroke-width="3.5"/>
</g>
</svg>
</div></body></html>
